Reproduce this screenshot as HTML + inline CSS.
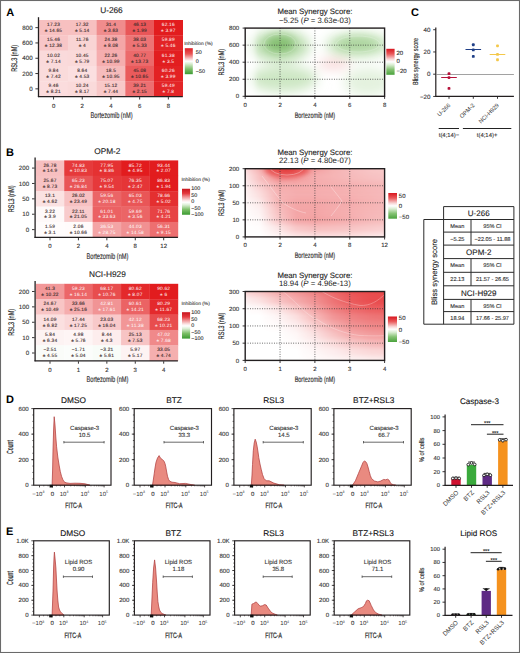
<!DOCTYPE html>
<html><head><meta charset="utf-8"><title>Figure</title>
<style>html,body{margin:0;padding:0;background:#fff;}svg{display:block;}</style>
</head><body>
<svg width="520" height="653" viewBox="0 0 520 653" font-family='"Liberation Sans", sans-serif' text-rendering="geometricPrecision">
<defs>
<linearGradient id="cbA" x1="0" y1="0" x2="0" y2="1">
<stop offset="0" stop-color="#de1f26"/><stop offset="0.22" stop-color="#ea5656"/>
<stop offset="0.42" stop-color="#f8d2d2"/><stop offset="0.5" stop-color="#ffffff"/>
<stop offset="0.6" stop-color="#d8ecd0"/><stop offset="0.8" stop-color="#7fbf6c"/>
<stop offset="1" stop-color="#3c9a32"/></linearGradient>
<linearGradient id="cbB" x1="0" y1="0" x2="0" y2="1">
<stop offset="0" stop-color="#c8161e"/><stop offset="0.18" stop-color="#e43a3e"/>
<stop offset="0.3" stop-color="#ee8a8c"/><stop offset="0.45" stop-color="#fbe4e4"/><stop offset="0.52" stop-color="#ffffff"/>
<stop offset="0.62" stop-color="#dcefd6"/><stop offset="0.8" stop-color="#7cbf68"/>
<stop offset="1" stop-color="#3a9a30"/></linearGradient>
<linearGradient id="cbS" x1="0" y1="0" x2="0" y2="1">
<stop offset="0" stop-color="#d8161e"/><stop offset="0.2" stop-color="#ea5a5c"/>
<stop offset="0.4" stop-color="#f8d6d6"/><stop offset="0.5" stop-color="#ffffff"/>
<stop offset="0.62" stop-color="#d8ecd0"/><stop offset="0.8" stop-color="#84c272"/>
<stop offset="1" stop-color="#4aa23c"/></linearGradient>
<filter id="blur4" x="-50%" y="-50%" width="200%" height="200%"><feGaussianBlur stdDeviation="4"/></filter>
<filter id="blur6" x="-50%" y="-50%" width="200%" height="200%"><feGaussianBlur stdDeviation="6"/></filter>
<filter id="blur3" x="-50%" y="-50%" width="200%" height="200%"><feGaussianBlur stdDeviation="2.5"/></filter>
<clipPath id="clip_synA"><rect x="245.2" y="28.1" width="139.40" height="68.20"/></clipPath>
<clipPath id="clip_synB"><rect x="245.2" y="168.7" width="139.40" height="68.20"/></clipPath>
<clipPath id="clip_synC"><rect x="245.2" y="291.5" width="139.40" height="68.90"/></clipPath>
<g id="synA"><rect x="245.2" y="28.1" width="139.40" height="68.20" fill="#ffffff"/>
<g filter="url(#blur6)">
<ellipse cx="283" cy="79" rx="34" ry="13" fill="#cde7c4"/>
<ellipse cx="368" cy="82" rx="24" ry="14" fill="#e4f2df"/>
<ellipse cx="280" cy="46" rx="30" ry="16" fill="#c0e0b5"/>
<ellipse cx="358" cy="45" rx="32" ry="12" fill="#c6e4bc"/>
<ellipse cx="334" cy="64" rx="16" ry="4.5" fill="#f7d2d2"/>
</g>
<g filter="url(#blur4)">
<ellipse cx="280" cy="44" rx="15" ry="9" fill="#86c073"/>
<ellipse cx="357" cy="44" rx="20" ry="6.5" fill="#acd49e"/>
</g>
<g fill="none" stroke="#ffffff" stroke-width="0.6" opacity="0.35">
<ellipse cx="280" cy="44" rx="16" ry="10"/>
<ellipse cx="358" cy="44" rx="22" ry="8"/>
</g>
<rect x="245.2" y="28.1" width="10" height="68.20" fill="#ffffff" opacity="0.5" filter="url(#blur3)"/>
</g>
<g id="synB">
<linearGradient id="synB_g0" x1="0" y1="0" x2="1" y2="0"><stop offset="0.000" stop-color="#fceaea"/><stop offset="0.062" stop-color="#f9cecf"/><stop offset="0.125" stop-color="#f5b3b3"/><stop offset="0.188" stop-color="#f18d8e"/><stop offset="0.250" stop-color="#ec6869"/><stop offset="0.312" stop-color="#ed7273"/><stop offset="0.375" stop-color="#ef7c7d"/><stop offset="0.438" stop-color="#f18e8f"/><stop offset="0.500" stop-color="#f39fa0"/><stop offset="0.562" stop-color="#f4a8a9"/><stop offset="0.625" stop-color="#f5b2b2"/><stop offset="0.688" stop-color="#f6b7b7"/><stop offset="0.750" stop-color="#f7bcbd"/><stop offset="0.812" stop-color="#f7c0c1"/><stop offset="0.875" stop-color="#f8c4c5"/><stop offset="0.938" stop-color="#f8c7c7"/><stop offset="1.000" stop-color="#f8c9c9"/></linearGradient><linearGradient id="synB_g1" x1="0" y1="0" x2="1" y2="0"><stop offset="0.000" stop-color="#fdefef"/><stop offset="0.062" stop-color="#fad3d4"/><stop offset="0.125" stop-color="#f6b8b9"/><stop offset="0.188" stop-color="#f29a9b"/><stop offset="0.250" stop-color="#ef7c7d"/><stop offset="0.312" stop-color="#ef8385"/><stop offset="0.375" stop-color="#f08b8c"/><stop offset="0.438" stop-color="#f29899"/><stop offset="0.500" stop-color="#f4a5a6"/><stop offset="0.562" stop-color="#f4abac"/><stop offset="0.625" stop-color="#f5b2b2"/><stop offset="0.688" stop-color="#f6b6b7"/><stop offset="0.750" stop-color="#f6babb"/><stop offset="0.812" stop-color="#f7bebf"/><stop offset="0.875" stop-color="#f7c2c2"/><stop offset="0.938" stop-color="#f8c4c4"/><stop offset="1.000" stop-color="#f8c6c7"/></linearGradient><linearGradient id="synB_g2" x1="0" y1="0" x2="1" y2="0"><stop offset="0.000" stop-color="#fef3f4"/><stop offset="0.062" stop-color="#fad8d9"/><stop offset="0.125" stop-color="#f7bebe"/><stop offset="0.188" stop-color="#f4a7a8"/><stop offset="0.250" stop-color="#f19091"/><stop offset="0.312" stop-color="#f29596"/><stop offset="0.375" stop-color="#f29a9a"/><stop offset="0.438" stop-color="#f3a2a3"/><stop offset="0.500" stop-color="#f4aaab"/><stop offset="0.562" stop-color="#f5aeaf"/><stop offset="0.625" stop-color="#f5b2b2"/><stop offset="0.688" stop-color="#f6b5b6"/><stop offset="0.750" stop-color="#f6b8b9"/><stop offset="0.812" stop-color="#f7bcbc"/><stop offset="0.875" stop-color="#f7bfc0"/><stop offset="0.938" stop-color="#f7c1c2"/><stop offset="1.000" stop-color="#f8c3c4"/></linearGradient><linearGradient id="synB_g3" x1="0" y1="0" x2="1" y2="0"><stop offset="0.000" stop-color="#fef5f5"/><stop offset="0.062" stop-color="#fadadb"/><stop offset="0.125" stop-color="#f7c0c0"/><stop offset="0.188" stop-color="#f4abab"/><stop offset="0.250" stop-color="#f29596"/><stop offset="0.312" stop-color="#f2999a"/><stop offset="0.375" stop-color="#f39d9e"/><stop offset="0.438" stop-color="#f4a4a5"/><stop offset="0.500" stop-color="#f4abac"/><stop offset="0.562" stop-color="#f5aeaf"/><stop offset="0.625" stop-color="#f5b1b2"/><stop offset="0.688" stop-color="#f6b5b5"/><stop offset="0.750" stop-color="#f6b8b8"/><stop offset="0.812" stop-color="#f6bbbb"/><stop offset="0.875" stop-color="#f7bebe"/><stop offset="0.938" stop-color="#f7c0c1"/><stop offset="1.000" stop-color="#f7c2c3"/></linearGradient><linearGradient id="synB_g4" x1="0" y1="0" x2="1" y2="0"><stop offset="0.000" stop-color="#fef6f6"/><stop offset="0.062" stop-color="#fbdfdf"/><stop offset="0.125" stop-color="#f8c7c8"/><stop offset="0.188" stop-color="#f6b4b4"/><stop offset="0.250" stop-color="#f3a0a1"/><stop offset="0.312" stop-color="#f3a2a3"/><stop offset="0.375" stop-color="#f4a4a4"/><stop offset="0.438" stop-color="#f4a8a9"/><stop offset="0.500" stop-color="#f5acad"/><stop offset="0.562" stop-color="#f5aeaf"/><stop offset="0.625" stop-color="#f5b1b1"/><stop offset="0.688" stop-color="#f5b3b3"/><stop offset="0.750" stop-color="#f6b5b6"/><stop offset="0.812" stop-color="#f6b8b8"/><stop offset="0.875" stop-color="#f6babb"/><stop offset="0.938" stop-color="#f7bcbd"/><stop offset="1.000" stop-color="#f7bebf"/></linearGradient><linearGradient id="synB_g5" x1="0" y1="0" x2="1" y2="0"><stop offset="0.000" stop-color="#fef8f8"/><stop offset="0.062" stop-color="#fce3e4"/><stop offset="0.125" stop-color="#f9cecf"/><stop offset="0.188" stop-color="#f7bdbe"/><stop offset="0.250" stop-color="#f4abac"/><stop offset="0.312" stop-color="#f4abab"/><stop offset="0.375" stop-color="#f4aaab"/><stop offset="0.438" stop-color="#f5acac"/><stop offset="0.500" stop-color="#f5adae"/><stop offset="0.562" stop-color="#f5aeaf"/><stop offset="0.625" stop-color="#f5b0b0"/><stop offset="0.688" stop-color="#f5b1b2"/><stop offset="0.750" stop-color="#f5b2b3"/><stop offset="0.812" stop-color="#f6b4b5"/><stop offset="0.875" stop-color="#f6b7b7"/><stop offset="0.938" stop-color="#f6b9b9"/><stop offset="1.000" stop-color="#f6bbbb"/></linearGradient><linearGradient id="synB_g6" x1="0" y1="0" x2="1" y2="0"><stop offset="0.000" stop-color="#fef9f9"/><stop offset="0.062" stop-color="#fce5e5"/><stop offset="0.125" stop-color="#f9d1d1"/><stop offset="0.188" stop-color="#f7bfc0"/><stop offset="0.250" stop-color="#f5aeae"/><stop offset="0.312" stop-color="#f5acad"/><stop offset="0.375" stop-color="#f4abac"/><stop offset="0.438" stop-color="#f5acad"/><stop offset="0.500" stop-color="#f5adae"/><stop offset="0.562" stop-color="#f5aeaf"/><stop offset="0.625" stop-color="#f5afb0"/><stop offset="0.688" stop-color="#f5b0b1"/><stop offset="0.750" stop-color="#f5b1b2"/><stop offset="0.812" stop-color="#f6b4b4"/><stop offset="0.875" stop-color="#f6b6b6"/><stop offset="0.938" stop-color="#f6b8b9"/><stop offset="1.000" stop-color="#f6babb"/></linearGradient><linearGradient id="synB_g7" x1="0" y1="0" x2="1" y2="0"><stop offset="0.000" stop-color="#fefafa"/><stop offset="0.062" stop-color="#fce8e8"/><stop offset="0.125" stop-color="#fad6d7"/><stop offset="0.188" stop-color="#f7c3c3"/><stop offset="0.250" stop-color="#f5afb0"/><stop offset="0.312" stop-color="#f5adae"/><stop offset="0.375" stop-color="#f4abac"/><stop offset="0.438" stop-color="#f5acac"/><stop offset="0.500" stop-color="#f5acad"/><stop offset="0.562" stop-color="#f5adae"/><stop offset="0.625" stop-color="#f5aeaf"/><stop offset="0.688" stop-color="#f5afb0"/><stop offset="0.750" stop-color="#f5b1b1"/><stop offset="0.812" stop-color="#f5b3b3"/><stop offset="0.875" stop-color="#f6b5b6"/><stop offset="0.938" stop-color="#f6b7b8"/><stop offset="1.000" stop-color="#f6b9ba"/></linearGradient><linearGradient id="synB_g8" x1="0" y1="0" x2="1" y2="0"><stop offset="0.000" stop-color="#fefbfb"/><stop offset="0.062" stop-color="#fcebeb"/><stop offset="0.125" stop-color="#fbdcdc"/><stop offset="0.188" stop-color="#f8c6c7"/><stop offset="0.250" stop-color="#f5b1b2"/><stop offset="0.312" stop-color="#f5aeaf"/><stop offset="0.375" stop-color="#f4abac"/><stop offset="0.438" stop-color="#f4abac"/><stop offset="0.500" stop-color="#f4abac"/><stop offset="0.562" stop-color="#f5acad"/><stop offset="0.625" stop-color="#f5adae"/><stop offset="0.688" stop-color="#f5afaf"/><stop offset="0.750" stop-color="#f5b0b0"/><stop offset="0.812" stop-color="#f5b2b2"/><stop offset="0.875" stop-color="#f6b4b5"/><stop offset="0.938" stop-color="#f6b6b7"/><stop offset="1.000" stop-color="#f6b8b9"/></linearGradient><linearGradient id="synB_g9" x1="0" y1="0" x2="1" y2="0"><stop offset="0.000" stop-color="#fefbfb"/><stop offset="0.062" stop-color="#fdecec"/><stop offset="0.125" stop-color="#fbdede"/><stop offset="0.188" stop-color="#f8c8c8"/><stop offset="0.250" stop-color="#f5b2b3"/><stop offset="0.312" stop-color="#f5aeaf"/><stop offset="0.375" stop-color="#f4abac"/><stop offset="0.438" stop-color="#f4abac"/><stop offset="0.500" stop-color="#f4abac"/><stop offset="0.562" stop-color="#f5acad"/><stop offset="0.625" stop-color="#f5adae"/><stop offset="0.688" stop-color="#f5aeaf"/><stop offset="0.750" stop-color="#f5afb0"/><stop offset="0.812" stop-color="#f5b2b2"/><stop offset="0.875" stop-color="#f6b4b4"/><stop offset="0.938" stop-color="#f6b6b7"/><stop offset="1.000" stop-color="#f6b8b9"/></linearGradient><linearGradient id="synB_g10" x1="0" y1="0" x2="1" y2="0"><stop offset="0.000" stop-color="#fffcfc"/><stop offset="0.062" stop-color="#fdeff0"/><stop offset="0.125" stop-color="#fbe3e3"/><stop offset="0.188" stop-color="#f9cbcc"/><stop offset="0.250" stop-color="#f6b4b4"/><stop offset="0.312" stop-color="#f5aeaf"/><stop offset="0.375" stop-color="#f4a9aa"/><stop offset="0.438" stop-color="#f4a9aa"/><stop offset="0.500" stop-color="#f4a9aa"/><stop offset="0.562" stop-color="#f4abab"/><stop offset="0.625" stop-color="#f5acad"/><stop offset="0.688" stop-color="#f5adae"/><stop offset="0.750" stop-color="#f5aeaf"/><stop offset="0.812" stop-color="#f5b1b2"/><stop offset="0.875" stop-color="#f6b4b4"/><stop offset="0.938" stop-color="#f6b6b7"/><stop offset="1.000" stop-color="#f6b8b9"/></linearGradient><linearGradient id="synB_g11" x1="0" y1="0" x2="1" y2="0"><stop offset="0.000" stop-color="#fffdfd"/><stop offset="0.062" stop-color="#fdf3f3"/><stop offset="0.125" stop-color="#fce9e9"/><stop offset="0.188" stop-color="#f9cfd0"/><stop offset="0.250" stop-color="#f6b6b6"/><stop offset="0.312" stop-color="#f5aeaf"/><stop offset="0.375" stop-color="#f4a7a8"/><stop offset="0.438" stop-color="#f4a7a8"/><stop offset="0.500" stop-color="#f4a7a8"/><stop offset="0.562" stop-color="#f4a9aa"/><stop offset="0.625" stop-color="#f4abac"/><stop offset="0.688" stop-color="#f5acad"/><stop offset="0.750" stop-color="#f5adae"/><stop offset="0.812" stop-color="#f5b1b1"/><stop offset="0.875" stop-color="#f6b4b4"/><stop offset="0.938" stop-color="#f6b6b7"/><stop offset="1.000" stop-color="#f6b8b9"/></linearGradient><linearGradient id="synB_g12" x1="0" y1="0" x2="1" y2="0"><stop offset="0.000" stop-color="#fffdfd"/><stop offset="0.062" stop-color="#fef4f4"/><stop offset="0.125" stop-color="#fceaea"/><stop offset="0.188" stop-color="#f9d0d1"/><stop offset="0.250" stop-color="#f6b7b7"/><stop offset="0.312" stop-color="#f5afaf"/><stop offset="0.375" stop-color="#f4a7a7"/><stop offset="0.438" stop-color="#f4a7a7"/><stop offset="0.500" stop-color="#f4a7a7"/><stop offset="0.562" stop-color="#f4a9aa"/><stop offset="0.625" stop-color="#f4abac"/><stop offset="0.688" stop-color="#f5acad"/><stop offset="0.750" stop-color="#f5adae"/><stop offset="0.812" stop-color="#f5b1b1"/><stop offset="0.875" stop-color="#f6b4b4"/><stop offset="0.938" stop-color="#f6b6b7"/><stop offset="1.000" stop-color="#f6b8b9"/></linearGradient><linearGradient id="synB_g13" x1="0" y1="0" x2="1" y2="0"><stop offset="0.000" stop-color="#fffefe"/><stop offset="0.062" stop-color="#fef6f6"/><stop offset="0.125" stop-color="#fdeeee"/><stop offset="0.188" stop-color="#fad4d4"/><stop offset="0.250" stop-color="#f6babb"/><stop offset="0.312" stop-color="#f5afb0"/><stop offset="0.375" stop-color="#f4a5a6"/><stop offset="0.438" stop-color="#f4a5a6"/><stop offset="0.500" stop-color="#f4a5a6"/><stop offset="0.562" stop-color="#f4a7a8"/><stop offset="0.625" stop-color="#f4aaab"/><stop offset="0.688" stop-color="#f5acac"/><stop offset="0.750" stop-color="#f5adae"/><stop offset="0.812" stop-color="#f5b1b1"/><stop offset="0.875" stop-color="#f6b4b4"/><stop offset="0.938" stop-color="#f6b6b7"/><stop offset="1.000" stop-color="#f6b8b9"/></linearGradient><linearGradient id="synB_g14" x1="0" y1="0" x2="1" y2="0"><stop offset="0.000" stop-color="#ffffff"/><stop offset="0.062" stop-color="#fef8f8"/><stop offset="0.125" stop-color="#fdf1f2"/><stop offset="0.188" stop-color="#fad8d8"/><stop offset="0.250" stop-color="#f7bebe"/><stop offset="0.312" stop-color="#f5b0b1"/><stop offset="0.375" stop-color="#f3a3a4"/><stop offset="0.438" stop-color="#f3a3a4"/><stop offset="0.500" stop-color="#f3a3a4"/><stop offset="0.562" stop-color="#f4a6a7"/><stop offset="0.625" stop-color="#f4a9aa"/><stop offset="0.688" stop-color="#f4abac"/><stop offset="0.750" stop-color="#f5adae"/><stop offset="0.812" stop-color="#f5b1b1"/><stop offset="0.875" stop-color="#f6b4b4"/><stop offset="0.938" stop-color="#f6b6b7"/><stop offset="1.000" stop-color="#f6b8b9"/></linearGradient><linearGradient id="synB_g15" x1="0" y1="0" x2="1" y2="0"><stop offset="0.000" stop-color="#ffffff"/><stop offset="0.062" stop-color="#fef9f9"/><stop offset="0.125" stop-color="#fdf3f3"/><stop offset="0.188" stop-color="#fad9d9"/><stop offset="0.250" stop-color="#f7bfc0"/><stop offset="0.312" stop-color="#f5b1b2"/><stop offset="0.375" stop-color="#f3a3a4"/><stop offset="0.438" stop-color="#f3a3a4"/><stop offset="0.500" stop-color="#f3a3a3"/><stop offset="0.562" stop-color="#f4a6a7"/><stop offset="0.625" stop-color="#f4a9aa"/><stop offset="0.688" stop-color="#f4abac"/><stop offset="0.750" stop-color="#f5adae"/><stop offset="0.812" stop-color="#f5b1b1"/><stop offset="0.875" stop-color="#f6b4b5"/><stop offset="0.938" stop-color="#f6b6b7"/><stop offset="1.000" stop-color="#f6b9b9"/></linearGradient><linearGradient id="synB_g16" x1="0" y1="0" x2="1" y2="0"><stop offset="0.000" stop-color="#ffffff"/><stop offset="0.062" stop-color="#fefafa"/><stop offset="0.125" stop-color="#fef5f5"/><stop offset="0.188" stop-color="#fbdddd"/><stop offset="0.250" stop-color="#f8c4c4"/><stop offset="0.312" stop-color="#f6b4b5"/><stop offset="0.375" stop-color="#f4a5a6"/><stop offset="0.438" stop-color="#f4a4a4"/><stop offset="0.500" stop-color="#f3a3a3"/><stop offset="0.562" stop-color="#f4a6a7"/><stop offset="0.625" stop-color="#f4a9aa"/><stop offset="0.688" stop-color="#f5acac"/><stop offset="0.750" stop-color="#f5aeaf"/><stop offset="0.812" stop-color="#f5b2b3"/><stop offset="0.875" stop-color="#f6b6b7"/><stop offset="0.938" stop-color="#f6b9b9"/><stop offset="1.000" stop-color="#f6bbbc"/></linearGradient><linearGradient id="synB_g17" x1="0" y1="0" x2="1" y2="0"><stop offset="0.000" stop-color="#ffffff"/><stop offset="0.062" stop-color="#fffcfc"/><stop offset="0.125" stop-color="#fef8f8"/><stop offset="0.188" stop-color="#fbe0e1"/><stop offset="0.250" stop-color="#f8c8c9"/><stop offset="0.312" stop-color="#f6b7b8"/><stop offset="0.375" stop-color="#f4a7a7"/><stop offset="0.438" stop-color="#f4a5a5"/><stop offset="0.500" stop-color="#f3a3a3"/><stop offset="0.562" stop-color="#f4a6a7"/><stop offset="0.625" stop-color="#f4a9aa"/><stop offset="0.688" stop-color="#f5acad"/><stop offset="0.750" stop-color="#f5afb0"/><stop offset="0.812" stop-color="#f6b4b4"/><stop offset="0.875" stop-color="#f6b8b8"/><stop offset="0.938" stop-color="#f6bbbc"/><stop offset="1.000" stop-color="#f7bebf"/></linearGradient><linearGradient id="synB_g18" x1="0" y1="0" x2="1" y2="0"><stop offset="0.000" stop-color="#ffffff"/><stop offset="0.062" stop-color="#fffcfc"/><stop offset="0.125" stop-color="#fef9f9"/><stop offset="0.188" stop-color="#fbe2e2"/><stop offset="0.250" stop-color="#f9cbcc"/><stop offset="0.312" stop-color="#f6babb"/><stop offset="0.375" stop-color="#f4a9aa"/><stop offset="0.438" stop-color="#f4a7a8"/><stop offset="0.500" stop-color="#f4a4a5"/><stop offset="0.562" stop-color="#f4a8a8"/><stop offset="0.625" stop-color="#f4abab"/><stop offset="0.688" stop-color="#f5aeae"/><stop offset="0.750" stop-color="#f5b1b2"/><stop offset="0.812" stop-color="#f6b5b6"/><stop offset="0.875" stop-color="#f6b9ba"/><stop offset="0.938" stop-color="#f7bdbd"/><stop offset="1.000" stop-color="#f7c0c0"/></linearGradient><linearGradient id="synB_g19" x1="0" y1="0" x2="1" y2="0"><stop offset="0.000" stop-color="#ffffff"/><stop offset="0.062" stop-color="#fffdfd"/><stop offset="0.125" stop-color="#fefbfb"/><stop offset="0.188" stop-color="#fce9e9"/><stop offset="0.250" stop-color="#fad7d8"/><stop offset="0.312" stop-color="#f8c7c8"/><stop offset="0.375" stop-color="#f6b7b8"/><stop offset="0.438" stop-color="#f5b3b4"/><stop offset="0.500" stop-color="#f5afb0"/><stop offset="0.562" stop-color="#f5b2b2"/><stop offset="0.625" stop-color="#f6b4b4"/><stop offset="0.688" stop-color="#f6b6b7"/><stop offset="0.750" stop-color="#f6b9ba"/><stop offset="0.812" stop-color="#f7bdbe"/><stop offset="0.875" stop-color="#f7c1c1"/><stop offset="0.938" stop-color="#f8c4c4"/><stop offset="1.000" stop-color="#f8c7c8"/></linearGradient><linearGradient id="synB_g20" x1="0" y1="0" x2="1" y2="0"><stop offset="0.000" stop-color="#ffffff"/><stop offset="0.062" stop-color="#fffefe"/><stop offset="0.125" stop-color="#fffdfd"/><stop offset="0.188" stop-color="#fdf0f0"/><stop offset="0.250" stop-color="#fce3e3"/><stop offset="0.312" stop-color="#fad4d4"/><stop offset="0.375" stop-color="#f8c5c5"/><stop offset="0.438" stop-color="#f7c0c0"/><stop offset="0.500" stop-color="#f6babb"/><stop offset="0.562" stop-color="#f7bcbc"/><stop offset="0.625" stop-color="#f7bdbe"/><stop offset="0.688" stop-color="#f7bfc0"/><stop offset="0.750" stop-color="#f7c1c2"/><stop offset="0.812" stop-color="#f8c5c5"/><stop offset="0.875" stop-color="#f8c8c8"/><stop offset="0.938" stop-color="#f8cbcc"/><stop offset="1.000" stop-color="#f9cecf"/></linearGradient><linearGradient id="synB_g21" x1="0" y1="0" x2="1" y2="0"><stop offset="0.000" stop-color="#ffffff"/><stop offset="0.062" stop-color="#fffefe"/><stop offset="0.125" stop-color="#fffdfd"/><stop offset="0.188" stop-color="#fdf2f2"/><stop offset="0.250" stop-color="#fce6e7"/><stop offset="0.312" stop-color="#fad8d8"/><stop offset="0.375" stop-color="#f8c9ca"/><stop offset="0.438" stop-color="#f8c4c5"/><stop offset="0.500" stop-color="#f7bfbf"/><stop offset="0.562" stop-color="#f7c0c0"/><stop offset="0.625" stop-color="#f7c1c1"/><stop offset="0.688" stop-color="#f7c3c3"/><stop offset="0.750" stop-color="#f8c5c5"/><stop offset="0.812" stop-color="#f8c8c9"/><stop offset="0.875" stop-color="#f9cbcc"/><stop offset="0.938" stop-color="#f9cecf"/><stop offset="1.000" stop-color="#f9d2d2"/></linearGradient><linearGradient id="synB_g22" x1="0" y1="0" x2="1" y2="0"><stop offset="0.000" stop-color="#ffffff"/><stop offset="0.062" stop-color="#fffefe"/><stop offset="0.125" stop-color="#fffefe"/><stop offset="0.188" stop-color="#fef5f5"/><stop offset="0.250" stop-color="#fdeded"/><stop offset="0.312" stop-color="#fbe1e2"/><stop offset="0.375" stop-color="#fad6d7"/><stop offset="0.438" stop-color="#f9d2d2"/><stop offset="0.500" stop-color="#f9cece"/><stop offset="0.562" stop-color="#f9cecf"/><stop offset="0.625" stop-color="#f9cfcf"/><stop offset="0.688" stop-color="#f9d0d0"/><stop offset="0.750" stop-color="#f9d1d1"/><stop offset="0.812" stop-color="#fad4d4"/><stop offset="0.875" stop-color="#fad7d8"/><stop offset="0.938" stop-color="#fadada"/><stop offset="1.000" stop-color="#fbdddd"/></linearGradient><linearGradient id="synB_g23" x1="0" y1="0" x2="1" y2="0"><stop offset="0.000" stop-color="#ffffff"/><stop offset="0.062" stop-color="#ffffff"/><stop offset="0.125" stop-color="#ffffff"/><stop offset="0.188" stop-color="#fef9f9"/><stop offset="0.250" stop-color="#fef3f3"/><stop offset="0.312" stop-color="#fcebeb"/><stop offset="0.375" stop-color="#fbe3e3"/><stop offset="0.438" stop-color="#fbe0e0"/><stop offset="0.500" stop-color="#fbdcdd"/><stop offset="0.562" stop-color="#fbdcdd"/><stop offset="0.625" stop-color="#fbdcdd"/><stop offset="0.688" stop-color="#fbdddd"/><stop offset="0.750" stop-color="#fbdddd"/><stop offset="0.812" stop-color="#fbe0e0"/><stop offset="0.875" stop-color="#fce3e3"/><stop offset="0.938" stop-color="#fce5e6"/><stop offset="1.000" stop-color="#fce8e8"/></linearGradient>
<g filter="url(#fblur_synB)"><rect x="241.20" y="164.70" width="147.40" height="7.24" fill="url(#synB_g0)"/><rect x="241.20" y="171.54" width="147.40" height="3.24" fill="url(#synB_g1)"/><rect x="241.20" y="174.38" width="147.40" height="3.24" fill="url(#synB_g2)"/><rect x="241.20" y="177.22" width="147.40" height="3.24" fill="url(#synB_g3)"/><rect x="241.20" y="180.07" width="147.40" height="3.24" fill="url(#synB_g4)"/><rect x="241.20" y="182.91" width="147.40" height="3.24" fill="url(#synB_g5)"/><rect x="241.20" y="185.75" width="147.40" height="3.24" fill="url(#synB_g6)"/><rect x="241.20" y="188.59" width="147.40" height="3.24" fill="url(#synB_g7)"/><rect x="241.20" y="191.43" width="147.40" height="3.24" fill="url(#synB_g8)"/><rect x="241.20" y="194.28" width="147.40" height="3.24" fill="url(#synB_g9)"/><rect x="241.20" y="197.12" width="147.40" height="3.24" fill="url(#synB_g10)"/><rect x="241.20" y="199.96" width="147.40" height="3.24" fill="url(#synB_g11)"/><rect x="241.20" y="202.80" width="147.40" height="3.24" fill="url(#synB_g12)"/><rect x="241.20" y="205.64" width="147.40" height="3.24" fill="url(#synB_g13)"/><rect x="241.20" y="208.48" width="147.40" height="3.24" fill="url(#synB_g14)"/><rect x="241.20" y="211.32" width="147.40" height="3.24" fill="url(#synB_g15)"/><rect x="241.20" y="214.17" width="147.40" height="3.24" fill="url(#synB_g16)"/><rect x="241.20" y="217.01" width="147.40" height="3.24" fill="url(#synB_g17)"/><rect x="241.20" y="219.85" width="147.40" height="3.24" fill="url(#synB_g18)"/><rect x="241.20" y="222.69" width="147.40" height="3.24" fill="url(#synB_g19)"/><rect x="241.20" y="225.53" width="147.40" height="3.24" fill="url(#synB_g20)"/><rect x="241.20" y="228.38" width="147.40" height="3.24" fill="url(#synB_g21)"/><rect x="241.20" y="231.22" width="147.40" height="3.24" fill="url(#synB_g22)"/><rect x="241.20" y="234.06" width="147.40" height="7.24" fill="url(#synB_g23)"/></g>
<g filter="url(#blur3)"><ellipse cx="287" cy="169" rx="22" ry="9" fill="#ea5a5a"/><ellipse cx="286" cy="168" rx="12" ry="5" fill="#e43c3c"/></g><g fill="none" stroke="#ffffff" stroke-width="0.7" opacity="0.45"><ellipse cx="287" cy="167" rx="17" ry="8"/><path d="M262,176 C270,186 276,195 283,203 M283,203 C290,208 300,212 306,213"/><path d="M331,187 C335,192 339,197 342,201 C339,206 335,211 331,216"/></g>
</g>
<filter id="fblur_synB" x="-5%" y="-5%" width="110%" height="110%"><feGaussianBlur stdDeviation="1.3"/></filter>
<g id="synC">
<linearGradient id="synC_g0" x1="0" y1="0" x2="1" y2="0"><stop offset="0.000" stop-color="#fadadb"/><stop offset="0.062" stop-color="#f9d0d0"/><stop offset="0.125" stop-color="#f8c5c6"/><stop offset="0.188" stop-color="#f6b8b9"/><stop offset="0.250" stop-color="#f4abac"/><stop offset="0.312" stop-color="#f3a0a1"/><stop offset="0.375" stop-color="#f29596"/><stop offset="0.438" stop-color="#f08a8b"/><stop offset="0.500" stop-color="#ef7f80"/><stop offset="0.562" stop-color="#ed7274"/><stop offset="0.625" stop-color="#ec6567"/><stop offset="0.688" stop-color="#ea5a5c"/><stop offset="0.750" stop-color="#e94f51"/><stop offset="0.812" stop-color="#e84b4d"/><stop offset="0.875" stop-color="#e84648"/><stop offset="0.938" stop-color="#e84648"/><stop offset="1.000" stop-color="#e84648"/></linearGradient><linearGradient id="synC_g1" x1="0" y1="0" x2="1" y2="0"><stop offset="0.000" stop-color="#fce5e5"/><stop offset="0.062" stop-color="#fbdcdc"/><stop offset="0.125" stop-color="#f9d2d2"/><stop offset="0.188" stop-color="#f8c4c4"/><stop offset="0.250" stop-color="#f6b6b7"/><stop offset="0.312" stop-color="#f4aaab"/><stop offset="0.375" stop-color="#f39e9f"/><stop offset="0.438" stop-color="#f19293"/><stop offset="0.500" stop-color="#f08788"/><stop offset="0.562" stop-color="#ee797a"/><stop offset="0.625" stop-color="#ec6b6c"/><stop offset="0.688" stop-color="#eb5f60"/><stop offset="0.750" stop-color="#e95355"/><stop offset="0.812" stop-color="#e94e4f"/><stop offset="0.875" stop-color="#e8484a"/><stop offset="0.938" stop-color="#e84749"/><stop offset="1.000" stop-color="#e84648"/></linearGradient><linearGradient id="synC_g2" x1="0" y1="0" x2="1" y2="0"><stop offset="0.000" stop-color="#fdf0f0"/><stop offset="0.062" stop-color="#fce7e8"/><stop offset="0.125" stop-color="#fbdfdf"/><stop offset="0.188" stop-color="#f9d0d0"/><stop offset="0.250" stop-color="#f7c1c1"/><stop offset="0.312" stop-color="#f6b4b5"/><stop offset="0.375" stop-color="#f4a7a8"/><stop offset="0.438" stop-color="#f29b9c"/><stop offset="0.500" stop-color="#f18e8f"/><stop offset="0.562" stop-color="#ef7f80"/><stop offset="0.625" stop-color="#ed7071"/><stop offset="0.688" stop-color="#eb6365"/><stop offset="0.750" stop-color="#ea5758"/><stop offset="0.812" stop-color="#e95052"/><stop offset="0.875" stop-color="#e84a4c"/><stop offset="0.938" stop-color="#e8484a"/><stop offset="1.000" stop-color="#e84648"/></linearGradient><linearGradient id="synC_g3" x1="0" y1="0" x2="1" y2="0"><stop offset="0.000" stop-color="#fef3f3"/><stop offset="0.062" stop-color="#fcebeb"/><stop offset="0.125" stop-color="#fbe3e3"/><stop offset="0.188" stop-color="#fad4d4"/><stop offset="0.250" stop-color="#f8c5c6"/><stop offset="0.312" stop-color="#f6b8b9"/><stop offset="0.375" stop-color="#f4abac"/><stop offset="0.438" stop-color="#f39e9f"/><stop offset="0.500" stop-color="#f19192"/><stop offset="0.562" stop-color="#ef8283"/><stop offset="0.625" stop-color="#ed7274"/><stop offset="0.688" stop-color="#ec6667"/><stop offset="0.750" stop-color="#ea595a"/><stop offset="0.812" stop-color="#e95254"/><stop offset="0.875" stop-color="#e94c4e"/><stop offset="0.938" stop-color="#e84a4c"/><stop offset="1.000" stop-color="#e84849"/></linearGradient><linearGradient id="synC_g4" x1="0" y1="0" x2="1" y2="0"><stop offset="0.000" stop-color="#fef9f9"/><stop offset="0.062" stop-color="#fdf3f3"/><stop offset="0.125" stop-color="#fdeded"/><stop offset="0.188" stop-color="#fbe0e1"/><stop offset="0.250" stop-color="#fad4d4"/><stop offset="0.312" stop-color="#f8c6c7"/><stop offset="0.375" stop-color="#f6b8b9"/><stop offset="0.438" stop-color="#f4a9aa"/><stop offset="0.500" stop-color="#f29a9b"/><stop offset="0.562" stop-color="#f08a8b"/><stop offset="0.625" stop-color="#ee7a7b"/><stop offset="0.688" stop-color="#ed6e6f"/><stop offset="0.750" stop-color="#eb6264"/><stop offset="0.812" stop-color="#ea5c5d"/><stop offset="0.875" stop-color="#ea5557"/><stop offset="0.938" stop-color="#e95355"/><stop offset="1.000" stop-color="#e95152"/></linearGradient><linearGradient id="synC_g5" x1="0" y1="0" x2="1" y2="0"><stop offset="0.000" stop-color="#fffefe"/><stop offset="0.062" stop-color="#fefafa"/><stop offset="0.125" stop-color="#fef7f7"/><stop offset="0.188" stop-color="#fdeded"/><stop offset="0.250" stop-color="#fbe3e3"/><stop offset="0.312" stop-color="#fad4d4"/><stop offset="0.375" stop-color="#f8c5c5"/><stop offset="0.438" stop-color="#f6b4b5"/><stop offset="0.500" stop-color="#f3a3a4"/><stop offset="0.562" stop-color="#f19293"/><stop offset="0.625" stop-color="#ef8182"/><stop offset="0.688" stop-color="#ee7677"/><stop offset="0.750" stop-color="#ec6b6d"/><stop offset="0.812" stop-color="#ec6566"/><stop offset="0.875" stop-color="#eb5e60"/><stop offset="0.938" stop-color="#eb5c5e"/><stop offset="1.000" stop-color="#ea5a5c"/></linearGradient><linearGradient id="synC_g6" x1="0" y1="0" x2="1" y2="0"><stop offset="0.000" stop-color="#ffffff"/><stop offset="0.062" stop-color="#fffcfc"/><stop offset="0.125" stop-color="#fef9f9"/><stop offset="0.188" stop-color="#fdf0f0"/><stop offset="0.250" stop-color="#fce6e7"/><stop offset="0.312" stop-color="#fad8d8"/><stop offset="0.375" stop-color="#f8c9c9"/><stop offset="0.438" stop-color="#f6b7b8"/><stop offset="0.500" stop-color="#f4a6a7"/><stop offset="0.562" stop-color="#f29596"/><stop offset="0.625" stop-color="#f08485"/><stop offset="0.688" stop-color="#ee797a"/><stop offset="0.750" stop-color="#ed6e6f"/><stop offset="0.812" stop-color="#ec6869"/><stop offset="0.875" stop-color="#eb6163"/><stop offset="0.938" stop-color="#eb5f61"/><stop offset="1.000" stop-color="#eb5d5e"/></linearGradient><linearGradient id="synC_g7" x1="0" y1="0" x2="1" y2="0"><stop offset="0.000" stop-color="#ffffff"/><stop offset="0.062" stop-color="#fffdfd"/><stop offset="0.125" stop-color="#fffcfc"/><stop offset="0.188" stop-color="#fef4f4"/><stop offset="0.250" stop-color="#fdeded"/><stop offset="0.312" stop-color="#fbe0e0"/><stop offset="0.375" stop-color="#f9d3d3"/><stop offset="0.438" stop-color="#f7c1c1"/><stop offset="0.500" stop-color="#f5aeaf"/><stop offset="0.562" stop-color="#f39d9e"/><stop offset="0.625" stop-color="#f08b8c"/><stop offset="0.688" stop-color="#ef8081"/><stop offset="0.750" stop-color="#ee7577"/><stop offset="0.812" stop-color="#ed6f71"/><stop offset="0.875" stop-color="#ec6a6b"/><stop offset="0.938" stop-color="#ec6768"/><stop offset="1.000" stop-color="#ec6466"/></linearGradient><linearGradient id="synC_g8" x1="0" y1="0" x2="1" y2="0"><stop offset="0.000" stop-color="#ffffff"/><stop offset="0.062" stop-color="#ffffff"/><stop offset="0.125" stop-color="#ffffff"/><stop offset="0.188" stop-color="#fef9f9"/><stop offset="0.250" stop-color="#fef3f3"/><stop offset="0.312" stop-color="#fce8e8"/><stop offset="0.375" stop-color="#fbdddd"/><stop offset="0.438" stop-color="#f8caca"/><stop offset="0.500" stop-color="#f6b7b7"/><stop offset="0.562" stop-color="#f4a4a5"/><stop offset="0.625" stop-color="#f19293"/><stop offset="0.688" stop-color="#f08789"/><stop offset="0.750" stop-color="#ef7d7e"/><stop offset="0.812" stop-color="#ee7779"/><stop offset="0.875" stop-color="#ed7273"/><stop offset="0.938" stop-color="#ed6f70"/><stop offset="1.000" stop-color="#ec6c6d"/></linearGradient><linearGradient id="synC_g9" x1="0" y1="0" x2="1" y2="0"><stop offset="0.000" stop-color="#ffffff"/><stop offset="0.062" stop-color="#ffffff"/><stop offset="0.125" stop-color="#ffffff"/><stop offset="0.188" stop-color="#fefafa"/><stop offset="0.250" stop-color="#fef5f5"/><stop offset="0.312" stop-color="#fceaea"/><stop offset="0.375" stop-color="#fbe0e0"/><stop offset="0.438" stop-color="#f9cdcd"/><stop offset="0.500" stop-color="#f6baba"/><stop offset="0.562" stop-color="#f4a8a8"/><stop offset="0.625" stop-color="#f29596"/><stop offset="0.688" stop-color="#f08b8c"/><stop offset="0.750" stop-color="#ef8081"/><stop offset="0.812" stop-color="#ee7a7b"/><stop offset="0.875" stop-color="#ee7576"/><stop offset="0.938" stop-color="#ed7273"/><stop offset="1.000" stop-color="#ed6e70"/></linearGradient><linearGradient id="synC_g10" x1="0" y1="0" x2="1" y2="0"><stop offset="0.000" stop-color="#ffffff"/><stop offset="0.062" stop-color="#ffffff"/><stop offset="0.125" stop-color="#ffffff"/><stop offset="0.188" stop-color="#fffbfb"/><stop offset="0.250" stop-color="#fef7f8"/><stop offset="0.312" stop-color="#fdefef"/><stop offset="0.375" stop-color="#fce6e7"/><stop offset="0.438" stop-color="#fad5d5"/><stop offset="0.500" stop-color="#f8c4c4"/><stop offset="0.562" stop-color="#f5b2b3"/><stop offset="0.625" stop-color="#f3a0a1"/><stop offset="0.688" stop-color="#f29596"/><stop offset="0.750" stop-color="#f0898a"/><stop offset="0.812" stop-color="#ef8385"/><stop offset="0.875" stop-color="#ef7e7f"/><stop offset="0.938" stop-color="#ee7b7c"/><stop offset="1.000" stop-color="#ee7879"/></linearGradient><linearGradient id="synC_g11" x1="0" y1="0" x2="1" y2="0"><stop offset="0.000" stop-color="#ffffff"/><stop offset="0.062" stop-color="#ffffff"/><stop offset="0.125" stop-color="#ffffff"/><stop offset="0.188" stop-color="#fffdfd"/><stop offset="0.250" stop-color="#fefafa"/><stop offset="0.312" stop-color="#fef3f4"/><stop offset="0.375" stop-color="#fdeded"/><stop offset="0.438" stop-color="#fbddde"/><stop offset="0.500" stop-color="#f9cece"/><stop offset="0.562" stop-color="#f7bdbd"/><stop offset="0.625" stop-color="#f4abac"/><stop offset="0.688" stop-color="#f39fa0"/><stop offset="0.750" stop-color="#f19293"/><stop offset="0.812" stop-color="#f18d8e"/><stop offset="0.875" stop-color="#f08788"/><stop offset="0.938" stop-color="#f08485"/><stop offset="1.000" stop-color="#ef8182"/></linearGradient><linearGradient id="synC_g12" x1="0" y1="0" x2="1" y2="0"><stop offset="0.000" stop-color="#ffffff"/><stop offset="0.062" stop-color="#ffffff"/><stop offset="0.125" stop-color="#ffffff"/><stop offset="0.188" stop-color="#fffdfd"/><stop offset="0.250" stop-color="#fefbfb"/><stop offset="0.312" stop-color="#fef5f5"/><stop offset="0.375" stop-color="#fdeeef"/><stop offset="0.438" stop-color="#fbe0e0"/><stop offset="0.500" stop-color="#f9d1d1"/><stop offset="0.562" stop-color="#f7c0c1"/><stop offset="0.625" stop-color="#f5afb0"/><stop offset="0.688" stop-color="#f3a2a3"/><stop offset="0.750" stop-color="#f29596"/><stop offset="0.812" stop-color="#f19091"/><stop offset="0.875" stop-color="#f08a8b"/><stop offset="0.938" stop-color="#f08788"/><stop offset="1.000" stop-color="#f08485"/></linearGradient><linearGradient id="synC_g13" x1="0" y1="0" x2="1" y2="0"><stop offset="0.000" stop-color="#ffffff"/><stop offset="0.062" stop-color="#ffffff"/><stop offset="0.125" stop-color="#ffffff"/><stop offset="0.188" stop-color="#fffefe"/><stop offset="0.250" stop-color="#fffdfd"/><stop offset="0.312" stop-color="#fef7f8"/><stop offset="0.375" stop-color="#fdf2f2"/><stop offset="0.438" stop-color="#fce5e5"/><stop offset="0.500" stop-color="#fad8d9"/><stop offset="0.562" stop-color="#f8c8c9"/><stop offset="0.625" stop-color="#f6b8b9"/><stop offset="0.688" stop-color="#f4abac"/><stop offset="0.750" stop-color="#f39e9f"/><stop offset="0.812" stop-color="#f29899"/><stop offset="0.875" stop-color="#f19293"/><stop offset="0.938" stop-color="#f19091"/><stop offset="1.000" stop-color="#f18d8e"/></linearGradient><linearGradient id="synC_g14" x1="0" y1="0" x2="1" y2="0"><stop offset="0.000" stop-color="#ffffff"/><stop offset="0.062" stop-color="#ffffff"/><stop offset="0.125" stop-color="#ffffff"/><stop offset="0.188" stop-color="#ffffff"/><stop offset="0.250" stop-color="#ffffff"/><stop offset="0.312" stop-color="#fefafa"/><stop offset="0.375" stop-color="#fef6f6"/><stop offset="0.438" stop-color="#fcebeb"/><stop offset="0.500" stop-color="#fbe0e0"/><stop offset="0.562" stop-color="#f9d0d1"/><stop offset="0.625" stop-color="#f7c1c2"/><stop offset="0.688" stop-color="#f6b4b5"/><stop offset="0.750" stop-color="#f4a7a8"/><stop offset="0.812" stop-color="#f3a1a2"/><stop offset="0.875" stop-color="#f29b9c"/><stop offset="0.938" stop-color="#f29899"/><stop offset="1.000" stop-color="#f29697"/></linearGradient><linearGradient id="synC_g15" x1="0" y1="0" x2="1" y2="0"><stop offset="0.000" stop-color="#ffffff"/><stop offset="0.062" stop-color="#ffffff"/><stop offset="0.125" stop-color="#ffffff"/><stop offset="0.188" stop-color="#ffffff"/><stop offset="0.250" stop-color="#ffffff"/><stop offset="0.312" stop-color="#fefbfb"/><stop offset="0.375" stop-color="#fef7f7"/><stop offset="0.438" stop-color="#fdecec"/><stop offset="0.500" stop-color="#fbe2e2"/><stop offset="0.562" stop-color="#fad3d4"/><stop offset="0.625" stop-color="#f8c5c5"/><stop offset="0.688" stop-color="#f6b8b8"/><stop offset="0.750" stop-color="#f4abac"/><stop offset="0.812" stop-color="#f4a5a5"/><stop offset="0.875" stop-color="#f39e9f"/><stop offset="0.938" stop-color="#f39c9d"/><stop offset="1.000" stop-color="#f29a9b"/></linearGradient><linearGradient id="synC_g16" x1="0" y1="0" x2="1" y2="0"><stop offset="0.000" stop-color="#ffffff"/><stop offset="0.062" stop-color="#ffffff"/><stop offset="0.125" stop-color="#ffffff"/><stop offset="0.188" stop-color="#ffffff"/><stop offset="0.250" stop-color="#ffffff"/><stop offset="0.312" stop-color="#fffcfc"/><stop offset="0.375" stop-color="#fef9f9"/><stop offset="0.438" stop-color="#fdf0f0"/><stop offset="0.500" stop-color="#fce7e8"/><stop offset="0.562" stop-color="#fadbdb"/><stop offset="0.625" stop-color="#f9cfcf"/><stop offset="0.688" stop-color="#f7c3c3"/><stop offset="0.750" stop-color="#f6b7b8"/><stop offset="0.812" stop-color="#f5b1b1"/><stop offset="0.875" stop-color="#f4aaab"/><stop offset="0.938" stop-color="#f4a7a8"/><stop offset="1.000" stop-color="#f4a5a6"/></linearGradient><linearGradient id="synC_g17" x1="0" y1="0" x2="1" y2="0"><stop offset="0.000" stop-color="#ffffff"/><stop offset="0.062" stop-color="#ffffff"/><stop offset="0.125" stop-color="#ffffff"/><stop offset="0.188" stop-color="#ffffff"/><stop offset="0.250" stop-color="#ffffff"/><stop offset="0.312" stop-color="#fffdfd"/><stop offset="0.375" stop-color="#fefafa"/><stop offset="0.438" stop-color="#fef4f4"/><stop offset="0.500" stop-color="#fdeded"/><stop offset="0.562" stop-color="#fbe3e3"/><stop offset="0.625" stop-color="#fad9d9"/><stop offset="0.688" stop-color="#f9cece"/><stop offset="0.750" stop-color="#f7c3c3"/><stop offset="0.812" stop-color="#f7bcbd"/><stop offset="0.875" stop-color="#f6b6b7"/><stop offset="0.938" stop-color="#f5b3b4"/><stop offset="1.000" stop-color="#f5b0b0"/></linearGradient><linearGradient id="synC_g18" x1="0" y1="0" x2="1" y2="0"><stop offset="0.000" stop-color="#ffffff"/><stop offset="0.062" stop-color="#ffffff"/><stop offset="0.125" stop-color="#ffffff"/><stop offset="0.188" stop-color="#ffffff"/><stop offset="0.250" stop-color="#ffffff"/><stop offset="0.312" stop-color="#fffdfd"/><stop offset="0.375" stop-color="#fefbfb"/><stop offset="0.438" stop-color="#fef5f5"/><stop offset="0.500" stop-color="#fdeeef"/><stop offset="0.562" stop-color="#fce5e5"/><stop offset="0.625" stop-color="#fbdcdc"/><stop offset="0.688" stop-color="#f9d1d2"/><stop offset="0.750" stop-color="#f8c7c8"/><stop offset="0.812" stop-color="#f7c1c1"/><stop offset="0.875" stop-color="#f6babb"/><stop offset="0.938" stop-color="#f6b7b8"/><stop offset="1.000" stop-color="#f6b4b5"/></linearGradient><linearGradient id="synC_g19" x1="0" y1="0" x2="1" y2="0"><stop offset="0.000" stop-color="#ffffff"/><stop offset="0.062" stop-color="#ffffff"/><stop offset="0.125" stop-color="#ffffff"/><stop offset="0.188" stop-color="#ffffff"/><stop offset="0.250" stop-color="#ffffff"/><stop offset="0.312" stop-color="#fffefe"/><stop offset="0.375" stop-color="#fffdfd"/><stop offset="0.438" stop-color="#fef7f8"/><stop offset="0.500" stop-color="#fdf2f2"/><stop offset="0.562" stop-color="#fdebeb"/><stop offset="0.625" stop-color="#fce4e4"/><stop offset="0.688" stop-color="#fbdcdc"/><stop offset="0.750" stop-color="#f9d3d3"/><stop offset="0.812" stop-color="#f9cece"/><stop offset="0.875" stop-color="#f8c8c9"/><stop offset="0.938" stop-color="#f8c5c6"/><stop offset="1.000" stop-color="#f7c3c3"/></linearGradient><linearGradient id="synC_g20" x1="0" y1="0" x2="1" y2="0"><stop offset="0.000" stop-color="#ffffff"/><stop offset="0.062" stop-color="#ffffff"/><stop offset="0.125" stop-color="#ffffff"/><stop offset="0.188" stop-color="#ffffff"/><stop offset="0.250" stop-color="#ffffff"/><stop offset="0.312" stop-color="#ffffff"/><stop offset="0.375" stop-color="#ffffff"/><stop offset="0.438" stop-color="#fefafa"/><stop offset="0.500" stop-color="#fef6f6"/><stop offset="0.562" stop-color="#fdf1f1"/><stop offset="0.625" stop-color="#fdeced"/><stop offset="0.688" stop-color="#fce6e6"/><stop offset="0.750" stop-color="#fbdfdf"/><stop offset="0.812" stop-color="#fadadb"/><stop offset="0.875" stop-color="#fad6d6"/><stop offset="0.938" stop-color="#fad4d4"/><stop offset="1.000" stop-color="#f9d1d2"/></linearGradient><linearGradient id="synC_g21" x1="0" y1="0" x2="1" y2="0"><stop offset="0.000" stop-color="#ffffff"/><stop offset="0.062" stop-color="#ffffff"/><stop offset="0.125" stop-color="#ffffff"/><stop offset="0.188" stop-color="#ffffff"/><stop offset="0.250" stop-color="#ffffff"/><stop offset="0.312" stop-color="#ffffff"/><stop offset="0.375" stop-color="#ffffff"/><stop offset="0.438" stop-color="#fefbfb"/><stop offset="0.500" stop-color="#fef7f7"/><stop offset="0.562" stop-color="#fdf3f3"/><stop offset="0.625" stop-color="#fdeeef"/><stop offset="0.688" stop-color="#fce8e9"/><stop offset="0.750" stop-color="#fbe2e2"/><stop offset="0.812" stop-color="#fbdede"/><stop offset="0.875" stop-color="#fadada"/><stop offset="0.938" stop-color="#fad8d8"/><stop offset="1.000" stop-color="#fad6d6"/></linearGradient><linearGradient id="synC_g22" x1="0" y1="0" x2="1" y2="0"><stop offset="0.000" stop-color="#ffffff"/><stop offset="0.062" stop-color="#ffffff"/><stop offset="0.125" stop-color="#ffffff"/><stop offset="0.188" stop-color="#ffffff"/><stop offset="0.250" stop-color="#ffffff"/><stop offset="0.312" stop-color="#ffffff"/><stop offset="0.375" stop-color="#ffffff"/><stop offset="0.438" stop-color="#fffcfc"/><stop offset="0.500" stop-color="#fef9f9"/><stop offset="0.562" stop-color="#fef5f5"/><stop offset="0.625" stop-color="#fdf2f2"/><stop offset="0.688" stop-color="#fdeeee"/><stop offset="0.750" stop-color="#fceaea"/><stop offset="0.812" stop-color="#fce6e7"/><stop offset="0.875" stop-color="#fbe3e3"/><stop offset="0.938" stop-color="#fbe1e1"/><stop offset="1.000" stop-color="#fbdfdf"/></linearGradient><linearGradient id="synC_g23" x1="0" y1="0" x2="1" y2="0"><stop offset="0.000" stop-color="#ffffff"/><stop offset="0.062" stop-color="#ffffff"/><stop offset="0.125" stop-color="#ffffff"/><stop offset="0.188" stop-color="#ffffff"/><stop offset="0.250" stop-color="#ffffff"/><stop offset="0.312" stop-color="#ffffff"/><stop offset="0.375" stop-color="#ffffff"/><stop offset="0.438" stop-color="#fffdfd"/><stop offset="0.500" stop-color="#fefafa"/><stop offset="0.562" stop-color="#fef8f8"/><stop offset="0.625" stop-color="#fef6f6"/><stop offset="0.688" stop-color="#fef3f3"/><stop offset="0.750" stop-color="#fdf1f1"/><stop offset="0.812" stop-color="#fdefef"/><stop offset="0.875" stop-color="#fdecec"/><stop offset="0.938" stop-color="#fceaea"/><stop offset="1.000" stop-color="#fce8e8"/></linearGradient>
<g filter="url(#fblur_synC)"><rect x="241.20" y="287.50" width="147.40" height="7.27" fill="url(#synC_g0)"/><rect x="241.20" y="294.37" width="147.40" height="3.27" fill="url(#synC_g1)"/><rect x="241.20" y="297.24" width="147.40" height="3.27" fill="url(#synC_g2)"/><rect x="241.20" y="300.11" width="147.40" height="3.27" fill="url(#synC_g3)"/><rect x="241.20" y="302.98" width="147.40" height="3.27" fill="url(#synC_g4)"/><rect x="241.20" y="305.85" width="147.40" height="3.27" fill="url(#synC_g5)"/><rect x="241.20" y="308.73" width="147.40" height="3.27" fill="url(#synC_g6)"/><rect x="241.20" y="311.60" width="147.40" height="3.27" fill="url(#synC_g7)"/><rect x="241.20" y="314.47" width="147.40" height="3.27" fill="url(#synC_g8)"/><rect x="241.20" y="317.34" width="147.40" height="3.27" fill="url(#synC_g9)"/><rect x="241.20" y="320.21" width="147.40" height="3.27" fill="url(#synC_g10)"/><rect x="241.20" y="323.08" width="147.40" height="3.27" fill="url(#synC_g11)"/><rect x="241.20" y="325.95" width="147.40" height="3.27" fill="url(#synC_g12)"/><rect x="241.20" y="328.82" width="147.40" height="3.27" fill="url(#synC_g13)"/><rect x="241.20" y="331.69" width="147.40" height="3.27" fill="url(#synC_g14)"/><rect x="241.20" y="334.56" width="147.40" height="3.27" fill="url(#synC_g15)"/><rect x="241.20" y="337.43" width="147.40" height="3.27" fill="url(#synC_g16)"/><rect x="241.20" y="340.30" width="147.40" height="3.27" fill="url(#synC_g17)"/><rect x="241.20" y="343.17" width="147.40" height="3.27" fill="url(#synC_g18)"/><rect x="241.20" y="346.05" width="147.40" height="3.27" fill="url(#synC_g19)"/><rect x="241.20" y="348.92" width="147.40" height="3.27" fill="url(#synC_g20)"/><rect x="241.20" y="351.79" width="147.40" height="3.27" fill="url(#synC_g21)"/><rect x="241.20" y="354.66" width="147.40" height="3.27" fill="url(#synC_g22)"/><rect x="241.20" y="357.53" width="147.40" height="7.27" fill="url(#synC_g23)"/></g>
<g fill="none" stroke="#ffffff" stroke-width="0.7" opacity="0.4"><path d="M319.6,290 C330,297 345,303 360,305.5 C370,306 378,301 385,294"/><path d="M282,291 C295,300 305,315 318,320 C330,328 345,334 360,335.5 C372,336 380,336 386,335.5"/></g>
</g>
<filter id="fblur_synC" x="-5%" y="-5%" width="110%" height="110%"><feGaussianBlur stdDeviation="1.3"/></filter>
</defs>
<rect x="0.00" y="0.00" width="520.00" height="653.00" fill="#ffffff" />
<rect x="39.20" y="20.00" width="29.00" height="15.60" fill="#f7c0c0" />
<rect x="67.90" y="20.00" width="29.00" height="15.60" fill="#f7c0c0" />
<rect x="96.60" y="20.00" width="29.00" height="15.60" fill="#f08c8d" />
<rect x="125.30" y="20.00" width="29.00" height="15.60" fill="#e95658" />
<rect x="154.00" y="20.00" width="29.00" height="15.60" fill="#e21c1e" />
<rect x="39.20" y="35.30" width="29.00" height="15.60" fill="#f8c6c7" />
<rect x="67.90" y="35.30" width="29.00" height="15.60" fill="#f9d4d4" />
<rect x="96.60" y="35.30" width="29.00" height="15.60" fill="#f4a6a7" />
<rect x="125.30" y="35.30" width="29.00" height="15.60" fill="#ed7475" />
<rect x="154.00" y="35.30" width="29.00" height="15.60" fill="#e32426" />
<rect x="39.20" y="50.60" width="29.00" height="15.60" fill="#fadadb" />
<rect x="67.90" y="50.60" width="29.00" height="15.60" fill="#fad9d9" />
<rect x="96.60" y="50.60" width="29.00" height="15.60" fill="#f5adae" />
<rect x="125.30" y="50.60" width="29.00" height="15.60" fill="#ec6a6b" />
<rect x="154.00" y="50.60" width="29.00" height="15.60" fill="#e21e20" />
<rect x="39.20" y="65.90" width="29.00" height="15.60" fill="#fadbdb" />
<rect x="67.90" y="65.90" width="29.00" height="15.60" fill="#fbdfe0" />
<rect x="96.60" y="65.90" width="29.00" height="15.60" fill="#f6bbbc" />
<rect x="125.30" y="65.90" width="29.00" height="15.60" fill="#ea5a5b" />
<rect x="154.00" y="65.90" width="29.00" height="15.60" fill="#e32224" />
<rect x="39.20" y="81.20" width="29.00" height="15.60" fill="#fbdcdd" />
<rect x="67.90" y="81.20" width="29.00" height="15.60" fill="#fadada" />
<rect x="96.60" y="81.20" width="29.00" height="15.60" fill="#f8c8c8" />
<rect x="125.30" y="81.20" width="29.00" height="15.60" fill="#ed6f71" />
<rect x="154.00" y="81.20" width="29.00" height="15.60" fill="#e32527" />
<text x="53.55" y="26.10" font-size="4.8" text-anchor="middle" fill="#3a2a2a" style="letter-spacing:0.2px;stroke:#3a2a2a;stroke-width:0.1px">17.23</text>
<text x="53.55" y="31.90" font-size="4.8" text-anchor="middle" fill="#3a2a2a" style="letter-spacing:0.2px;stroke:#3a2a2a;stroke-width:0.1px">± 14.65</text>
<text x="82.25" y="26.10" font-size="4.8" text-anchor="middle" fill="#3a2a2a" style="letter-spacing:0.2px;stroke:#3a2a2a;stroke-width:0.1px">17.32</text>
<text x="82.25" y="31.90" font-size="4.8" text-anchor="middle" fill="#3a2a2a" style="letter-spacing:0.2px;stroke:#3a2a2a;stroke-width:0.1px">± 5.14</text>
<text x="110.95" y="26.10" font-size="4.8" text-anchor="middle" fill="#3a2a2a" style="letter-spacing:0.2px;stroke:#3a2a2a;stroke-width:0.1px">31.4</text>
<text x="110.95" y="31.90" font-size="4.8" text-anchor="middle" fill="#3a2a2a" style="letter-spacing:0.2px;stroke:#3a2a2a;stroke-width:0.1px">± 3.63</text>
<text x="139.65" y="26.10" font-size="4.8" text-anchor="middle" fill="#3a2a2a" style="letter-spacing:0.2px;stroke:#3a2a2a;stroke-width:0.1px">46.13</text>
<text x="139.65" y="31.90" font-size="4.8" text-anchor="middle" fill="#3a2a2a" style="letter-spacing:0.2px;stroke:#3a2a2a;stroke-width:0.1px">± 1.99</text>
<text x="168.35" y="26.10" font-size="4.8" text-anchor="middle" fill="#ffffff" style="letter-spacing:0.2px">62.16</text>
<text x="168.35" y="31.90" font-size="4.8" text-anchor="middle" fill="#ffffff" style="letter-spacing:0.2px">± 3.97</text>
<text x="53.55" y="41.40" font-size="4.8" text-anchor="middle" fill="#3a2a2a" style="letter-spacing:0.2px;stroke:#3a2a2a;stroke-width:0.1px">15.46</text>
<text x="53.55" y="47.20" font-size="4.8" text-anchor="middle" fill="#3a2a2a" style="letter-spacing:0.2px;stroke:#3a2a2a;stroke-width:0.1px">± 12.38</text>
<text x="82.25" y="41.40" font-size="4.8" text-anchor="middle" fill="#3a2a2a" style="letter-spacing:0.2px;stroke:#3a2a2a;stroke-width:0.1px">11.76</text>
<text x="82.25" y="47.20" font-size="4.8" text-anchor="middle" fill="#3a2a2a" style="letter-spacing:0.2px;stroke:#3a2a2a;stroke-width:0.1px">± 4</text>
<text x="110.95" y="41.40" font-size="4.8" text-anchor="middle" fill="#3a2a2a" style="letter-spacing:0.2px;stroke:#3a2a2a;stroke-width:0.1px">24.38</text>
<text x="110.95" y="47.20" font-size="4.8" text-anchor="middle" fill="#3a2a2a" style="letter-spacing:0.2px;stroke:#3a2a2a;stroke-width:0.1px">± 8.08</text>
<text x="139.65" y="41.40" font-size="4.8" text-anchor="middle" fill="#3a2a2a" style="letter-spacing:0.2px;stroke:#3a2a2a;stroke-width:0.1px">38.03</text>
<text x="139.65" y="47.20" font-size="4.8" text-anchor="middle" fill="#3a2a2a" style="letter-spacing:0.2px;stroke:#3a2a2a;stroke-width:0.1px">± 5.33</text>
<text x="168.35" y="41.40" font-size="4.8" text-anchor="middle" fill="#ffffff" style="letter-spacing:0.2px">59.89</text>
<text x="168.35" y="47.20" font-size="4.8" text-anchor="middle" fill="#ffffff" style="letter-spacing:0.2px">± 5.46</text>
<text x="53.55" y="56.70" font-size="4.8" text-anchor="middle" fill="#3a2a2a" style="letter-spacing:0.2px;stroke:#3a2a2a;stroke-width:0.1px">10.02</text>
<text x="53.55" y="62.50" font-size="4.8" text-anchor="middle" fill="#3a2a2a" style="letter-spacing:0.2px;stroke:#3a2a2a;stroke-width:0.1px">± 7.14</text>
<text x="82.25" y="56.70" font-size="4.8" text-anchor="middle" fill="#3a2a2a" style="letter-spacing:0.2px;stroke:#3a2a2a;stroke-width:0.1px">10.45</text>
<text x="82.25" y="62.50" font-size="4.8" text-anchor="middle" fill="#3a2a2a" style="letter-spacing:0.2px;stroke:#3a2a2a;stroke-width:0.1px">± 5.79</text>
<text x="110.95" y="56.70" font-size="4.8" text-anchor="middle" fill="#3a2a2a" style="letter-spacing:0.2px;stroke:#3a2a2a;stroke-width:0.1px">22.26</text>
<text x="110.95" y="62.50" font-size="4.8" text-anchor="middle" fill="#3a2a2a" style="letter-spacing:0.2px;stroke:#3a2a2a;stroke-width:0.1px">± 10.99</text>
<text x="139.65" y="56.70" font-size="4.8" text-anchor="middle" fill="#3a2a2a" style="letter-spacing:0.2px;stroke:#3a2a2a;stroke-width:0.1px">40.77</text>
<text x="139.65" y="62.50" font-size="4.8" text-anchor="middle" fill="#3a2a2a" style="letter-spacing:0.2px;stroke:#3a2a2a;stroke-width:0.1px">± 13.73</text>
<text x="168.35" y="56.70" font-size="4.8" text-anchor="middle" fill="#ffffff" style="letter-spacing:0.2px">61.38</text>
<text x="168.35" y="62.50" font-size="4.8" text-anchor="middle" fill="#ffffff" style="letter-spacing:0.2px">± 3.5</text>
<text x="53.55" y="72.00" font-size="4.8" text-anchor="middle" fill="#3a2a2a" style="letter-spacing:0.2px;stroke:#3a2a2a;stroke-width:0.1px">9.84</text>
<text x="53.55" y="77.80" font-size="4.8" text-anchor="middle" fill="#3a2a2a" style="letter-spacing:0.2px;stroke:#3a2a2a;stroke-width:0.1px">± 7.42</text>
<text x="82.25" y="72.00" font-size="4.8" text-anchor="middle" fill="#3a2a2a" style="letter-spacing:0.2px;stroke:#3a2a2a;stroke-width:0.1px">8.64</text>
<text x="82.25" y="77.80" font-size="4.8" text-anchor="middle" fill="#3a2a2a" style="letter-spacing:0.2px;stroke:#3a2a2a;stroke-width:0.1px">± 4.53</text>
<text x="110.95" y="72.00" font-size="4.8" text-anchor="middle" fill="#3a2a2a" style="letter-spacing:0.2px;stroke:#3a2a2a;stroke-width:0.1px">18.5</text>
<text x="110.95" y="77.80" font-size="4.8" text-anchor="middle" fill="#3a2a2a" style="letter-spacing:0.2px;stroke:#3a2a2a;stroke-width:0.1px">± 10.95</text>
<text x="139.65" y="72.00" font-size="4.8" text-anchor="middle" fill="#3a2a2a" style="letter-spacing:0.2px;stroke:#3a2a2a;stroke-width:0.1px">45.08</text>
<text x="139.65" y="77.80" font-size="4.8" text-anchor="middle" fill="#3a2a2a" style="letter-spacing:0.2px;stroke:#3a2a2a;stroke-width:0.1px">± 10.65</text>
<text x="168.35" y="72.00" font-size="4.8" text-anchor="middle" fill="#ffffff" style="letter-spacing:0.2px">60.26</text>
<text x="168.35" y="77.80" font-size="4.8" text-anchor="middle" fill="#ffffff" style="letter-spacing:0.2px">± 3.99</text>
<text x="53.55" y="87.30" font-size="4.8" text-anchor="middle" fill="#3a2a2a" style="letter-spacing:0.2px;stroke:#3a2a2a;stroke-width:0.1px">9.46</text>
<text x="53.55" y="93.10" font-size="4.8" text-anchor="middle" fill="#3a2a2a" style="letter-spacing:0.2px;stroke:#3a2a2a;stroke-width:0.1px">± 8.21</text>
<text x="82.25" y="87.30" font-size="4.8" text-anchor="middle" fill="#3a2a2a" style="letter-spacing:0.2px;stroke:#3a2a2a;stroke-width:0.1px">10.24</text>
<text x="82.25" y="93.10" font-size="4.8" text-anchor="middle" fill="#3a2a2a" style="letter-spacing:0.2px;stroke:#3a2a2a;stroke-width:0.1px">± 8.17</text>
<text x="110.95" y="87.30" font-size="4.8" text-anchor="middle" fill="#3a2a2a" style="letter-spacing:0.2px;stroke:#3a2a2a;stroke-width:0.1px">15.12</text>
<text x="110.95" y="93.10" font-size="4.8" text-anchor="middle" fill="#3a2a2a" style="letter-spacing:0.2px;stroke:#3a2a2a;stroke-width:0.1px">± 7.44</text>
<text x="139.65" y="87.30" font-size="4.8" text-anchor="middle" fill="#3a2a2a" style="letter-spacing:0.2px;stroke:#3a2a2a;stroke-width:0.1px">39.21</text>
<text x="139.65" y="93.10" font-size="4.8" text-anchor="middle" fill="#3a2a2a" style="letter-spacing:0.2px;stroke:#3a2a2a;stroke-width:0.1px">± 2.15</text>
<text x="168.35" y="87.30" font-size="4.8" text-anchor="middle" fill="#ffffff" style="letter-spacing:0.2px">59.49</text>
<text x="168.35" y="93.10" font-size="4.8" text-anchor="middle" fill="#ffffff" style="letter-spacing:0.2px">± 7.8</text>
<line x1="38.50" y1="17.20" x2="38.50" y2="97.10" stroke="#231f20" stroke-width="1.3"/>
<line x1="37.90" y1="96.60" x2="182.70" y2="96.60" stroke="#231f20" stroke-width="1.3"/>
<line x1="35.40" y1="27.65" x2="38.00" y2="27.65" stroke="#231f20" stroke-width="0.9"/>
<text x="32.60" y="29.85" font-size="6.2" text-anchor="end" fill="#333" stroke="#333" stroke-width="0.12">800</text>
<line x1="35.40" y1="42.95" x2="38.00" y2="42.95" stroke="#231f20" stroke-width="0.9"/>
<text x="32.60" y="45.15" font-size="6.2" text-anchor="end" fill="#333" stroke="#333" stroke-width="0.12">600</text>
<line x1="35.40" y1="58.25" x2="38.00" y2="58.25" stroke="#231f20" stroke-width="0.9"/>
<text x="32.60" y="60.45" font-size="6.2" text-anchor="end" fill="#333" stroke="#333" stroke-width="0.12">400</text>
<line x1="35.40" y1="73.55" x2="38.00" y2="73.55" stroke="#231f20" stroke-width="0.9"/>
<text x="32.60" y="75.75" font-size="6.2" text-anchor="end" fill="#333" stroke="#333" stroke-width="0.12">200</text>
<line x1="35.40" y1="88.85" x2="38.00" y2="88.85" stroke="#231f20" stroke-width="0.9"/>
<text x="32.60" y="91.05" font-size="6.2" text-anchor="end" fill="#333" stroke="#333" stroke-width="0.12">0</text>
<line x1="53.55" y1="97.10" x2="53.55" y2="99.50" stroke="#231f20" stroke-width="0.9"/>
<text x="53.55" y="107.50" font-size="6.0" text-anchor="middle" fill="#333" stroke="#333" stroke-width="0.12">0</text>
<line x1="82.25" y1="97.10" x2="82.25" y2="99.50" stroke="#231f20" stroke-width="0.9"/>
<text x="82.25" y="107.50" font-size="6.0" text-anchor="middle" fill="#333" stroke="#333" stroke-width="0.12">2</text>
<line x1="110.95" y1="97.10" x2="110.95" y2="99.50" stroke="#231f20" stroke-width="0.9"/>
<text x="110.95" y="107.50" font-size="6.0" text-anchor="middle" fill="#333" stroke="#333" stroke-width="0.12">4</text>
<line x1="139.65" y1="97.10" x2="139.65" y2="99.50" stroke="#231f20" stroke-width="0.9"/>
<text x="139.65" y="107.50" font-size="6.0" text-anchor="middle" fill="#333" stroke="#333" stroke-width="0.12">6</text>
<line x1="168.35" y1="97.10" x2="168.35" y2="99.50" stroke="#231f20" stroke-width="0.9"/>
<text x="168.35" y="107.50" font-size="6.0" text-anchor="middle" fill="#333" stroke="#333" stroke-width="0.12">8</text>
<text x="111.45" y="13.40" font-size="8.3" text-anchor="middle" fill="#222" stroke="#222" stroke-width="0.12">U-266</text>
<text x="111.55" y="118.10" font-size="8.3" text-anchor="middle" fill="#2a2a2a" textLength="42" lengthAdjust="spacingAndGlyphs" style="stroke:#2a2a2a;stroke-width:0.15px">Bortezomib (nM)</text>
<text x="17.00" y="58.25" font-size="8.2" text-anchor="middle" fill="#2a2a2a" transform="rotate(-90 17.00 58.25)" textLength="26.8" lengthAdjust="spacingAndGlyphs" style="stroke:#2a2a2a;stroke-width:0.2px">RSL3 (nM)</text>
<text x="184.20" y="45.30" font-size="4.8" fill="#444" textLength="28.4" lengthAdjust="spacingAndGlyphs" stroke="#444" stroke-width="0.12">Inhibition (%)</text>
<rect x="184.80" y="48.20" width="8.00" height="26.00" fill="url(#cbA)" />
<text x="195.80" y="54.00" font-size="5.4" fill="#333" stroke="#333" stroke-width="0.12">50</text>
<text x="195.80" y="63.10" font-size="5.4" fill="#333" stroke="#333" stroke-width="0.12">0</text>
<text x="195.80" y="72.90" font-size="5.4" fill="#333" stroke="#333" stroke-width="0.12">−50</text>
<rect x="35.80" y="160.40" width="28.72" height="15.68" fill="#f7bfc0" />
<rect x="64.22" y="160.40" width="28.72" height="15.68" fill="#e63a3b" />
<rect x="92.64" y="160.40" width="28.72" height="15.68" fill="#e53132" />
<rect x="121.06" y="160.40" width="28.72" height="15.68" fill="#e21c1e" />
<rect x="149.48" y="160.40" width="28.72" height="15.68" fill="#e21c1e" />
<rect x="35.80" y="175.78" width="28.72" height="15.68" fill="#f7c2c3" />
<rect x="64.22" y="175.78" width="28.72" height="15.68" fill="#e95557" />
<rect x="92.64" y="175.78" width="28.72" height="15.68" fill="#e6393b" />
<rect x="121.06" y="175.78" width="28.72" height="15.68" fill="#e53537" />
<rect x="149.48" y="175.78" width="28.72" height="15.68" fill="#e21c1e" />
<rect x="35.80" y="191.16" width="28.72" height="15.68" fill="#fbe2e2" />
<rect x="64.22" y="191.16" width="28.72" height="15.68" fill="#f7c1c2" />
<rect x="92.64" y="191.16" width="28.72" height="15.68" fill="#eb6567" />
<rect x="121.06" y="191.16" width="28.72" height="15.68" fill="#e95657" />
<rect x="149.48" y="191.16" width="28.72" height="15.68" fill="#e42f30" />
<rect x="35.80" y="206.54" width="28.72" height="15.68" fill="#fef9f9" />
<rect x="64.22" y="206.54" width="28.72" height="15.68" fill="#f8cbcc" />
<rect x="92.64" y="206.54" width="28.72" height="15.68" fill="#eb6163" />
<rect x="121.06" y="206.54" width="28.72" height="15.68" fill="#eb6566" />
<rect x="149.48" y="206.54" width="28.72" height="15.68" fill="#e74344" />
<rect x="35.80" y="221.92" width="28.72" height="15.68" fill="#fffcfc" />
<rect x="64.22" y="221.92" width="28.72" height="15.68" fill="#fffbfb" />
<rect x="92.64" y="221.92" width="28.72" height="15.68" fill="#f4a5a6" />
<rect x="121.06" y="221.92" width="28.72" height="15.68" fill="#f19192" />
<rect x="149.48" y="221.92" width="28.72" height="15.68" fill="#ed6f70" />
<text x="50.01" y="166.54" font-size="4.8" text-anchor="middle" fill="#3a2a2a" style="letter-spacing:0.2px;stroke:#3a2a2a;stroke-width:0.1px">26.78</text>
<text x="50.01" y="172.34" font-size="4.8" text-anchor="middle" fill="#3a2a2a" style="letter-spacing:0.2px;stroke:#3a2a2a;stroke-width:0.1px">± 14.9</text>
<text x="78.43" y="166.54" font-size="4.8" text-anchor="middle" fill="#ffffff" style="letter-spacing:0.2px">74.83</text>
<text x="78.43" y="172.34" font-size="4.8" text-anchor="middle" fill="#ffffff" style="letter-spacing:0.2px">± 10.83</text>
<text x="106.85" y="166.54" font-size="4.8" text-anchor="middle" fill="#ffffff" style="letter-spacing:0.2px">77.95</text>
<text x="106.85" y="172.34" font-size="4.8" text-anchor="middle" fill="#ffffff" style="letter-spacing:0.2px">± 8.86</text>
<text x="135.27" y="166.54" font-size="4.8" text-anchor="middle" fill="#ffffff" style="letter-spacing:0.2px">85.72</text>
<text x="135.27" y="172.34" font-size="4.8" text-anchor="middle" fill="#ffffff" style="letter-spacing:0.2px">± 4.95</text>
<text x="163.69" y="166.54" font-size="4.8" text-anchor="middle" fill="#ffffff" style="letter-spacing:0.2px">93.44</text>
<text x="163.69" y="172.34" font-size="4.8" text-anchor="middle" fill="#ffffff" style="letter-spacing:0.2px">± 2.07</text>
<text x="50.01" y="181.92" font-size="4.8" text-anchor="middle" fill="#3a2a2a" style="letter-spacing:0.2px;stroke:#3a2a2a;stroke-width:0.1px">25.67</text>
<text x="50.01" y="187.72" font-size="4.8" text-anchor="middle" fill="#3a2a2a" style="letter-spacing:0.2px;stroke:#3a2a2a;stroke-width:0.1px">± 8.73</text>
<text x="78.43" y="181.92" font-size="4.8" text-anchor="middle" fill="#ffffff" style="letter-spacing:0.2px">65.23</text>
<text x="78.43" y="187.72" font-size="4.8" text-anchor="middle" fill="#ffffff" style="letter-spacing:0.2px">± 26.84</text>
<text x="106.85" y="181.92" font-size="4.8" text-anchor="middle" fill="#ffffff" style="letter-spacing:0.2px">75.07</text>
<text x="106.85" y="187.72" font-size="4.8" text-anchor="middle" fill="#ffffff" style="letter-spacing:0.2px">± 9.54</text>
<text x="135.27" y="181.92" font-size="4.8" text-anchor="middle" fill="#ffffff" style="letter-spacing:0.2px">76.35</text>
<text x="135.27" y="187.72" font-size="4.8" text-anchor="middle" fill="#ffffff" style="letter-spacing:0.2px">± 2.47</text>
<text x="163.69" y="181.92" font-size="4.8" text-anchor="middle" fill="#ffffff" style="letter-spacing:0.2px">86.83</text>
<text x="163.69" y="187.72" font-size="4.8" text-anchor="middle" fill="#ffffff" style="letter-spacing:0.2px">± 1.94</text>
<text x="50.01" y="197.30" font-size="4.8" text-anchor="middle" fill="#3a2a2a" style="letter-spacing:0.2px;stroke:#3a2a2a;stroke-width:0.1px">13.1</text>
<text x="50.01" y="203.10" font-size="4.8" text-anchor="middle" fill="#3a2a2a" style="letter-spacing:0.2px;stroke:#3a2a2a;stroke-width:0.1px">± 4.62</text>
<text x="78.43" y="197.30" font-size="4.8" text-anchor="middle" fill="#3a2a2a" style="letter-spacing:0.2px;stroke:#3a2a2a;stroke-width:0.1px">26.02</text>
<text x="78.43" y="203.10" font-size="4.8" text-anchor="middle" fill="#3a2a2a" style="letter-spacing:0.2px;stroke:#3a2a2a;stroke-width:0.1px">± 23.49</text>
<text x="106.85" y="197.30" font-size="4.8" text-anchor="middle" fill="#ffffff" style="letter-spacing:0.2px">59.56</text>
<text x="106.85" y="203.10" font-size="4.8" text-anchor="middle" fill="#ffffff" style="letter-spacing:0.2px">± 20.18</text>
<text x="135.27" y="197.30" font-size="4.8" text-anchor="middle" fill="#ffffff" style="letter-spacing:0.2px">65.03</text>
<text x="135.27" y="203.10" font-size="4.8" text-anchor="middle" fill="#ffffff" style="letter-spacing:0.2px">± 4.75</text>
<text x="163.69" y="197.30" font-size="4.8" text-anchor="middle" fill="#ffffff" style="letter-spacing:0.2px">78.66</text>
<text x="163.69" y="203.10" font-size="4.8" text-anchor="middle" fill="#ffffff" style="letter-spacing:0.2px">± 5.02</text>
<text x="50.01" y="212.68" font-size="4.8" text-anchor="middle" fill="#3a2a2a" style="letter-spacing:0.2px;stroke:#3a2a2a;stroke-width:0.1px">3.22</text>
<text x="50.01" y="218.48" font-size="4.8" text-anchor="middle" fill="#3a2a2a" style="letter-spacing:0.2px;stroke:#3a2a2a;stroke-width:0.1px">± 3.9</text>
<text x="78.43" y="212.68" font-size="4.8" text-anchor="middle" fill="#3a2a2a" style="letter-spacing:0.2px;stroke:#3a2a2a;stroke-width:0.1px">22.11</text>
<text x="78.43" y="218.48" font-size="4.8" text-anchor="middle" fill="#3a2a2a" style="letter-spacing:0.2px;stroke:#3a2a2a;stroke-width:0.1px">± 21.05</text>
<text x="106.85" y="212.68" font-size="4.8" text-anchor="middle" fill="#ffffff" style="letter-spacing:0.2px">61.01</text>
<text x="106.85" y="218.48" font-size="4.8" text-anchor="middle" fill="#ffffff" style="letter-spacing:0.2px">± 33.63</text>
<text x="135.27" y="212.68" font-size="4.8" text-anchor="middle" fill="#ffffff" style="letter-spacing:0.2px">59.69</text>
<text x="135.27" y="218.48" font-size="4.8" text-anchor="middle" fill="#ffffff" style="letter-spacing:0.2px">± 3.56</text>
<text x="163.69" y="212.68" font-size="4.8" text-anchor="middle" fill="#ffffff" style="letter-spacing:0.2px">71.76</text>
<text x="163.69" y="218.48" font-size="4.8" text-anchor="middle" fill="#ffffff" style="letter-spacing:0.2px">± 4.21</text>
<text x="50.01" y="228.06" font-size="4.8" text-anchor="middle" fill="#3a2a2a" style="letter-spacing:0.2px;stroke:#3a2a2a;stroke-width:0.1px">1.59</text>
<text x="50.01" y="233.86" font-size="4.8" text-anchor="middle" fill="#3a2a2a" style="letter-spacing:0.2px;stroke:#3a2a2a;stroke-width:0.1px">± 3.1</text>
<text x="78.43" y="228.06" font-size="4.8" text-anchor="middle" fill="#3a2a2a" style="letter-spacing:0.2px;stroke:#3a2a2a;stroke-width:0.1px">2.06</text>
<text x="78.43" y="233.86" font-size="4.8" text-anchor="middle" fill="#3a2a2a" style="letter-spacing:0.2px;stroke:#3a2a2a;stroke-width:0.1px">± 10.66</text>
<text x="106.85" y="228.06" font-size="4.8" text-anchor="middle" fill="#ffffff" style="letter-spacing:0.2px">36.53</text>
<text x="106.85" y="233.86" font-size="4.8" text-anchor="middle" fill="#ffffff" style="letter-spacing:0.2px">± 28.75</text>
<text x="135.27" y="228.06" font-size="4.8" text-anchor="middle" fill="#ffffff" style="letter-spacing:0.2px">44.03</text>
<text x="135.27" y="233.86" font-size="4.8" text-anchor="middle" fill="#ffffff" style="letter-spacing:0.2px">± 14.58</text>
<text x="163.69" y="228.06" font-size="4.8" text-anchor="middle" fill="#ffffff" style="letter-spacing:0.2px">56.31</text>
<text x="163.69" y="233.86" font-size="4.8" text-anchor="middle" fill="#ffffff" style="letter-spacing:0.2px">± 9.15</text>
<line x1="35.10" y1="157.60" x2="35.10" y2="237.90" stroke="#231f20" stroke-width="1.3"/>
<line x1="34.50" y1="237.40" x2="177.90" y2="237.40" stroke="#231f20" stroke-width="1.3"/>
<line x1="32.00" y1="168.09" x2="34.60" y2="168.09" stroke="#231f20" stroke-width="0.9"/>
<text x="29.20" y="170.29" font-size="6.2" text-anchor="end" fill="#333" stroke="#333" stroke-width="0.12">200</text>
<line x1="32.00" y1="183.47" x2="34.60" y2="183.47" stroke="#231f20" stroke-width="0.9"/>
<text x="29.20" y="185.67" font-size="6.2" text-anchor="end" fill="#333" stroke="#333" stroke-width="0.12">100</text>
<line x1="32.00" y1="198.85" x2="34.60" y2="198.85" stroke="#231f20" stroke-width="0.9"/>
<text x="29.20" y="201.05" font-size="6.2" text-anchor="end" fill="#333" stroke="#333" stroke-width="0.12">50</text>
<line x1="32.00" y1="214.23" x2="34.60" y2="214.23" stroke="#231f20" stroke-width="0.9"/>
<text x="29.20" y="216.43" font-size="6.2" text-anchor="end" fill="#333" stroke="#333" stroke-width="0.12">10</text>
<line x1="32.00" y1="229.61" x2="34.60" y2="229.61" stroke="#231f20" stroke-width="0.9"/>
<text x="29.20" y="231.81" font-size="6.2" text-anchor="end" fill="#333" stroke="#333" stroke-width="0.12">0</text>
<line x1="50.01" y1="237.90" x2="50.01" y2="240.30" stroke="#231f20" stroke-width="0.9"/>
<text x="50.01" y="248.30" font-size="6.0" text-anchor="middle" fill="#333" stroke="#333" stroke-width="0.12">0</text>
<line x1="78.43" y1="237.90" x2="78.43" y2="240.30" stroke="#231f20" stroke-width="0.9"/>
<text x="78.43" y="248.30" font-size="6.0" text-anchor="middle" fill="#333" stroke="#333" stroke-width="0.12">2</text>
<line x1="106.85" y1="237.90" x2="106.85" y2="240.30" stroke="#231f20" stroke-width="0.9"/>
<text x="106.85" y="248.30" font-size="6.0" text-anchor="middle" fill="#333" stroke="#333" stroke-width="0.12">4</text>
<line x1="135.27" y1="237.90" x2="135.27" y2="240.30" stroke="#231f20" stroke-width="0.9"/>
<text x="135.27" y="248.30" font-size="6.0" text-anchor="middle" fill="#333" stroke="#333" stroke-width="0.12">8</text>
<line x1="163.69" y1="237.90" x2="163.69" y2="240.30" stroke="#231f20" stroke-width="0.9"/>
<text x="163.69" y="248.30" font-size="6.0" text-anchor="middle" fill="#333" stroke="#333" stroke-width="0.12">12</text>
<text x="107.35" y="153.80" font-size="8.3" text-anchor="middle" fill="#222" stroke="#222" stroke-width="0.12">OPM-2</text>
<text x="107.45" y="258.90" font-size="8.3" text-anchor="middle" fill="#2a2a2a" textLength="42" lengthAdjust="spacingAndGlyphs" style="stroke:#2a2a2a;stroke-width:0.15px">Bortezomib (nM)</text>
<text x="13.60" y="198.85" font-size="8.2" text-anchor="middle" fill="#2a2a2a" transform="rotate(-90 13.60 198.85)" textLength="26.8" lengthAdjust="spacingAndGlyphs" style="stroke:#2a2a2a;stroke-width:0.2px">RSL3 (nM)</text>
<text x="181.40" y="181.25" font-size="4.8" fill="#444" textLength="28.4" lengthAdjust="spacingAndGlyphs" stroke="#444" stroke-width="0.12">Inhibition (%)</text>
<rect x="182.00" y="188.75" width="8.10" height="26.00" fill="url(#cbB)" />
<text x="191.30" y="190.30" font-size="5.4" fill="#333" stroke="#333" stroke-width="0.12">100</text>
<text x="191.30" y="196.80" font-size="5.4" fill="#333" stroke="#333" stroke-width="0.12">50</text>
<text x="191.30" y="203.20" font-size="5.4" fill="#333" stroke="#333" stroke-width="0.12">0</text>
<text x="191.30" y="209.90" font-size="5.4" fill="#333" stroke="#333" stroke-width="0.12">−50</text>
<text x="191.30" y="216.20" font-size="5.4" fill="#333" stroke="#333" stroke-width="0.12">−100</text>
<rect x="35.80" y="283.80" width="28.72" height="15.68" fill="#f29899" />
<rect x="64.22" y="283.80" width="28.72" height="15.68" fill="#ec6668" />
<rect x="92.64" y="283.80" width="28.72" height="15.68" fill="#e84d4e" />
<rect x="121.06" y="283.80" width="28.72" height="15.68" fill="#e4292b" />
<rect x="149.48" y="283.80" width="28.72" height="15.68" fill="#e21c1e" />
<rect x="35.80" y="299.18" width="28.72" height="15.68" fill="#f8c5c5" />
<rect x="64.22" y="299.18" width="28.72" height="15.68" fill="#f5adae" />
<rect x="92.64" y="299.18" width="28.72" height="15.68" fill="#f19495" />
<rect x="121.06" y="299.18" width="28.72" height="15.68" fill="#eb6364" />
<rect x="149.48" y="299.18" width="28.72" height="15.68" fill="#e42a2c" />
<rect x="35.80" y="314.56" width="28.72" height="15.68" fill="#fbe0e0" />
<rect x="64.22" y="314.56" width="28.72" height="15.68" fill="#fad7d8" />
<rect x="92.64" y="314.56" width="28.72" height="15.68" fill="#f8c9ca" />
<rect x="121.06" y="314.56" width="28.72" height="15.68" fill="#f29697" />
<rect x="149.48" y="314.56" width="28.72" height="15.68" fill="#e84d4e" />
<rect x="35.80" y="329.94" width="28.72" height="15.68" fill="#fdf3f3" />
<rect x="64.22" y="329.94" width="28.72" height="15.68" fill="#fef5f5" />
<rect x="92.64" y="329.94" width="28.72" height="15.68" fill="#fdeded" />
<rect x="121.06" y="329.94" width="28.72" height="15.68" fill="#f7c4c4" />
<rect x="149.48" y="329.94" width="28.72" height="15.68" fill="#f0898a" />
<rect x="35.80" y="345.32" width="28.72" height="15.68" fill="#fafcf9" />
<rect x="64.22" y="345.32" width="28.72" height="15.68" fill="#fbfdfb" />
<rect x="92.64" y="345.32" width="28.72" height="15.68" fill="#f8fcf8" />
<rect x="121.06" y="345.32" width="28.72" height="15.68" fill="#fdf3f3" />
<rect x="149.48" y="345.32" width="28.72" height="15.68" fill="#f5afaf" />
<text x="50.01" y="289.94" font-size="4.8" text-anchor="middle" fill="#3a2a2a" style="letter-spacing:0.2px;stroke:#3a2a2a;stroke-width:0.1px">41.3</text>
<text x="50.01" y="295.74" font-size="4.8" text-anchor="middle" fill="#3a2a2a" style="letter-spacing:0.2px;stroke:#3a2a2a;stroke-width:0.1px">± 10.22</text>
<text x="78.43" y="289.94" font-size="4.8" text-anchor="middle" fill="#ffffff" style="letter-spacing:0.2px">59.23</text>
<text x="78.43" y="295.74" font-size="4.8" text-anchor="middle" fill="#ffffff" style="letter-spacing:0.2px">± 16.14</text>
<text x="106.85" y="289.94" font-size="4.8" text-anchor="middle" fill="#ffffff" style="letter-spacing:0.2px">68.17</text>
<text x="106.85" y="295.74" font-size="4.8" text-anchor="middle" fill="#ffffff" style="letter-spacing:0.2px">± 10.76</text>
<text x="135.27" y="289.94" font-size="4.8" text-anchor="middle" fill="#ffffff" style="letter-spacing:0.2px">80.62</text>
<text x="135.27" y="295.74" font-size="4.8" text-anchor="middle" fill="#ffffff" style="letter-spacing:0.2px">± 8.07</text>
<text x="163.69" y="289.94" font-size="4.8" text-anchor="middle" fill="#ffffff" style="letter-spacing:0.2px">90.62</text>
<text x="163.69" y="295.74" font-size="4.8" text-anchor="middle" fill="#ffffff" style="letter-spacing:0.2px">± 6</text>
<text x="50.01" y="305.32" font-size="4.8" text-anchor="middle" fill="#3a2a2a" style="letter-spacing:0.2px;stroke:#3a2a2a;stroke-width:0.1px">24.67</text>
<text x="50.01" y="311.12" font-size="4.8" text-anchor="middle" fill="#3a2a2a" style="letter-spacing:0.2px;stroke:#3a2a2a;stroke-width:0.1px">± 10.49</text>
<text x="78.43" y="305.32" font-size="4.8" text-anchor="middle" fill="#3a2a2a" style="letter-spacing:0.2px;stroke:#3a2a2a;stroke-width:0.1px">33.66</text>
<text x="78.43" y="311.12" font-size="4.8" text-anchor="middle" fill="#3a2a2a" style="letter-spacing:0.2px;stroke:#3a2a2a;stroke-width:0.1px">± 25.16</text>
<text x="106.85" y="305.32" font-size="4.8" text-anchor="middle" fill="#ffffff" style="letter-spacing:0.2px">42.81</text>
<text x="106.85" y="311.12" font-size="4.8" text-anchor="middle" fill="#ffffff" style="letter-spacing:0.2px">± 17.61</text>
<text x="135.27" y="305.32" font-size="4.8" text-anchor="middle" fill="#ffffff" style="letter-spacing:0.2px">60.61</text>
<text x="135.27" y="311.12" font-size="4.8" text-anchor="middle" fill="#ffffff" style="letter-spacing:0.2px">± 14.21</text>
<text x="163.69" y="305.32" font-size="4.8" text-anchor="middle" fill="#ffffff" style="letter-spacing:0.2px">80.29</text>
<text x="163.69" y="311.12" font-size="4.8" text-anchor="middle" fill="#ffffff" style="letter-spacing:0.2px">± 11.67</text>
<text x="50.01" y="320.70" font-size="4.8" text-anchor="middle" fill="#3a2a2a" style="letter-spacing:0.2px;stroke:#3a2a2a;stroke-width:0.1px">14.09</text>
<text x="50.01" y="326.50" font-size="4.8" text-anchor="middle" fill="#3a2a2a" style="letter-spacing:0.2px;stroke:#3a2a2a;stroke-width:0.1px">± 6.82</text>
<text x="78.43" y="320.70" font-size="4.8" text-anchor="middle" fill="#3a2a2a" style="letter-spacing:0.2px;stroke:#3a2a2a;stroke-width:0.1px">17.44</text>
<text x="78.43" y="326.50" font-size="4.8" text-anchor="middle" fill="#3a2a2a" style="letter-spacing:0.2px;stroke:#3a2a2a;stroke-width:0.1px">± 17.25</text>
<text x="106.85" y="320.70" font-size="4.8" text-anchor="middle" fill="#3a2a2a" style="letter-spacing:0.2px;stroke:#3a2a2a;stroke-width:0.1px">23.03</text>
<text x="106.85" y="326.50" font-size="4.8" text-anchor="middle" fill="#3a2a2a" style="letter-spacing:0.2px;stroke:#3a2a2a;stroke-width:0.1px">± 16.04</text>
<text x="135.27" y="320.70" font-size="4.8" text-anchor="middle" fill="#ffffff" style="letter-spacing:0.2px">42.12</text>
<text x="135.27" y="326.50" font-size="4.8" text-anchor="middle" fill="#ffffff" style="letter-spacing:0.2px">± 11.38</text>
<text x="163.69" y="320.70" font-size="4.8" text-anchor="middle" fill="#ffffff" style="letter-spacing:0.2px">68.23</text>
<text x="163.69" y="326.50" font-size="4.8" text-anchor="middle" fill="#ffffff" style="letter-spacing:0.2px">± 10.21</text>
<text x="50.01" y="336.08" font-size="4.8" text-anchor="middle" fill="#3a2a2a" style="letter-spacing:0.2px;stroke:#3a2a2a;stroke-width:0.1px">5.84</text>
<text x="50.01" y="341.88" font-size="4.8" text-anchor="middle" fill="#3a2a2a" style="letter-spacing:0.2px;stroke:#3a2a2a;stroke-width:0.1px">± 6.34</text>
<text x="78.43" y="336.08" font-size="4.8" text-anchor="middle" fill="#3a2a2a" style="letter-spacing:0.2px;stroke:#3a2a2a;stroke-width:0.1px">4.98</text>
<text x="78.43" y="341.88" font-size="4.8" text-anchor="middle" fill="#3a2a2a" style="letter-spacing:0.2px;stroke:#3a2a2a;stroke-width:0.1px">± 5.76</text>
<text x="106.85" y="336.08" font-size="4.8" text-anchor="middle" fill="#3a2a2a" style="letter-spacing:0.2px;stroke:#3a2a2a;stroke-width:0.1px">8.44</text>
<text x="106.85" y="341.88" font-size="4.8" text-anchor="middle" fill="#3a2a2a" style="letter-spacing:0.2px;stroke:#3a2a2a;stroke-width:0.1px">± 4.3</text>
<text x="135.27" y="336.08" font-size="4.8" text-anchor="middle" fill="#3a2a2a" style="letter-spacing:0.2px;stroke:#3a2a2a;stroke-width:0.1px">25.13</text>
<text x="135.27" y="341.88" font-size="4.8" text-anchor="middle" fill="#3a2a2a" style="letter-spacing:0.2px;stroke:#3a2a2a;stroke-width:0.1px">± 7.53</text>
<text x="163.69" y="336.08" font-size="4.8" text-anchor="middle" fill="#ffffff" style="letter-spacing:0.2px">47.02</text>
<text x="163.69" y="341.88" font-size="4.8" text-anchor="middle" fill="#ffffff" style="letter-spacing:0.2px">± 7.68</text>
<text x="50.01" y="351.46" font-size="4.8" text-anchor="middle" fill="#3a2a2a" style="letter-spacing:0.2px;stroke:#3a2a2a;stroke-width:0.1px">−2.51</text>
<text x="50.01" y="357.26" font-size="4.8" text-anchor="middle" fill="#3a2a2a" style="letter-spacing:0.2px;stroke:#3a2a2a;stroke-width:0.1px">± 4.55</text>
<text x="78.43" y="351.46" font-size="4.8" text-anchor="middle" fill="#3a2a2a" style="letter-spacing:0.2px;stroke:#3a2a2a;stroke-width:0.1px">−1.71</text>
<text x="78.43" y="357.26" font-size="4.8" text-anchor="middle" fill="#3a2a2a" style="letter-spacing:0.2px;stroke:#3a2a2a;stroke-width:0.1px">± 5.04</text>
<text x="106.85" y="351.46" font-size="4.8" text-anchor="middle" fill="#3a2a2a" style="letter-spacing:0.2px;stroke:#3a2a2a;stroke-width:0.1px">−3.21</text>
<text x="106.85" y="357.26" font-size="4.8" text-anchor="middle" fill="#3a2a2a" style="letter-spacing:0.2px;stroke:#3a2a2a;stroke-width:0.1px">± 5.61</text>
<text x="135.27" y="351.46" font-size="4.8" text-anchor="middle" fill="#3a2a2a" style="letter-spacing:0.2px;stroke:#3a2a2a;stroke-width:0.1px">5.97</text>
<text x="135.27" y="357.26" font-size="4.8" text-anchor="middle" fill="#3a2a2a" style="letter-spacing:0.2px;stroke:#3a2a2a;stroke-width:0.1px">± 5.17</text>
<text x="163.69" y="351.46" font-size="4.8" text-anchor="middle" fill="#3a2a2a" style="letter-spacing:0.2px;stroke:#3a2a2a;stroke-width:0.1px">33.05</text>
<text x="163.69" y="357.26" font-size="4.8" text-anchor="middle" fill="#3a2a2a" style="letter-spacing:0.2px;stroke:#3a2a2a;stroke-width:0.1px">± 4.74</text>
<line x1="35.10" y1="281.00" x2="35.10" y2="361.30" stroke="#231f20" stroke-width="1.3"/>
<line x1="34.50" y1="360.80" x2="177.90" y2="360.80" stroke="#231f20" stroke-width="1.3"/>
<line x1="32.00" y1="291.49" x2="34.60" y2="291.49" stroke="#231f20" stroke-width="0.9"/>
<text x="29.20" y="293.69" font-size="6.2" text-anchor="end" fill="#333" stroke="#333" stroke-width="0.12">200</text>
<line x1="32.00" y1="306.87" x2="34.60" y2="306.87" stroke="#231f20" stroke-width="0.9"/>
<text x="29.20" y="309.07" font-size="6.2" text-anchor="end" fill="#333" stroke="#333" stroke-width="0.12">100</text>
<line x1="32.00" y1="322.25" x2="34.60" y2="322.25" stroke="#231f20" stroke-width="0.9"/>
<text x="29.20" y="324.45" font-size="6.2" text-anchor="end" fill="#333" stroke="#333" stroke-width="0.12">50</text>
<line x1="32.00" y1="337.63" x2="34.60" y2="337.63" stroke="#231f20" stroke-width="0.9"/>
<text x="29.20" y="339.83" font-size="6.2" text-anchor="end" fill="#333" stroke="#333" stroke-width="0.12">10</text>
<line x1="32.00" y1="353.01" x2="34.60" y2="353.01" stroke="#231f20" stroke-width="0.9"/>
<text x="29.20" y="355.21" font-size="6.2" text-anchor="end" fill="#333" stroke="#333" stroke-width="0.12">0</text>
<line x1="50.01" y1="361.30" x2="50.01" y2="363.70" stroke="#231f20" stroke-width="0.9"/>
<text x="50.01" y="371.70" font-size="6.0" text-anchor="middle" fill="#333" stroke="#333" stroke-width="0.12">0</text>
<line x1="78.43" y1="361.30" x2="78.43" y2="363.70" stroke="#231f20" stroke-width="0.9"/>
<text x="78.43" y="371.70" font-size="6.0" text-anchor="middle" fill="#333" stroke="#333" stroke-width="0.12">1</text>
<line x1="106.85" y1="361.30" x2="106.85" y2="363.70" stroke="#231f20" stroke-width="0.9"/>
<text x="106.85" y="371.70" font-size="6.0" text-anchor="middle" fill="#333" stroke="#333" stroke-width="0.12">2</text>
<line x1="135.27" y1="361.30" x2="135.27" y2="363.70" stroke="#231f20" stroke-width="0.9"/>
<text x="135.27" y="371.70" font-size="6.0" text-anchor="middle" fill="#333" stroke="#333" stroke-width="0.12">3</text>
<line x1="163.69" y1="361.30" x2="163.69" y2="363.70" stroke="#231f20" stroke-width="0.9"/>
<text x="163.69" y="371.70" font-size="6.0" text-anchor="middle" fill="#333" stroke="#333" stroke-width="0.12">4</text>
<text x="107.35" y="277.20" font-size="8.3" text-anchor="middle" fill="#222" stroke="#222" stroke-width="0.12">NCI-H929</text>
<text x="107.45" y="382.30" font-size="8.3" text-anchor="middle" fill="#2a2a2a" textLength="42" lengthAdjust="spacingAndGlyphs" style="stroke:#2a2a2a;stroke-width:0.15px">Bortezomib (nM)</text>
<text x="13.60" y="322.25" font-size="8.2" text-anchor="middle" fill="#2a2a2a" transform="rotate(-90 13.60 322.25)" textLength="26.8" lengthAdjust="spacingAndGlyphs" style="stroke:#2a2a2a;stroke-width:0.2px">RSL3 (nM)</text>
<text x="181.40" y="304.90" font-size="4.8" fill="#444" textLength="28.4" lengthAdjust="spacingAndGlyphs" stroke="#444" stroke-width="0.12">Inhibition (%)</text>
<rect x="182.00" y="312.20" width="8.10" height="26.40" fill="url(#cbB)" />
<text x="191.30" y="313.80" font-size="5.4" fill="#333" stroke="#333" stroke-width="0.12">100</text>
<text x="191.30" y="320.50" font-size="5.4" fill="#333" stroke="#333" stroke-width="0.12">50</text>
<text x="191.30" y="327.10" font-size="5.4" fill="#333" stroke="#333" stroke-width="0.12">0</text>
<text x="191.30" y="333.70" font-size="5.4" fill="#333" stroke="#333" stroke-width="0.12">−50</text>
<text x="191.30" y="340.10" font-size="5.4" fill="#333" stroke="#333" stroke-width="0.12">−100</text>
<text x="314.90" y="14.20" font-size="7.8" text-anchor="middle" fill="#222" stroke="#222" stroke-width="0.12">Mean Synergy Score:</text>
<text x="314.90" y="22.50" font-size="7.8" text-anchor="middle" fill="#222">−5.25 (<tspan font-style="italic">P</tspan> = 3.63e-03)</text>
<g clip-path="url(#clip_synA)">
<use href="#synA"/>
</g>
<line x1="280.05" y1="28.10" x2="280.05" y2="96.30" stroke="#333" stroke-width="0.8" stroke-dasharray="0.9 1.5"/>
<line x1="314.90" y1="28.10" x2="314.90" y2="96.30" stroke="#333" stroke-width="0.8" stroke-dasharray="0.9 1.5"/>
<line x1="349.75" y1="28.10" x2="349.75" y2="96.30" stroke="#333" stroke-width="0.8" stroke-dasharray="0.9 1.5"/>
<line x1="245.20" y1="79.25" x2="384.60" y2="79.25" stroke="#333" stroke-width="0.8" stroke-dasharray="0.9 1.5"/>
<line x1="245.20" y1="62.20" x2="384.60" y2="62.20" stroke="#333" stroke-width="0.8" stroke-dasharray="0.9 1.5"/>
<line x1="245.20" y1="45.15" x2="384.60" y2="45.15" stroke="#333" stroke-width="0.8" stroke-dasharray="0.9 1.5"/>
<rect x="245.20" y="28.10" width="139.40" height="68.20" fill="none" stroke="#231f20" stroke-width="1.4" />
<line x1="245.20" y1="96.30" x2="245.20" y2="98.90" stroke="#231f20" stroke-width="0.9"/>
<text x="245.20" y="106.70" font-size="6.0" text-anchor="middle" fill="#333" stroke="#333" stroke-width="0.12">0</text>
<line x1="280.05" y1="96.30" x2="280.05" y2="98.90" stroke="#231f20" stroke-width="0.9"/>
<text x="280.05" y="106.70" font-size="6.0" text-anchor="middle" fill="#333" stroke="#333" stroke-width="0.12">2</text>
<line x1="314.90" y1="96.30" x2="314.90" y2="98.90" stroke="#231f20" stroke-width="0.9"/>
<text x="314.90" y="106.70" font-size="6.0" text-anchor="middle" fill="#333" stroke="#333" stroke-width="0.12">4</text>
<line x1="349.75" y1="96.30" x2="349.75" y2="98.90" stroke="#231f20" stroke-width="0.9"/>
<text x="349.75" y="106.70" font-size="6.0" text-anchor="middle" fill="#333" stroke="#333" stroke-width="0.12">6</text>
<line x1="384.60" y1="96.30" x2="384.60" y2="98.90" stroke="#231f20" stroke-width="0.9"/>
<text x="384.60" y="106.70" font-size="6.0" text-anchor="middle" fill="#333" stroke="#333" stroke-width="0.12">8</text>
<line x1="242.60" y1="96.30" x2="245.20" y2="96.30" stroke="#231f20" stroke-width="0.9"/>
<text x="239.20" y="98.40" font-size="6.1" text-anchor="end" fill="#333" stroke="#333" stroke-width="0.12">0</text>
<line x1="242.60" y1="79.25" x2="245.20" y2="79.25" stroke="#231f20" stroke-width="0.9"/>
<text x="239.20" y="81.35" font-size="6.1" text-anchor="end" fill="#333" stroke="#333" stroke-width="0.12">200</text>
<line x1="242.60" y1="62.20" x2="245.20" y2="62.20" stroke="#231f20" stroke-width="0.9"/>
<text x="239.20" y="64.30" font-size="6.1" text-anchor="end" fill="#333" stroke="#333" stroke-width="0.12">400</text>
<line x1="242.60" y1="45.15" x2="245.20" y2="45.15" stroke="#231f20" stroke-width="0.9"/>
<text x="239.20" y="47.25" font-size="6.1" text-anchor="end" fill="#333" stroke="#333" stroke-width="0.12">600</text>
<line x1="242.60" y1="28.10" x2="245.20" y2="28.10" stroke="#231f20" stroke-width="0.9"/>
<text x="239.20" y="30.20" font-size="6.1" text-anchor="end" fill="#333" stroke="#333" stroke-width="0.12">800</text>
<text x="314.90" y="117.60" font-size="8.0" text-anchor="middle" fill="#2a2a2a" textLength="40.5" lengthAdjust="spacingAndGlyphs" style="stroke:#2a2a2a;stroke-width:0.15px">Bortezomib (nM)</text>
<text x="223.80" y="62.20" font-size="8.0" text-anchor="middle" fill="#2a2a2a" transform="rotate(-90 223.80 62.20)" textLength="26.5" lengthAdjust="spacingAndGlyphs" style="stroke:#2a2a2a;stroke-width:0.2px">RSL3 (nM)</text>
<rect x="386.30" y="48.80" width="8.30" height="26.00" fill="url(#cbS)" />
<text x="396.40" y="55.10" font-size="6.0" fill="#333" stroke="#333" stroke-width="0.12">20</text>
<text x="396.40" y="63.40" font-size="6.0" fill="#333" stroke="#333" stroke-width="0.12">0</text>
<text x="396.40" y="72.50" font-size="6.0" fill="#333" stroke="#333" stroke-width="0.12">−20</text>
<text x="314.90" y="154.80" font-size="7.8" text-anchor="middle" fill="#222" stroke="#222" stroke-width="0.12">Mean Synergy Score:</text>
<text x="314.90" y="163.10" font-size="7.8" text-anchor="middle" fill="#222">22.13 (<tspan font-style="italic">P</tspan> = 4.80e-07)</text>
<g clip-path="url(#clip_synB)">
<use href="#synB"/>
</g>
<line x1="280.05" y1="168.70" x2="280.05" y2="236.90" stroke="#333" stroke-width="0.8" stroke-dasharray="0.9 1.5"/>
<line x1="314.90" y1="168.70" x2="314.90" y2="236.90" stroke="#333" stroke-width="0.8" stroke-dasharray="0.9 1.5"/>
<line x1="349.75" y1="168.70" x2="349.75" y2="236.90" stroke="#333" stroke-width="0.8" stroke-dasharray="0.9 1.5"/>
<line x1="245.20" y1="219.85" x2="384.60" y2="219.85" stroke="#333" stroke-width="0.8" stroke-dasharray="0.9 1.5"/>
<line x1="245.20" y1="202.80" x2="384.60" y2="202.80" stroke="#333" stroke-width="0.8" stroke-dasharray="0.9 1.5"/>
<line x1="245.20" y1="185.75" x2="384.60" y2="185.75" stroke="#333" stroke-width="0.8" stroke-dasharray="0.9 1.5"/>
<rect x="245.20" y="168.70" width="139.40" height="68.20" fill="none" stroke="#231f20" stroke-width="1.4" />
<line x1="245.20" y1="236.90" x2="245.20" y2="239.50" stroke="#231f20" stroke-width="0.9"/>
<text x="245.20" y="247.30" font-size="6.0" text-anchor="middle" fill="#333" stroke="#333" stroke-width="0.12">0</text>
<line x1="280.05" y1="236.90" x2="280.05" y2="239.50" stroke="#231f20" stroke-width="0.9"/>
<text x="280.05" y="247.30" font-size="6.0" text-anchor="middle" fill="#333" stroke="#333" stroke-width="0.12">2</text>
<line x1="314.90" y1="236.90" x2="314.90" y2="239.50" stroke="#231f20" stroke-width="0.9"/>
<text x="314.90" y="247.30" font-size="6.0" text-anchor="middle" fill="#333" stroke="#333" stroke-width="0.12">4</text>
<line x1="349.75" y1="236.90" x2="349.75" y2="239.50" stroke="#231f20" stroke-width="0.9"/>
<text x="349.75" y="247.30" font-size="6.0" text-anchor="middle" fill="#333" stroke="#333" stroke-width="0.12">8</text>
<line x1="384.60" y1="236.90" x2="384.60" y2="239.50" stroke="#231f20" stroke-width="0.9"/>
<text x="384.60" y="247.30" font-size="6.0" text-anchor="middle" fill="#333" stroke="#333" stroke-width="0.12">12</text>
<line x1="242.60" y1="236.90" x2="245.20" y2="236.90" stroke="#231f20" stroke-width="0.9"/>
<text x="239.20" y="239.00" font-size="6.1" text-anchor="end" fill="#333" stroke="#333" stroke-width="0.12">0</text>
<line x1="242.60" y1="219.85" x2="245.20" y2="219.85" stroke="#231f20" stroke-width="0.9"/>
<text x="239.20" y="221.95" font-size="6.1" text-anchor="end" fill="#333" stroke="#333" stroke-width="0.12">10</text>
<line x1="242.60" y1="202.80" x2="245.20" y2="202.80" stroke="#231f20" stroke-width="0.9"/>
<text x="239.20" y="204.90" font-size="6.1" text-anchor="end" fill="#333" stroke="#333" stroke-width="0.12">50</text>
<line x1="242.60" y1="185.75" x2="245.20" y2="185.75" stroke="#231f20" stroke-width="0.9"/>
<text x="239.20" y="187.85" font-size="6.1" text-anchor="end" fill="#333" stroke="#333" stroke-width="0.12">100</text>
<line x1="242.60" y1="168.70" x2="245.20" y2="168.70" stroke="#231f20" stroke-width="0.9"/>
<text x="239.20" y="170.80" font-size="6.1" text-anchor="end" fill="#333" stroke="#333" stroke-width="0.12">200</text>
<text x="314.90" y="258.20" font-size="8.0" text-anchor="middle" fill="#2a2a2a" textLength="40.5" lengthAdjust="spacingAndGlyphs" style="stroke:#2a2a2a;stroke-width:0.15px">Bortezomib (nM)</text>
<text x="223.80" y="202.80" font-size="8.0" text-anchor="middle" fill="#2a2a2a" transform="rotate(-90 223.80 202.80)" textLength="26.5" lengthAdjust="spacingAndGlyphs" style="stroke:#2a2a2a;stroke-width:0.2px">RSL3 (nM)</text>
<rect x="388.30" y="193.00" width="8.70" height="25.70" fill="url(#cbS)" />
<text x="398.80" y="197.70" font-size="6.0" fill="#333" stroke="#333" stroke-width="0.12">50</text>
<text x="398.80" y="207.70" font-size="6.0" fill="#333" stroke="#333" stroke-width="0.12">0</text>
<text x="398.80" y="218.80" font-size="6.0" fill="#333" stroke="#333" stroke-width="0.12">−50</text>
<text x="314.90" y="277.60" font-size="7.8" text-anchor="middle" fill="#222" stroke="#222" stroke-width="0.12">Mean Synergy Score:</text>
<text x="314.90" y="285.90" font-size="7.8" text-anchor="middle" fill="#222">18.94 (<tspan font-style="italic">P</tspan> = 4.96e-13)</text>
<g clip-path="url(#clip_synC)">
<use href="#synC"/>
</g>
<line x1="280.05" y1="291.50" x2="280.05" y2="360.40" stroke="#333" stroke-width="0.8" stroke-dasharray="0.9 1.5"/>
<line x1="314.90" y1="291.50" x2="314.90" y2="360.40" stroke="#333" stroke-width="0.8" stroke-dasharray="0.9 1.5"/>
<line x1="349.75" y1="291.50" x2="349.75" y2="360.40" stroke="#333" stroke-width="0.8" stroke-dasharray="0.9 1.5"/>
<line x1="245.20" y1="343.17" x2="384.60" y2="343.17" stroke="#333" stroke-width="0.8" stroke-dasharray="0.9 1.5"/>
<line x1="245.20" y1="325.95" x2="384.60" y2="325.95" stroke="#333" stroke-width="0.8" stroke-dasharray="0.9 1.5"/>
<line x1="245.20" y1="308.73" x2="384.60" y2="308.73" stroke="#333" stroke-width="0.8" stroke-dasharray="0.9 1.5"/>
<rect x="245.20" y="291.50" width="139.40" height="68.90" fill="none" stroke="#231f20" stroke-width="1.4" />
<line x1="245.20" y1="360.40" x2="245.20" y2="363.00" stroke="#231f20" stroke-width="0.9"/>
<text x="245.20" y="370.80" font-size="6.0" text-anchor="middle" fill="#333" stroke="#333" stroke-width="0.12">0</text>
<line x1="280.05" y1="360.40" x2="280.05" y2="363.00" stroke="#231f20" stroke-width="0.9"/>
<text x="280.05" y="370.80" font-size="6.0" text-anchor="middle" fill="#333" stroke="#333" stroke-width="0.12">1</text>
<line x1="314.90" y1="360.40" x2="314.90" y2="363.00" stroke="#231f20" stroke-width="0.9"/>
<text x="314.90" y="370.80" font-size="6.0" text-anchor="middle" fill="#333" stroke="#333" stroke-width="0.12">2</text>
<line x1="349.75" y1="360.40" x2="349.75" y2="363.00" stroke="#231f20" stroke-width="0.9"/>
<text x="349.75" y="370.80" font-size="6.0" text-anchor="middle" fill="#333" stroke="#333" stroke-width="0.12">3</text>
<line x1="384.60" y1="360.40" x2="384.60" y2="363.00" stroke="#231f20" stroke-width="0.9"/>
<text x="384.60" y="370.80" font-size="6.0" text-anchor="middle" fill="#333" stroke="#333" stroke-width="0.12">4</text>
<line x1="242.60" y1="360.40" x2="245.20" y2="360.40" stroke="#231f20" stroke-width="0.9"/>
<text x="239.20" y="362.50" font-size="6.1" text-anchor="end" fill="#333" stroke="#333" stroke-width="0.12">0</text>
<line x1="242.60" y1="343.17" x2="245.20" y2="343.17" stroke="#231f20" stroke-width="0.9"/>
<text x="239.20" y="345.27" font-size="6.1" text-anchor="end" fill="#333" stroke="#333" stroke-width="0.12">50</text>
<line x1="242.60" y1="325.95" x2="245.20" y2="325.95" stroke="#231f20" stroke-width="0.9"/>
<text x="239.20" y="328.05" font-size="6.1" text-anchor="end" fill="#333" stroke="#333" stroke-width="0.12">100</text>
<line x1="242.60" y1="308.73" x2="245.20" y2="308.73" stroke="#231f20" stroke-width="0.9"/>
<text x="239.20" y="310.83" font-size="6.1" text-anchor="end" fill="#333" stroke="#333" stroke-width="0.12">200</text>
<line x1="242.60" y1="291.50" x2="245.20" y2="291.50" stroke="#231f20" stroke-width="0.9"/>
<text x="239.20" y="293.60" font-size="6.1" text-anchor="end" fill="#333" stroke="#333" stroke-width="0.12">300</text>
<text x="314.90" y="381.70" font-size="8.0" text-anchor="middle" fill="#2a2a2a" textLength="40.5" lengthAdjust="spacingAndGlyphs" style="stroke:#2a2a2a;stroke-width:0.15px">Bortezomib (nM)</text>
<text x="223.80" y="325.95" font-size="8.0" text-anchor="middle" fill="#2a2a2a" transform="rotate(-90 223.80 325.95)" textLength="26.5" lengthAdjust="spacingAndGlyphs" style="stroke:#2a2a2a;stroke-width:0.2px">RSL3 (nM)</text>
<rect x="387.90" y="316.50" width="9.10" height="25.50" fill="url(#cbS)" />
<text x="398.80" y="320.00" font-size="6.0" fill="#333" stroke="#333" stroke-width="0.12">50</text>
<text x="398.80" y="331.70" font-size="6.0" fill="#333" stroke="#333" stroke-width="0.12">0</text>
<text x="398.80" y="343.60" font-size="6.0" fill="#333" stroke="#333" stroke-width="0.12">−50</text>
<line x1="435.80" y1="27.60" x2="435.80" y2="96.60" stroke="#231f20" stroke-width="1.2"/>
<line x1="435.30" y1="96.30" x2="513.90" y2="96.30" stroke="#231f20" stroke-width="1.2"/>
<line x1="435.80" y1="74.50" x2="513.90" y2="74.50" stroke="#8a8a8a" stroke-width="0.8"/>
<line x1="433.20" y1="29.72" x2="435.80" y2="29.72" stroke="#231f20" stroke-width="0.9"/>
<text x="430.40" y="31.82" font-size="6.2" text-anchor="end" fill="#333" stroke="#333" stroke-width="0.12">40</text>
<line x1="433.20" y1="51.96" x2="435.80" y2="51.96" stroke="#231f20" stroke-width="0.9"/>
<text x="430.40" y="54.06" font-size="6.2" text-anchor="end" fill="#333" stroke="#333" stroke-width="0.12">20</text>
<line x1="433.20" y1="74.20" x2="435.80" y2="74.20" stroke="#231f20" stroke-width="0.9"/>
<text x="430.40" y="76.30" font-size="6.2" text-anchor="end" fill="#333" stroke="#333" stroke-width="0.12">0</text>
<line x1="433.20" y1="96.44" x2="435.80" y2="96.44" stroke="#231f20" stroke-width="0.9"/>
<text x="430.40" y="98.54" font-size="6.2" text-anchor="end" fill="#333" stroke="#333" stroke-width="0.12">−20</text>
<text x="418.20" y="61.40" font-size="7.4" text-anchor="middle" fill="#1a1a1a" transform="rotate(-90 418.20 61.40)" textLength="47" lengthAdjust="spacingAndGlyphs" stroke="#1a1a1a" stroke-width="0.12">Bliss synergy score</text>
<line x1="441.20" y1="77.50" x2="456.80" y2="77.50" stroke="#b5123a" stroke-width="1.0"/>
<rect x="447.60" y="72.24" width="2.8" height="2.8" rx="0.9" fill="#b5123a"/>
<rect x="447.60" y="76.14" width="2.8" height="2.8" rx="0.9" fill="#b5123a"/>
<rect x="447.60" y="87.03" width="2.8" height="2.8" rx="0.9" fill="#b5123a"/>
<line x1="449.00" y1="96.30" x2="449.00" y2="98.80" stroke="#231f20" stroke-width="0.9"/>
<text x="450.80" y="105.60" font-size="5.8" text-anchor="end" fill="#333" transform="rotate(-45 450.80 105.60)">U-266</text>
<line x1="465.50" y1="49.50" x2="481.10" y2="49.50" stroke="#1f3f87" stroke-width="1.0"/>
<rect x="471.90" y="43.33" width="2.8" height="2.8" rx="0.9" fill="#1f3f87"/>
<rect x="471.90" y="48.56" width="2.8" height="2.8" rx="0.9" fill="#1f3f87"/>
<rect x="471.90" y="55.01" width="2.8" height="2.8" rx="0.9" fill="#1f3f87"/>
<line x1="473.30" y1="96.30" x2="473.30" y2="98.80" stroke="#231f20" stroke-width="0.9"/>
<text x="475.10" y="105.60" font-size="5.8" text-anchor="end" fill="#333" transform="rotate(-45 475.10 105.60)">OPM-2</text>
<line x1="489.70" y1="54.50" x2="505.30" y2="54.50" stroke="#f4c84a" stroke-width="1.0"/>
<rect x="496.10" y="44.44" width="2.8" height="2.8" rx="0.9" fill="#f4c84a"/>
<rect x="496.10" y="53.01" width="2.8" height="2.8" rx="0.9" fill="#f4c84a"/>
<rect x="496.10" y="58.34" width="2.8" height="2.8" rx="0.9" fill="#f4c84a"/>
<line x1="497.50" y1="96.30" x2="497.50" y2="98.80" stroke="#231f20" stroke-width="0.9"/>
<text x="499.30" y="105.60" font-size="5.8" text-anchor="end" fill="#333" transform="rotate(-45 499.30 105.60)">NCI-H929</text>
<line x1="438.70" y1="128.50" x2="459.00" y2="128.50" stroke="#222" stroke-width="1.0"/>
<line x1="462.90" y1="128.50" x2="511.30" y2="128.50" stroke="#222" stroke-width="1.0"/>
<text x="449.00" y="136.70" font-size="5.9" text-anchor="middle" fill="#333" stroke="#333" stroke-width="0.12">t(4;14)−</text>
<text x="487.10" y="136.70" font-size="5.9" text-anchor="middle" fill="#333" stroke="#333" stroke-width="0.12">t(4;14)+</text>
<path d="M423.8,219.5 H443.6 M423.8,219.5 V324.2 H513.9 V206.6 H443.6 V324.2" fill="none" stroke="#2a2a2a" stroke-width="1.0"/>
<line x1="443.60" y1="219.50" x2="513.90" y2="219.50" stroke="#2a2a2a" stroke-width="1.0"/>
<line x1="443.60" y1="232.10" x2="513.90" y2="232.10" stroke="#2a2a2a" stroke-width="1.0"/>
<line x1="443.60" y1="245.10" x2="513.90" y2="245.10" stroke="#2a2a2a" stroke-width="1.0"/>
<line x1="443.60" y1="258.60" x2="513.90" y2="258.60" stroke="#2a2a2a" stroke-width="1.0"/>
<line x1="443.60" y1="272.30" x2="513.90" y2="272.30" stroke="#2a2a2a" stroke-width="1.0"/>
<line x1="443.60" y1="285.80" x2="513.90" y2="285.80" stroke="#2a2a2a" stroke-width="1.0"/>
<line x1="443.60" y1="299.40" x2="513.90" y2="299.40" stroke="#2a2a2a" stroke-width="1.0"/>
<line x1="443.60" y1="311.60" x2="513.90" y2="311.60" stroke="#2a2a2a" stroke-width="1.0"/>
<line x1="471.00" y1="219.50" x2="471.00" y2="245.10" stroke="#2a2a2a" stroke-width="1.0"/>
<line x1="471.00" y1="258.60" x2="471.00" y2="285.80" stroke="#2a2a2a" stroke-width="1.0"/>
<line x1="471.00" y1="299.40" x2="471.00" y2="324.20" stroke="#2a2a2a" stroke-width="1.0"/>
<text x="478.75" y="215.95" font-size="8.0" text-anchor="middle" fill="#222" stroke="#222" stroke-width="0.12">U-266</text>
<text x="457.30" y="227.80" font-size="5.6" text-anchor="middle" fill="#333" stroke="#333" stroke-width="0.12">Mean</text>
<text x="492.45" y="227.80" font-size="5.6" text-anchor="middle" fill="#333" stroke="#333" stroke-width="0.12">95% CI</text>
<text x="457.30" y="240.60" font-size="5.6" text-anchor="middle" fill="#333" stroke="#333" stroke-width="0.12">−5.25</text>
<text x="492.45" y="240.60" font-size="5.6" text-anchor="middle" fill="#333" stroke="#333" stroke-width="0.12">−22.05 - 11.88</text>
<text x="478.75" y="254.75" font-size="8.0" text-anchor="middle" fill="#222" stroke="#222" stroke-width="0.12">OPM-2</text>
<text x="457.30" y="267.45" font-size="5.6" text-anchor="middle" fill="#333" stroke="#333" stroke-width="0.12">Mean</text>
<text x="492.45" y="267.45" font-size="5.6" text-anchor="middle" fill="#333" stroke="#333" stroke-width="0.12">95% CI</text>
<text x="457.30" y="281.05" font-size="5.6" text-anchor="middle" fill="#333" stroke="#333" stroke-width="0.12">22.13</text>
<text x="492.45" y="281.05" font-size="5.6" text-anchor="middle" fill="#333" stroke="#333" stroke-width="0.12">21.57 - 26.65</text>
<text x="478.75" y="295.50" font-size="8.0" text-anchor="middle" fill="#222" stroke="#222" stroke-width="0.12">NCI-H929</text>
<text x="457.30" y="307.50" font-size="5.6" text-anchor="middle" fill="#333" stroke="#333" stroke-width="0.12">Mean</text>
<text x="492.45" y="307.50" font-size="5.6" text-anchor="middle" fill="#333" stroke="#333" stroke-width="0.12">95% CI</text>
<text x="457.30" y="319.90" font-size="5.6" text-anchor="middle" fill="#333" stroke="#333" stroke-width="0.12">18.94</text>
<text x="492.45" y="319.90" font-size="5.6" text-anchor="middle" fill="#333" stroke="#333" stroke-width="0.12">17.66 - 25.97</text>
<text x="436.60" y="272.00" font-size="7.8" text-anchor="middle" fill="#222" transform="rotate(-90 436.60 272.00)" textLength="66" lengthAdjust="spacingAndGlyphs" stroke="#222" stroke-width="0.12">Bliss synergy score</text>
<text x="73.55" y="403.40" font-size="8.3" text-anchor="middle" fill="#111" stroke="#111" stroke-width="0.12">DMSO</text>
<path d="M52.10,485.20 L52.60,470.00 L53.00,450.00 L53.60,430.00 L54.20,416.70 L55.00,425.00 L55.80,437.00 L56.60,446.80 L57.80,457.00 L59.10,465.10 L60.30,471.50 L61.50,476.20 L62.80,479.50 L64.00,481.70 L66.00,482.80 L70.00,483.40 L75.00,483.20 L80.00,483.30 L85.00,483.80 L88.00,484.60 L90.00,485.20 Z" fill="#e98a80" stroke="#b04040" stroke-width="0.75" stroke-linejoin="round"/>
<rect x="33.70" y="408.60" width="77.30" height="76.60" fill="none" stroke="#231f20" stroke-width="1.15" />
<line x1="31.30" y1="485.20" x2="33.70" y2="485.20" stroke="#231f20" stroke-width="0.8"/>
<text x="28.70" y="487.30" font-size="6.1" text-anchor="end" fill="#333" stroke="#333" stroke-width="0.12">0</text>
<line x1="31.30" y1="459.67" x2="33.70" y2="459.67" stroke="#231f20" stroke-width="0.8"/>
<text x="28.70" y="461.77" font-size="6.1" text-anchor="end" fill="#333" stroke="#333" stroke-width="0.12">200</text>
<line x1="31.30" y1="434.13" x2="33.70" y2="434.13" stroke="#231f20" stroke-width="0.8"/>
<text x="28.70" y="436.23" font-size="6.1" text-anchor="end" fill="#333" stroke="#333" stroke-width="0.12">400</text>
<line x1="31.30" y1="408.60" x2="33.70" y2="408.60" stroke="#231f20" stroke-width="0.8"/>
<text x="28.70" y="410.70" font-size="6.1" text-anchor="end" fill="#333" stroke="#333" stroke-width="0.12">600</text>
<line x1="32.40" y1="478.82" x2="33.70" y2="478.82" stroke="#231f20" stroke-width="0.7"/>
<line x1="32.40" y1="472.43" x2="33.70" y2="472.43" stroke="#231f20" stroke-width="0.7"/>
<line x1="32.40" y1="466.05" x2="33.70" y2="466.05" stroke="#231f20" stroke-width="0.7"/>
<line x1="32.40" y1="459.67" x2="33.70" y2="459.67" stroke="#231f20" stroke-width="0.7"/>
<line x1="32.40" y1="453.28" x2="33.70" y2="453.28" stroke="#231f20" stroke-width="0.7"/>
<line x1="32.40" y1="446.90" x2="33.70" y2="446.90" stroke="#231f20" stroke-width="0.7"/>
<line x1="32.40" y1="440.52" x2="33.70" y2="440.52" stroke="#231f20" stroke-width="0.7"/>
<line x1="32.40" y1="434.13" x2="33.70" y2="434.13" stroke="#231f20" stroke-width="0.7"/>
<line x1="32.40" y1="427.75" x2="33.70" y2="427.75" stroke="#231f20" stroke-width="0.7"/>
<line x1="32.40" y1="421.37" x2="33.70" y2="421.37" stroke="#231f20" stroke-width="0.7"/>
<line x1="32.40" y1="414.98" x2="33.70" y2="414.98" stroke="#231f20" stroke-width="0.7"/>
<line x1="39.50" y1="485.20" x2="39.50" y2="487.40" stroke="#231f20" stroke-width="0.8"/>
<line x1="52.50" y1="485.20" x2="52.50" y2="487.40" stroke="#231f20" stroke-width="0.8"/>
<line x1="64.50" y1="485.20" x2="64.50" y2="487.40" stroke="#231f20" stroke-width="0.8"/>
<line x1="85.30" y1="485.20" x2="85.30" y2="487.40" stroke="#231f20" stroke-width="0.8"/>
<line x1="104.10" y1="485.20" x2="104.10" y2="487.40" stroke="#231f20" stroke-width="0.8"/>
<line x1="70.76" y1="485.20" x2="70.76" y2="486.40" stroke="#231f20" stroke-width="0.6"/>
<line x1="74.42" y1="485.20" x2="74.42" y2="486.40" stroke="#231f20" stroke-width="0.6"/>
<line x1="77.02" y1="485.20" x2="77.02" y2="486.40" stroke="#231f20" stroke-width="0.6"/>
<line x1="79.04" y1="485.20" x2="79.04" y2="486.40" stroke="#231f20" stroke-width="0.6"/>
<line x1="80.69" y1="485.20" x2="80.69" y2="486.40" stroke="#231f20" stroke-width="0.6"/>
<line x1="82.08" y1="485.20" x2="82.08" y2="486.40" stroke="#231f20" stroke-width="0.6"/>
<line x1="83.28" y1="485.20" x2="83.28" y2="486.40" stroke="#231f20" stroke-width="0.6"/>
<line x1="84.35" y1="485.20" x2="84.35" y2="486.40" stroke="#231f20" stroke-width="0.6"/>
<line x1="90.96" y1="485.20" x2="90.96" y2="486.40" stroke="#231f20" stroke-width="0.6"/>
<line x1="94.27" y1="485.20" x2="94.27" y2="486.40" stroke="#231f20" stroke-width="0.6"/>
<line x1="96.62" y1="485.20" x2="96.62" y2="486.40" stroke="#231f20" stroke-width="0.6"/>
<line x1="98.44" y1="485.20" x2="98.44" y2="486.40" stroke="#231f20" stroke-width="0.6"/>
<line x1="99.93" y1="485.20" x2="99.93" y2="486.40" stroke="#231f20" stroke-width="0.6"/>
<line x1="101.19" y1="485.20" x2="101.19" y2="486.40" stroke="#231f20" stroke-width="0.6"/>
<line x1="102.28" y1="485.20" x2="102.28" y2="486.40" stroke="#231f20" stroke-width="0.6"/>
<line x1="103.24" y1="485.20" x2="103.24" y2="486.40" stroke="#231f20" stroke-width="0.6"/>
<line x1="56.46" y1="485.20" x2="56.46" y2="486.40" stroke="#231f20" stroke-width="0.6"/>
<line x1="60.42" y1="485.20" x2="60.42" y2="486.40" stroke="#231f20" stroke-width="0.6"/>
<line x1="43.79" y1="485.20" x2="43.79" y2="486.40" stroke="#231f20" stroke-width="0.6"/>
<line x1="48.08" y1="485.20" x2="48.08" y2="486.40" stroke="#231f20" stroke-width="0.6"/>
<rect x="49.60" y="484.80" width="3.20" height="2.70" fill="#111" />
<text x="38.30" y="495.50" font-size="6.0" text-anchor="middle" fill="#333">−10<tspan font-size="3.6" dy="-2.1">3</tspan></text>
<text x="52.50" y="495.50" font-size="6.0" text-anchor="middle" fill="#333" stroke="#333" stroke-width="0.12">0</text>
<text x="64.10" y="495.50" font-size="6.0" text-anchor="middle" fill="#333">10<tspan font-size="3.6" dy="-2.1">3</tspan></text>
<text x="84.90" y="495.50" font-size="6.0" text-anchor="middle" fill="#333">10<tspan font-size="3.6" dy="-2.1">4</tspan></text>
<text x="103.70" y="495.50" font-size="6.0" text-anchor="middle" fill="#333">10<tspan font-size="3.6" dy="-2.1">5</tspan></text>
<text x="73.65" y="507.60" font-size="7.8" text-anchor="middle" fill="#2a2a2a" textLength="16.7" lengthAdjust="spacingAndGlyphs" style="stroke:#2a2a2a;stroke-width:0.25px">FITC-A</text>
<line x1="63.90" y1="442.20" x2="104.10" y2="442.20" stroke="#444" stroke-width="0.8"/>
<line x1="63.90" y1="441.00" x2="63.90" y2="443.40" stroke="#444" stroke-width="0.8"/>
<line x1="104.10" y1="441.00" x2="104.10" y2="443.40" stroke="#444" stroke-width="0.8"/>
<text x="84.60" y="429.70" font-size="6.0" text-anchor="middle" fill="#333" stroke="#333" stroke-width="0.12">Caspase-3</text>
<text x="84.60" y="436.90" font-size="6.0" text-anchor="middle" fill="#333" stroke="#333" stroke-width="0.12">10.5</text>
<text x="174.05" y="403.40" font-size="8.3" text-anchor="middle" fill="#111" stroke="#111" stroke-width="0.12">BTZ</text>
<path d="M152.50,485.20 L153.30,480.00 L154.20,473.80 L155.00,468.00 L156.00,462.30 L157.50,458.00 L159.10,455.60 L160.60,458.30 L162.30,459.40 L164.00,461.20 L165.00,463.50 L165.80,466.90 L166.70,472.00 L167.50,476.20 L168.60,479.50 L169.80,481.30 L172.00,482.20 L175.00,482.50 L179.60,483.70 L185.40,483.40 L191.20,484.60 L194.60,485.20 Z" fill="#e98a80" stroke="#b04040" stroke-width="0.75" stroke-linejoin="round"/>
<rect x="134.20" y="408.60" width="77.30" height="76.60" fill="none" stroke="#231f20" stroke-width="1.15" />
<line x1="131.80" y1="485.20" x2="134.20" y2="485.20" stroke="#231f20" stroke-width="0.8"/>
<text x="129.20" y="487.30" font-size="6.1" text-anchor="end" fill="#333" stroke="#333" stroke-width="0.12">0</text>
<line x1="131.80" y1="459.67" x2="134.20" y2="459.67" stroke="#231f20" stroke-width="0.8"/>
<text x="129.20" y="461.77" font-size="6.1" text-anchor="end" fill="#333" stroke="#333" stroke-width="0.12">200</text>
<line x1="131.80" y1="434.13" x2="134.20" y2="434.13" stroke="#231f20" stroke-width="0.8"/>
<text x="129.20" y="436.23" font-size="6.1" text-anchor="end" fill="#333" stroke="#333" stroke-width="0.12">400</text>
<line x1="131.80" y1="408.60" x2="134.20" y2="408.60" stroke="#231f20" stroke-width="0.8"/>
<text x="129.20" y="410.70" font-size="6.1" text-anchor="end" fill="#333" stroke="#333" stroke-width="0.12">600</text>
<line x1="132.90" y1="478.82" x2="134.20" y2="478.82" stroke="#231f20" stroke-width="0.7"/>
<line x1="132.90" y1="472.43" x2="134.20" y2="472.43" stroke="#231f20" stroke-width="0.7"/>
<line x1="132.90" y1="466.05" x2="134.20" y2="466.05" stroke="#231f20" stroke-width="0.7"/>
<line x1="132.90" y1="459.67" x2="134.20" y2="459.67" stroke="#231f20" stroke-width="0.7"/>
<line x1="132.90" y1="453.28" x2="134.20" y2="453.28" stroke="#231f20" stroke-width="0.7"/>
<line x1="132.90" y1="446.90" x2="134.20" y2="446.90" stroke="#231f20" stroke-width="0.7"/>
<line x1="132.90" y1="440.52" x2="134.20" y2="440.52" stroke="#231f20" stroke-width="0.7"/>
<line x1="132.90" y1="434.13" x2="134.20" y2="434.13" stroke="#231f20" stroke-width="0.7"/>
<line x1="132.90" y1="427.75" x2="134.20" y2="427.75" stroke="#231f20" stroke-width="0.7"/>
<line x1="132.90" y1="421.37" x2="134.20" y2="421.37" stroke="#231f20" stroke-width="0.7"/>
<line x1="132.90" y1="414.98" x2="134.20" y2="414.98" stroke="#231f20" stroke-width="0.7"/>
<line x1="140.00" y1="485.20" x2="140.00" y2="487.40" stroke="#231f20" stroke-width="0.8"/>
<line x1="153.00" y1="485.20" x2="153.00" y2="487.40" stroke="#231f20" stroke-width="0.8"/>
<line x1="165.00" y1="485.20" x2="165.00" y2="487.40" stroke="#231f20" stroke-width="0.8"/>
<line x1="185.80" y1="485.20" x2="185.80" y2="487.40" stroke="#231f20" stroke-width="0.8"/>
<line x1="204.60" y1="485.20" x2="204.60" y2="487.40" stroke="#231f20" stroke-width="0.8"/>
<line x1="171.26" y1="485.20" x2="171.26" y2="486.40" stroke="#231f20" stroke-width="0.6"/>
<line x1="174.92" y1="485.20" x2="174.92" y2="486.40" stroke="#231f20" stroke-width="0.6"/>
<line x1="177.52" y1="485.20" x2="177.52" y2="486.40" stroke="#231f20" stroke-width="0.6"/>
<line x1="179.54" y1="485.20" x2="179.54" y2="486.40" stroke="#231f20" stroke-width="0.6"/>
<line x1="181.19" y1="485.20" x2="181.19" y2="486.40" stroke="#231f20" stroke-width="0.6"/>
<line x1="182.58" y1="485.20" x2="182.58" y2="486.40" stroke="#231f20" stroke-width="0.6"/>
<line x1="183.78" y1="485.20" x2="183.78" y2="486.40" stroke="#231f20" stroke-width="0.6"/>
<line x1="184.85" y1="485.20" x2="184.85" y2="486.40" stroke="#231f20" stroke-width="0.6"/>
<line x1="191.46" y1="485.20" x2="191.46" y2="486.40" stroke="#231f20" stroke-width="0.6"/>
<line x1="194.77" y1="485.20" x2="194.77" y2="486.40" stroke="#231f20" stroke-width="0.6"/>
<line x1="197.12" y1="485.20" x2="197.12" y2="486.40" stroke="#231f20" stroke-width="0.6"/>
<line x1="198.94" y1="485.20" x2="198.94" y2="486.40" stroke="#231f20" stroke-width="0.6"/>
<line x1="200.43" y1="485.20" x2="200.43" y2="486.40" stroke="#231f20" stroke-width="0.6"/>
<line x1="201.69" y1="485.20" x2="201.69" y2="486.40" stroke="#231f20" stroke-width="0.6"/>
<line x1="202.78" y1="485.20" x2="202.78" y2="486.40" stroke="#231f20" stroke-width="0.6"/>
<line x1="203.74" y1="485.20" x2="203.74" y2="486.40" stroke="#231f20" stroke-width="0.6"/>
<line x1="156.96" y1="485.20" x2="156.96" y2="486.40" stroke="#231f20" stroke-width="0.6"/>
<line x1="160.92" y1="485.20" x2="160.92" y2="486.40" stroke="#231f20" stroke-width="0.6"/>
<line x1="144.29" y1="485.20" x2="144.29" y2="486.40" stroke="#231f20" stroke-width="0.6"/>
<line x1="148.58" y1="485.20" x2="148.58" y2="486.40" stroke="#231f20" stroke-width="0.6"/>
<rect x="150.10" y="484.80" width="3.20" height="2.70" fill="#111" />
<text x="138.80" y="495.50" font-size="6.0" text-anchor="middle" fill="#333">−10<tspan font-size="3.6" dy="-2.1">3</tspan></text>
<text x="153.00" y="495.50" font-size="6.0" text-anchor="middle" fill="#333" stroke="#333" stroke-width="0.12">0</text>
<text x="164.60" y="495.50" font-size="6.0" text-anchor="middle" fill="#333">10<tspan font-size="3.6" dy="-2.1">3</tspan></text>
<text x="185.40" y="495.50" font-size="6.0" text-anchor="middle" fill="#333">10<tspan font-size="3.6" dy="-2.1">4</tspan></text>
<text x="204.20" y="495.50" font-size="6.0" text-anchor="middle" fill="#333">10<tspan font-size="3.6" dy="-2.1">5</tspan></text>
<text x="174.15" y="507.60" font-size="7.8" text-anchor="middle" fill="#2a2a2a" textLength="16.7" lengthAdjust="spacingAndGlyphs" style="stroke:#2a2a2a;stroke-width:0.25px">FITC-A</text>
<line x1="164.00" y1="442.20" x2="203.50" y2="442.20" stroke="#444" stroke-width="0.8"/>
<line x1="164.00" y1="441.00" x2="164.00" y2="443.40" stroke="#444" stroke-width="0.8"/>
<line x1="203.50" y1="441.00" x2="203.50" y2="443.40" stroke="#444" stroke-width="0.8"/>
<text x="184.35" y="429.70" font-size="6.0" text-anchor="middle" fill="#333" stroke="#333" stroke-width="0.12">Caspase-3</text>
<text x="184.35" y="436.90" font-size="6.0" text-anchor="middle" fill="#333" stroke="#333" stroke-width="0.12">33.3</text>
<text x="273.75" y="403.40" font-size="8.3" text-anchor="middle" fill="#111" stroke="#111" stroke-width="0.12">RSL3</text>
<path d="M251.30,485.20 L252.00,475.00 L252.50,464.60 L253.30,450.80 L254.20,443.00 L255.20,439.20 L256.20,442.00 L257.10,446.20 L258.00,452.00 L258.80,457.70 L260.00,464.00 L261.20,469.20 L262.50,474.50 L264.00,478.50 L266.30,480.80 L269.20,480.80 L273.80,483.10 L279.60,484.80 L284.20,485.20 Z" fill="#e98a80" stroke="#b04040" stroke-width="0.75" stroke-linejoin="round"/>
<rect x="233.90" y="408.60" width="77.30" height="76.60" fill="none" stroke="#231f20" stroke-width="1.15" />
<line x1="231.50" y1="485.20" x2="233.90" y2="485.20" stroke="#231f20" stroke-width="0.8"/>
<text x="228.90" y="487.30" font-size="6.1" text-anchor="end" fill="#333" stroke="#333" stroke-width="0.12">0</text>
<line x1="231.50" y1="459.67" x2="233.90" y2="459.67" stroke="#231f20" stroke-width="0.8"/>
<text x="228.90" y="461.77" font-size="6.1" text-anchor="end" fill="#333" stroke="#333" stroke-width="0.12">200</text>
<line x1="231.50" y1="434.13" x2="233.90" y2="434.13" stroke="#231f20" stroke-width="0.8"/>
<text x="228.90" y="436.23" font-size="6.1" text-anchor="end" fill="#333" stroke="#333" stroke-width="0.12">400</text>
<line x1="231.50" y1="408.60" x2="233.90" y2="408.60" stroke="#231f20" stroke-width="0.8"/>
<text x="228.90" y="410.70" font-size="6.1" text-anchor="end" fill="#333" stroke="#333" stroke-width="0.12">600</text>
<line x1="232.60" y1="478.82" x2="233.90" y2="478.82" stroke="#231f20" stroke-width="0.7"/>
<line x1="232.60" y1="472.43" x2="233.90" y2="472.43" stroke="#231f20" stroke-width="0.7"/>
<line x1="232.60" y1="466.05" x2="233.90" y2="466.05" stroke="#231f20" stroke-width="0.7"/>
<line x1="232.60" y1="459.67" x2="233.90" y2="459.67" stroke="#231f20" stroke-width="0.7"/>
<line x1="232.60" y1="453.28" x2="233.90" y2="453.28" stroke="#231f20" stroke-width="0.7"/>
<line x1="232.60" y1="446.90" x2="233.90" y2="446.90" stroke="#231f20" stroke-width="0.7"/>
<line x1="232.60" y1="440.52" x2="233.90" y2="440.52" stroke="#231f20" stroke-width="0.7"/>
<line x1="232.60" y1="434.13" x2="233.90" y2="434.13" stroke="#231f20" stroke-width="0.7"/>
<line x1="232.60" y1="427.75" x2="233.90" y2="427.75" stroke="#231f20" stroke-width="0.7"/>
<line x1="232.60" y1="421.37" x2="233.90" y2="421.37" stroke="#231f20" stroke-width="0.7"/>
<line x1="232.60" y1="414.98" x2="233.90" y2="414.98" stroke="#231f20" stroke-width="0.7"/>
<line x1="239.70" y1="485.20" x2="239.70" y2="487.40" stroke="#231f20" stroke-width="0.8"/>
<line x1="252.70" y1="485.20" x2="252.70" y2="487.40" stroke="#231f20" stroke-width="0.8"/>
<line x1="264.70" y1="485.20" x2="264.70" y2="487.40" stroke="#231f20" stroke-width="0.8"/>
<line x1="285.50" y1="485.20" x2="285.50" y2="487.40" stroke="#231f20" stroke-width="0.8"/>
<line x1="304.30" y1="485.20" x2="304.30" y2="487.40" stroke="#231f20" stroke-width="0.8"/>
<line x1="270.96" y1="485.20" x2="270.96" y2="486.40" stroke="#231f20" stroke-width="0.6"/>
<line x1="274.62" y1="485.20" x2="274.62" y2="486.40" stroke="#231f20" stroke-width="0.6"/>
<line x1="277.22" y1="485.20" x2="277.22" y2="486.40" stroke="#231f20" stroke-width="0.6"/>
<line x1="279.24" y1="485.20" x2="279.24" y2="486.40" stroke="#231f20" stroke-width="0.6"/>
<line x1="280.89" y1="485.20" x2="280.89" y2="486.40" stroke="#231f20" stroke-width="0.6"/>
<line x1="282.28" y1="485.20" x2="282.28" y2="486.40" stroke="#231f20" stroke-width="0.6"/>
<line x1="283.48" y1="485.20" x2="283.48" y2="486.40" stroke="#231f20" stroke-width="0.6"/>
<line x1="284.55" y1="485.20" x2="284.55" y2="486.40" stroke="#231f20" stroke-width="0.6"/>
<line x1="291.16" y1="485.20" x2="291.16" y2="486.40" stroke="#231f20" stroke-width="0.6"/>
<line x1="294.47" y1="485.20" x2="294.47" y2="486.40" stroke="#231f20" stroke-width="0.6"/>
<line x1="296.82" y1="485.20" x2="296.82" y2="486.40" stroke="#231f20" stroke-width="0.6"/>
<line x1="298.64" y1="485.20" x2="298.64" y2="486.40" stroke="#231f20" stroke-width="0.6"/>
<line x1="300.13" y1="485.20" x2="300.13" y2="486.40" stroke="#231f20" stroke-width="0.6"/>
<line x1="301.39" y1="485.20" x2="301.39" y2="486.40" stroke="#231f20" stroke-width="0.6"/>
<line x1="302.48" y1="485.20" x2="302.48" y2="486.40" stroke="#231f20" stroke-width="0.6"/>
<line x1="303.44" y1="485.20" x2="303.44" y2="486.40" stroke="#231f20" stroke-width="0.6"/>
<line x1="256.66" y1="485.20" x2="256.66" y2="486.40" stroke="#231f20" stroke-width="0.6"/>
<line x1="260.62" y1="485.20" x2="260.62" y2="486.40" stroke="#231f20" stroke-width="0.6"/>
<line x1="243.99" y1="485.20" x2="243.99" y2="486.40" stroke="#231f20" stroke-width="0.6"/>
<line x1="248.28" y1="485.20" x2="248.28" y2="486.40" stroke="#231f20" stroke-width="0.6"/>
<rect x="249.80" y="484.80" width="3.20" height="2.70" fill="#111" />
<text x="238.50" y="495.50" font-size="6.0" text-anchor="middle" fill="#333">−10<tspan font-size="3.6" dy="-2.1">3</tspan></text>
<text x="252.70" y="495.50" font-size="6.0" text-anchor="middle" fill="#333" stroke="#333" stroke-width="0.12">0</text>
<text x="264.30" y="495.50" font-size="6.0" text-anchor="middle" fill="#333">10<tspan font-size="3.6" dy="-2.1">3</tspan></text>
<text x="285.10" y="495.50" font-size="6.0" text-anchor="middle" fill="#333">10<tspan font-size="3.6" dy="-2.1">4</tspan></text>
<text x="303.90" y="495.50" font-size="6.0" text-anchor="middle" fill="#333">10<tspan font-size="3.6" dy="-2.1">5</tspan></text>
<text x="273.85" y="507.60" font-size="7.8" text-anchor="middle" fill="#2a2a2a" textLength="16.7" lengthAdjust="spacingAndGlyphs" style="stroke:#2a2a2a;stroke-width:0.25px">FITC-A</text>
<line x1="263.20" y1="442.20" x2="303.30" y2="442.20" stroke="#444" stroke-width="0.8"/>
<line x1="263.20" y1="441.00" x2="263.20" y2="443.40" stroke="#444" stroke-width="0.8"/>
<line x1="303.30" y1="441.00" x2="303.30" y2="443.40" stroke="#444" stroke-width="0.8"/>
<text x="283.85" y="429.70" font-size="6.0" text-anchor="middle" fill="#333" stroke="#333" stroke-width="0.12">Caspase-3</text>
<text x="283.85" y="436.90" font-size="6.0" text-anchor="middle" fill="#333" stroke="#333" stroke-width="0.12">14.5</text>
<text x="373.75" y="403.40" font-size="8.3" text-anchor="middle" fill="#111" stroke="#111" stroke-width="0.12">BTZ+RSL3</text>
<path d="M352.50,485.20 L355.40,480.80 L358.30,473.80 L361.20,466.90 L363.00,462.50 L364.40,460.90 L365.80,461.80 L366.90,463.50 L368.00,467.00 L369.20,471.50 L370.30,475.50 L371.50,478.50 L374.40,481.00 L377.90,481.90 L380.80,481.00 L383.70,479.40 L385.40,479.80 L387.70,479.20 L389.10,480.20 L390.90,483.70 L393.50,484.80 L395.80,485.20 Z" fill="#e98a80" stroke="#b04040" stroke-width="0.75" stroke-linejoin="round"/>
<rect x="333.90" y="408.60" width="77.30" height="76.60" fill="none" stroke="#231f20" stroke-width="1.15" />
<line x1="331.50" y1="485.20" x2="333.90" y2="485.20" stroke="#231f20" stroke-width="0.8"/>
<text x="328.90" y="487.30" font-size="6.1" text-anchor="end" fill="#333" stroke="#333" stroke-width="0.12">0</text>
<line x1="331.50" y1="459.67" x2="333.90" y2="459.67" stroke="#231f20" stroke-width="0.8"/>
<text x="328.90" y="461.77" font-size="6.1" text-anchor="end" fill="#333" stroke="#333" stroke-width="0.12">200</text>
<line x1="331.50" y1="434.13" x2="333.90" y2="434.13" stroke="#231f20" stroke-width="0.8"/>
<text x="328.90" y="436.23" font-size="6.1" text-anchor="end" fill="#333" stroke="#333" stroke-width="0.12">400</text>
<line x1="331.50" y1="408.60" x2="333.90" y2="408.60" stroke="#231f20" stroke-width="0.8"/>
<text x="328.90" y="410.70" font-size="6.1" text-anchor="end" fill="#333" stroke="#333" stroke-width="0.12">600</text>
<line x1="332.60" y1="478.82" x2="333.90" y2="478.82" stroke="#231f20" stroke-width="0.7"/>
<line x1="332.60" y1="472.43" x2="333.90" y2="472.43" stroke="#231f20" stroke-width="0.7"/>
<line x1="332.60" y1="466.05" x2="333.90" y2="466.05" stroke="#231f20" stroke-width="0.7"/>
<line x1="332.60" y1="459.67" x2="333.90" y2="459.67" stroke="#231f20" stroke-width="0.7"/>
<line x1="332.60" y1="453.28" x2="333.90" y2="453.28" stroke="#231f20" stroke-width="0.7"/>
<line x1="332.60" y1="446.90" x2="333.90" y2="446.90" stroke="#231f20" stroke-width="0.7"/>
<line x1="332.60" y1="440.52" x2="333.90" y2="440.52" stroke="#231f20" stroke-width="0.7"/>
<line x1="332.60" y1="434.13" x2="333.90" y2="434.13" stroke="#231f20" stroke-width="0.7"/>
<line x1="332.60" y1="427.75" x2="333.90" y2="427.75" stroke="#231f20" stroke-width="0.7"/>
<line x1="332.60" y1="421.37" x2="333.90" y2="421.37" stroke="#231f20" stroke-width="0.7"/>
<line x1="332.60" y1="414.98" x2="333.90" y2="414.98" stroke="#231f20" stroke-width="0.7"/>
<line x1="339.70" y1="485.20" x2="339.70" y2="487.40" stroke="#231f20" stroke-width="0.8"/>
<line x1="352.70" y1="485.20" x2="352.70" y2="487.40" stroke="#231f20" stroke-width="0.8"/>
<line x1="364.70" y1="485.20" x2="364.70" y2="487.40" stroke="#231f20" stroke-width="0.8"/>
<line x1="385.50" y1="485.20" x2="385.50" y2="487.40" stroke="#231f20" stroke-width="0.8"/>
<line x1="404.30" y1="485.20" x2="404.30" y2="487.40" stroke="#231f20" stroke-width="0.8"/>
<line x1="370.96" y1="485.20" x2="370.96" y2="486.40" stroke="#231f20" stroke-width="0.6"/>
<line x1="374.62" y1="485.20" x2="374.62" y2="486.40" stroke="#231f20" stroke-width="0.6"/>
<line x1="377.22" y1="485.20" x2="377.22" y2="486.40" stroke="#231f20" stroke-width="0.6"/>
<line x1="379.24" y1="485.20" x2="379.24" y2="486.40" stroke="#231f20" stroke-width="0.6"/>
<line x1="380.89" y1="485.20" x2="380.89" y2="486.40" stroke="#231f20" stroke-width="0.6"/>
<line x1="382.28" y1="485.20" x2="382.28" y2="486.40" stroke="#231f20" stroke-width="0.6"/>
<line x1="383.48" y1="485.20" x2="383.48" y2="486.40" stroke="#231f20" stroke-width="0.6"/>
<line x1="384.55" y1="485.20" x2="384.55" y2="486.40" stroke="#231f20" stroke-width="0.6"/>
<line x1="391.16" y1="485.20" x2="391.16" y2="486.40" stroke="#231f20" stroke-width="0.6"/>
<line x1="394.47" y1="485.20" x2="394.47" y2="486.40" stroke="#231f20" stroke-width="0.6"/>
<line x1="396.82" y1="485.20" x2="396.82" y2="486.40" stroke="#231f20" stroke-width="0.6"/>
<line x1="398.64" y1="485.20" x2="398.64" y2="486.40" stroke="#231f20" stroke-width="0.6"/>
<line x1="400.13" y1="485.20" x2="400.13" y2="486.40" stroke="#231f20" stroke-width="0.6"/>
<line x1="401.39" y1="485.20" x2="401.39" y2="486.40" stroke="#231f20" stroke-width="0.6"/>
<line x1="402.48" y1="485.20" x2="402.48" y2="486.40" stroke="#231f20" stroke-width="0.6"/>
<line x1="403.44" y1="485.20" x2="403.44" y2="486.40" stroke="#231f20" stroke-width="0.6"/>
<line x1="356.66" y1="485.20" x2="356.66" y2="486.40" stroke="#231f20" stroke-width="0.6"/>
<line x1="360.62" y1="485.20" x2="360.62" y2="486.40" stroke="#231f20" stroke-width="0.6"/>
<line x1="343.99" y1="485.20" x2="343.99" y2="486.40" stroke="#231f20" stroke-width="0.6"/>
<line x1="348.28" y1="485.20" x2="348.28" y2="486.40" stroke="#231f20" stroke-width="0.6"/>
<rect x="349.80" y="484.80" width="3.20" height="2.70" fill="#111" />
<text x="338.50" y="495.50" font-size="6.0" text-anchor="middle" fill="#333">−10<tspan font-size="3.6" dy="-2.1">3</tspan></text>
<text x="352.70" y="495.50" font-size="6.0" text-anchor="middle" fill="#333" stroke="#333" stroke-width="0.12">0</text>
<text x="364.30" y="495.50" font-size="6.0" text-anchor="middle" fill="#333">10<tspan font-size="3.6" dy="-2.1">3</tspan></text>
<text x="385.10" y="495.50" font-size="6.0" text-anchor="middle" fill="#333">10<tspan font-size="3.6" dy="-2.1">4</tspan></text>
<text x="403.90" y="495.50" font-size="6.0" text-anchor="middle" fill="#333">10<tspan font-size="3.6" dy="-2.1">5</tspan></text>
<text x="373.85" y="507.60" font-size="7.8" text-anchor="middle" fill="#2a2a2a" textLength="16.7" lengthAdjust="spacingAndGlyphs" style="stroke:#2a2a2a;stroke-width:0.25px">FITC-A</text>
<line x1="363.50" y1="442.20" x2="403.50" y2="442.20" stroke="#444" stroke-width="0.8"/>
<line x1="363.50" y1="441.00" x2="363.50" y2="443.40" stroke="#444" stroke-width="0.8"/>
<line x1="403.50" y1="441.00" x2="403.50" y2="443.40" stroke="#444" stroke-width="0.8"/>
<text x="384.10" y="429.70" font-size="6.0" text-anchor="middle" fill="#333" stroke="#333" stroke-width="0.12">Caspase-3</text>
<text x="384.10" y="436.90" font-size="6.0" text-anchor="middle" fill="#333" stroke="#333" stroke-width="0.12">66.7</text>
<text x="13.20" y="447.00" font-size="8.8" text-anchor="middle" fill="#2a2a2a" transform="rotate(-90 13.20 447.00)" textLength="13.8" lengthAdjust="spacingAndGlyphs" style="stroke:#2a2a2a;stroke-width:0.25px">Count</text>
<text x="72.70" y="535.60" font-size="8.3" text-anchor="middle" fill="#111" stroke="#111" stroke-width="0.12">DMSO</text>
<path d="M52.10,615.10 L53.00,591.00 L53.60,568.00 L54.00,558.00 L54.40,552.10 L55.00,558.00 L55.90,568.00 L56.50,580.00 L57.10,591.00 L57.80,600.00 L58.60,607.00 L59.50,610.00 L60.50,611.70 L62.00,613.50 L64.00,615.10 Z" fill="#e98a80" stroke="#b04040" stroke-width="0.75" stroke-linejoin="round"/>
<rect x="33.70" y="540.80" width="75.60" height="74.30" fill="none" stroke="#231f20" stroke-width="1.15" />
<line x1="31.30" y1="615.10" x2="33.70" y2="615.10" stroke="#231f20" stroke-width="0.8"/>
<text x="28.70" y="617.20" font-size="6.1" text-anchor="end" fill="#333" stroke="#333" stroke-width="0.12">0</text>
<line x1="31.30" y1="600.24" x2="33.70" y2="600.24" stroke="#231f20" stroke-width="0.8"/>
<text x="28.70" y="602.34" font-size="6.1" text-anchor="end" fill="#333" stroke="#333" stroke-width="0.12">200</text>
<line x1="31.30" y1="585.38" x2="33.70" y2="585.38" stroke="#231f20" stroke-width="0.8"/>
<text x="28.70" y="587.48" font-size="6.1" text-anchor="end" fill="#333" stroke="#333" stroke-width="0.12">400</text>
<line x1="31.30" y1="570.52" x2="33.70" y2="570.52" stroke="#231f20" stroke-width="0.8"/>
<text x="28.70" y="572.62" font-size="6.1" text-anchor="end" fill="#333" stroke="#333" stroke-width="0.12">600</text>
<line x1="31.30" y1="555.66" x2="33.70" y2="555.66" stroke="#231f20" stroke-width="0.8"/>
<text x="28.70" y="557.76" font-size="6.1" text-anchor="end" fill="#333" stroke="#333" stroke-width="0.12">800</text>
<line x1="31.30" y1="540.80" x2="33.70" y2="540.80" stroke="#231f20" stroke-width="0.8"/>
<text x="28.70" y="542.90" font-size="6.1" text-anchor="end" fill="#333" stroke="#333" stroke-width="0.12">1.0K</text>
<line x1="32.40" y1="611.38" x2="33.70" y2="611.38" stroke="#231f20" stroke-width="0.7"/>
<line x1="32.40" y1="607.67" x2="33.70" y2="607.67" stroke="#231f20" stroke-width="0.7"/>
<line x1="32.40" y1="603.95" x2="33.70" y2="603.95" stroke="#231f20" stroke-width="0.7"/>
<line x1="32.40" y1="600.24" x2="33.70" y2="600.24" stroke="#231f20" stroke-width="0.7"/>
<line x1="32.40" y1="596.52" x2="33.70" y2="596.52" stroke="#231f20" stroke-width="0.7"/>
<line x1="32.40" y1="592.81" x2="33.70" y2="592.81" stroke="#231f20" stroke-width="0.7"/>
<line x1="32.40" y1="589.09" x2="33.70" y2="589.09" stroke="#231f20" stroke-width="0.7"/>
<line x1="32.40" y1="585.38" x2="33.70" y2="585.38" stroke="#231f20" stroke-width="0.7"/>
<line x1="32.40" y1="581.66" x2="33.70" y2="581.66" stroke="#231f20" stroke-width="0.7"/>
<line x1="32.40" y1="577.95" x2="33.70" y2="577.95" stroke="#231f20" stroke-width="0.7"/>
<line x1="32.40" y1="574.23" x2="33.70" y2="574.23" stroke="#231f20" stroke-width="0.7"/>
<line x1="32.40" y1="570.52" x2="33.70" y2="570.52" stroke="#231f20" stroke-width="0.7"/>
<line x1="32.40" y1="566.80" x2="33.70" y2="566.80" stroke="#231f20" stroke-width="0.7"/>
<line x1="32.40" y1="563.09" x2="33.70" y2="563.09" stroke="#231f20" stroke-width="0.7"/>
<line x1="32.40" y1="559.37" x2="33.70" y2="559.37" stroke="#231f20" stroke-width="0.7"/>
<line x1="32.40" y1="555.66" x2="33.70" y2="555.66" stroke="#231f20" stroke-width="0.7"/>
<line x1="32.40" y1="551.94" x2="33.70" y2="551.94" stroke="#231f20" stroke-width="0.7"/>
<line x1="32.40" y1="548.23" x2="33.70" y2="548.23" stroke="#231f20" stroke-width="0.7"/>
<line x1="32.40" y1="544.51" x2="33.70" y2="544.51" stroke="#231f20" stroke-width="0.7"/>
<line x1="39.40" y1="615.10" x2="39.40" y2="617.30" stroke="#231f20" stroke-width="0.8"/>
<line x1="52.10" y1="615.10" x2="52.10" y2="617.30" stroke="#231f20" stroke-width="0.8"/>
<line x1="63.80" y1="615.10" x2="63.80" y2="617.30" stroke="#231f20" stroke-width="0.8"/>
<line x1="84.20" y1="615.10" x2="84.20" y2="617.30" stroke="#231f20" stroke-width="0.8"/>
<line x1="102.60" y1="615.10" x2="102.60" y2="617.30" stroke="#231f20" stroke-width="0.8"/>
<line x1="69.94" y1="615.10" x2="69.94" y2="616.30" stroke="#231f20" stroke-width="0.6"/>
<line x1="73.53" y1="615.10" x2="73.53" y2="616.30" stroke="#231f20" stroke-width="0.6"/>
<line x1="76.08" y1="615.10" x2="76.08" y2="616.30" stroke="#231f20" stroke-width="0.6"/>
<line x1="78.06" y1="615.10" x2="78.06" y2="616.30" stroke="#231f20" stroke-width="0.6"/>
<line x1="79.67" y1="615.10" x2="79.67" y2="616.30" stroke="#231f20" stroke-width="0.6"/>
<line x1="81.04" y1="615.10" x2="81.04" y2="616.30" stroke="#231f20" stroke-width="0.6"/>
<line x1="82.22" y1="615.10" x2="82.22" y2="616.30" stroke="#231f20" stroke-width="0.6"/>
<line x1="83.27" y1="615.10" x2="83.27" y2="616.30" stroke="#231f20" stroke-width="0.6"/>
<line x1="89.74" y1="615.10" x2="89.74" y2="616.30" stroke="#231f20" stroke-width="0.6"/>
<line x1="92.98" y1="615.10" x2="92.98" y2="616.30" stroke="#231f20" stroke-width="0.6"/>
<line x1="95.28" y1="615.10" x2="95.28" y2="616.30" stroke="#231f20" stroke-width="0.6"/>
<line x1="97.06" y1="615.10" x2="97.06" y2="616.30" stroke="#231f20" stroke-width="0.6"/>
<line x1="98.52" y1="615.10" x2="98.52" y2="616.30" stroke="#231f20" stroke-width="0.6"/>
<line x1="99.75" y1="615.10" x2="99.75" y2="616.30" stroke="#231f20" stroke-width="0.6"/>
<line x1="100.82" y1="615.10" x2="100.82" y2="616.30" stroke="#231f20" stroke-width="0.6"/>
<line x1="101.76" y1="615.10" x2="101.76" y2="616.30" stroke="#231f20" stroke-width="0.6"/>
<line x1="55.96" y1="615.10" x2="55.96" y2="616.30" stroke="#231f20" stroke-width="0.6"/>
<line x1="59.82" y1="615.10" x2="59.82" y2="616.30" stroke="#231f20" stroke-width="0.6"/>
<line x1="43.59" y1="615.10" x2="43.59" y2="616.30" stroke="#231f20" stroke-width="0.6"/>
<line x1="47.78" y1="615.10" x2="47.78" y2="616.30" stroke="#231f20" stroke-width="0.6"/>
<rect x="49.20" y="614.70" width="3.20" height="2.70" fill="#111" />
<text x="38.20" y="625.40" font-size="6.0" text-anchor="middle" fill="#333">−10<tspan font-size="3.6" dy="-2.1">3</tspan></text>
<text x="52.10" y="625.40" font-size="6.0" text-anchor="middle" fill="#333" stroke="#333" stroke-width="0.12">0</text>
<text x="63.40" y="625.40" font-size="6.0" text-anchor="middle" fill="#333">10<tspan font-size="3.6" dy="-2.1">3</tspan></text>
<text x="83.80" y="625.40" font-size="6.0" text-anchor="middle" fill="#333">10<tspan font-size="3.6" dy="-2.1">4</tspan></text>
<text x="102.20" y="625.40" font-size="6.0" text-anchor="middle" fill="#333">10<tspan font-size="3.6" dy="-2.1">5</tspan></text>
<text x="72.80" y="637.50" font-size="7.8" text-anchor="middle" fill="#2a2a2a" textLength="16.7" lengthAdjust="spacingAndGlyphs" style="stroke:#2a2a2a;stroke-width:0.25px">FITC-A</text>
<line x1="63.40" y1="576.70" x2="92.50" y2="576.70" stroke="#444" stroke-width="0.8"/>
<line x1="63.40" y1="575.50" x2="63.40" y2="577.90" stroke="#444" stroke-width="0.8"/>
<line x1="92.50" y1="575.50" x2="92.50" y2="577.90" stroke="#444" stroke-width="0.8"/>
<text x="78.55" y="564.20" font-size="6.0" text-anchor="middle" fill="#333" stroke="#333" stroke-width="0.12">Lipid ROS</text>
<text x="78.55" y="571.40" font-size="6.0" text-anchor="middle" fill="#333" stroke="#333" stroke-width="0.12">0.90</text>
<text x="173.40" y="535.60" font-size="8.3" text-anchor="middle" fill="#111" stroke="#111" stroke-width="0.12">BTZ</text>
<path d="M151.20,615.10 L151.90,600.00 L152.70,582.20 L153.60,568.00 L154.60,559.90 L155.60,568.00 L156.60,582.00 L157.20,592.00 L157.90,601.40 L158.60,606.00 L159.50,610.00 L160.80,612.30 L162.10,613.50 L165.90,615.10 Z" fill="#e98a80" stroke="#b04040" stroke-width="0.75" stroke-linejoin="round"/>
<rect x="134.40" y="540.80" width="75.60" height="74.30" fill="none" stroke="#231f20" stroke-width="1.15" />
<line x1="132.00" y1="615.10" x2="134.40" y2="615.10" stroke="#231f20" stroke-width="0.8"/>
<text x="129.40" y="617.20" font-size="6.1" text-anchor="end" fill="#333" stroke="#333" stroke-width="0.12">0</text>
<line x1="132.00" y1="600.24" x2="134.40" y2="600.24" stroke="#231f20" stroke-width="0.8"/>
<text x="129.40" y="602.34" font-size="6.1" text-anchor="end" fill="#333" stroke="#333" stroke-width="0.12">200</text>
<line x1="132.00" y1="585.38" x2="134.40" y2="585.38" stroke="#231f20" stroke-width="0.8"/>
<text x="129.40" y="587.48" font-size="6.1" text-anchor="end" fill="#333" stroke="#333" stroke-width="0.12">400</text>
<line x1="132.00" y1="570.52" x2="134.40" y2="570.52" stroke="#231f20" stroke-width="0.8"/>
<text x="129.40" y="572.62" font-size="6.1" text-anchor="end" fill="#333" stroke="#333" stroke-width="0.12">600</text>
<line x1="132.00" y1="555.66" x2="134.40" y2="555.66" stroke="#231f20" stroke-width="0.8"/>
<text x="129.40" y="557.76" font-size="6.1" text-anchor="end" fill="#333" stroke="#333" stroke-width="0.12">800</text>
<line x1="132.00" y1="540.80" x2="134.40" y2="540.80" stroke="#231f20" stroke-width="0.8"/>
<text x="129.40" y="542.90" font-size="6.1" text-anchor="end" fill="#333" stroke="#333" stroke-width="0.12">1.0K</text>
<line x1="133.10" y1="611.38" x2="134.40" y2="611.38" stroke="#231f20" stroke-width="0.7"/>
<line x1="133.10" y1="607.67" x2="134.40" y2="607.67" stroke="#231f20" stroke-width="0.7"/>
<line x1="133.10" y1="603.95" x2="134.40" y2="603.95" stroke="#231f20" stroke-width="0.7"/>
<line x1="133.10" y1="600.24" x2="134.40" y2="600.24" stroke="#231f20" stroke-width="0.7"/>
<line x1="133.10" y1="596.52" x2="134.40" y2="596.52" stroke="#231f20" stroke-width="0.7"/>
<line x1="133.10" y1="592.81" x2="134.40" y2="592.81" stroke="#231f20" stroke-width="0.7"/>
<line x1="133.10" y1="589.09" x2="134.40" y2="589.09" stroke="#231f20" stroke-width="0.7"/>
<line x1="133.10" y1="585.38" x2="134.40" y2="585.38" stroke="#231f20" stroke-width="0.7"/>
<line x1="133.10" y1="581.66" x2="134.40" y2="581.66" stroke="#231f20" stroke-width="0.7"/>
<line x1="133.10" y1="577.95" x2="134.40" y2="577.95" stroke="#231f20" stroke-width="0.7"/>
<line x1="133.10" y1="574.23" x2="134.40" y2="574.23" stroke="#231f20" stroke-width="0.7"/>
<line x1="133.10" y1="570.52" x2="134.40" y2="570.52" stroke="#231f20" stroke-width="0.7"/>
<line x1="133.10" y1="566.80" x2="134.40" y2="566.80" stroke="#231f20" stroke-width="0.7"/>
<line x1="133.10" y1="563.09" x2="134.40" y2="563.09" stroke="#231f20" stroke-width="0.7"/>
<line x1="133.10" y1="559.37" x2="134.40" y2="559.37" stroke="#231f20" stroke-width="0.7"/>
<line x1="133.10" y1="555.66" x2="134.40" y2="555.66" stroke="#231f20" stroke-width="0.7"/>
<line x1="133.10" y1="551.94" x2="134.40" y2="551.94" stroke="#231f20" stroke-width="0.7"/>
<line x1="133.10" y1="548.23" x2="134.40" y2="548.23" stroke="#231f20" stroke-width="0.7"/>
<line x1="133.10" y1="544.51" x2="134.40" y2="544.51" stroke="#231f20" stroke-width="0.7"/>
<line x1="140.10" y1="615.10" x2="140.10" y2="617.30" stroke="#231f20" stroke-width="0.8"/>
<line x1="152.80" y1="615.10" x2="152.80" y2="617.30" stroke="#231f20" stroke-width="0.8"/>
<line x1="164.50" y1="615.10" x2="164.50" y2="617.30" stroke="#231f20" stroke-width="0.8"/>
<line x1="184.90" y1="615.10" x2="184.90" y2="617.30" stroke="#231f20" stroke-width="0.8"/>
<line x1="203.30" y1="615.10" x2="203.30" y2="617.30" stroke="#231f20" stroke-width="0.8"/>
<line x1="170.64" y1="615.10" x2="170.64" y2="616.30" stroke="#231f20" stroke-width="0.6"/>
<line x1="174.23" y1="615.10" x2="174.23" y2="616.30" stroke="#231f20" stroke-width="0.6"/>
<line x1="176.78" y1="615.10" x2="176.78" y2="616.30" stroke="#231f20" stroke-width="0.6"/>
<line x1="178.76" y1="615.10" x2="178.76" y2="616.30" stroke="#231f20" stroke-width="0.6"/>
<line x1="180.37" y1="615.10" x2="180.37" y2="616.30" stroke="#231f20" stroke-width="0.6"/>
<line x1="181.74" y1="615.10" x2="181.74" y2="616.30" stroke="#231f20" stroke-width="0.6"/>
<line x1="182.92" y1="615.10" x2="182.92" y2="616.30" stroke="#231f20" stroke-width="0.6"/>
<line x1="183.97" y1="615.10" x2="183.97" y2="616.30" stroke="#231f20" stroke-width="0.6"/>
<line x1="190.44" y1="615.10" x2="190.44" y2="616.30" stroke="#231f20" stroke-width="0.6"/>
<line x1="193.68" y1="615.10" x2="193.68" y2="616.30" stroke="#231f20" stroke-width="0.6"/>
<line x1="195.98" y1="615.10" x2="195.98" y2="616.30" stroke="#231f20" stroke-width="0.6"/>
<line x1="197.76" y1="615.10" x2="197.76" y2="616.30" stroke="#231f20" stroke-width="0.6"/>
<line x1="199.22" y1="615.10" x2="199.22" y2="616.30" stroke="#231f20" stroke-width="0.6"/>
<line x1="200.45" y1="615.10" x2="200.45" y2="616.30" stroke="#231f20" stroke-width="0.6"/>
<line x1="201.52" y1="615.10" x2="201.52" y2="616.30" stroke="#231f20" stroke-width="0.6"/>
<line x1="202.46" y1="615.10" x2="202.46" y2="616.30" stroke="#231f20" stroke-width="0.6"/>
<line x1="156.66" y1="615.10" x2="156.66" y2="616.30" stroke="#231f20" stroke-width="0.6"/>
<line x1="160.52" y1="615.10" x2="160.52" y2="616.30" stroke="#231f20" stroke-width="0.6"/>
<line x1="144.29" y1="615.10" x2="144.29" y2="616.30" stroke="#231f20" stroke-width="0.6"/>
<line x1="148.48" y1="615.10" x2="148.48" y2="616.30" stroke="#231f20" stroke-width="0.6"/>
<rect x="149.90" y="614.70" width="3.20" height="2.70" fill="#111" />
<text x="138.90" y="625.40" font-size="6.0" text-anchor="middle" fill="#333">−10<tspan font-size="3.6" dy="-2.1">3</tspan></text>
<text x="152.80" y="625.40" font-size="6.0" text-anchor="middle" fill="#333" stroke="#333" stroke-width="0.12">0</text>
<text x="164.10" y="625.40" font-size="6.0" text-anchor="middle" fill="#333">10<tspan font-size="3.6" dy="-2.1">3</tspan></text>
<text x="184.50" y="625.40" font-size="6.0" text-anchor="middle" fill="#333">10<tspan font-size="3.6" dy="-2.1">4</tspan></text>
<text x="202.90" y="625.40" font-size="6.0" text-anchor="middle" fill="#333">10<tspan font-size="3.6" dy="-2.1">5</tspan></text>
<text x="173.50" y="637.50" font-size="7.8" text-anchor="middle" fill="#2a2a2a" textLength="16.7" lengthAdjust="spacingAndGlyphs" style="stroke:#2a2a2a;stroke-width:0.25px">FITC-A</text>
<line x1="163.20" y1="576.70" x2="192.40" y2="576.70" stroke="#444" stroke-width="0.8"/>
<line x1="163.20" y1="575.50" x2="163.20" y2="577.90" stroke="#444" stroke-width="0.8"/>
<line x1="192.40" y1="575.50" x2="192.40" y2="577.90" stroke="#444" stroke-width="0.8"/>
<text x="178.40" y="564.20" font-size="6.0" text-anchor="middle" fill="#333" stroke="#333" stroke-width="0.12">Lipid ROS</text>
<text x="178.40" y="571.40" font-size="6.0" text-anchor="middle" fill="#333" stroke="#333" stroke-width="0.12">1.18</text>
<text x="273.60" y="535.60" font-size="8.3" text-anchor="middle" fill="#111" stroke="#111" stroke-width="0.12">RSL3</text>
<path d="M251.20,615.10 L251.90,604.20 L253.50,603.50 L256.20,601.90 L257.70,603.50 L260.00,606.20 L262.30,605.80 L264.60,604.60 L266.20,605.00 L268.10,608.10 L270.40,611.20 L272.30,613.10 L275.00,614.20 L277.30,615.10 Z" fill="#e98a80" stroke="#b04040" stroke-width="0.75" stroke-linejoin="round"/>
<rect x="234.60" y="540.80" width="75.60" height="74.30" fill="none" stroke="#231f20" stroke-width="1.15" />
<line x1="232.20" y1="615.10" x2="234.60" y2="615.10" stroke="#231f20" stroke-width="0.8"/>
<text x="229.60" y="617.20" font-size="6.1" text-anchor="end" fill="#333" stroke="#333" stroke-width="0.12">0</text>
<line x1="232.20" y1="600.24" x2="234.60" y2="600.24" stroke="#231f20" stroke-width="0.8"/>
<text x="229.60" y="602.34" font-size="6.1" text-anchor="end" fill="#333" stroke="#333" stroke-width="0.12">200</text>
<line x1="232.20" y1="585.38" x2="234.60" y2="585.38" stroke="#231f20" stroke-width="0.8"/>
<text x="229.60" y="587.48" font-size="6.1" text-anchor="end" fill="#333" stroke="#333" stroke-width="0.12">400</text>
<line x1="232.20" y1="570.52" x2="234.60" y2="570.52" stroke="#231f20" stroke-width="0.8"/>
<text x="229.60" y="572.62" font-size="6.1" text-anchor="end" fill="#333" stroke="#333" stroke-width="0.12">600</text>
<line x1="232.20" y1="555.66" x2="234.60" y2="555.66" stroke="#231f20" stroke-width="0.8"/>
<text x="229.60" y="557.76" font-size="6.1" text-anchor="end" fill="#333" stroke="#333" stroke-width="0.12">800</text>
<line x1="232.20" y1="540.80" x2="234.60" y2="540.80" stroke="#231f20" stroke-width="0.8"/>
<text x="229.60" y="542.90" font-size="6.1" text-anchor="end" fill="#333" stroke="#333" stroke-width="0.12">1.0K</text>
<line x1="233.30" y1="611.38" x2="234.60" y2="611.38" stroke="#231f20" stroke-width="0.7"/>
<line x1="233.30" y1="607.67" x2="234.60" y2="607.67" stroke="#231f20" stroke-width="0.7"/>
<line x1="233.30" y1="603.95" x2="234.60" y2="603.95" stroke="#231f20" stroke-width="0.7"/>
<line x1="233.30" y1="600.24" x2="234.60" y2="600.24" stroke="#231f20" stroke-width="0.7"/>
<line x1="233.30" y1="596.52" x2="234.60" y2="596.52" stroke="#231f20" stroke-width="0.7"/>
<line x1="233.30" y1="592.81" x2="234.60" y2="592.81" stroke="#231f20" stroke-width="0.7"/>
<line x1="233.30" y1="589.09" x2="234.60" y2="589.09" stroke="#231f20" stroke-width="0.7"/>
<line x1="233.30" y1="585.38" x2="234.60" y2="585.38" stroke="#231f20" stroke-width="0.7"/>
<line x1="233.30" y1="581.66" x2="234.60" y2="581.66" stroke="#231f20" stroke-width="0.7"/>
<line x1="233.30" y1="577.95" x2="234.60" y2="577.95" stroke="#231f20" stroke-width="0.7"/>
<line x1="233.30" y1="574.23" x2="234.60" y2="574.23" stroke="#231f20" stroke-width="0.7"/>
<line x1="233.30" y1="570.52" x2="234.60" y2="570.52" stroke="#231f20" stroke-width="0.7"/>
<line x1="233.30" y1="566.80" x2="234.60" y2="566.80" stroke="#231f20" stroke-width="0.7"/>
<line x1="233.30" y1="563.09" x2="234.60" y2="563.09" stroke="#231f20" stroke-width="0.7"/>
<line x1="233.30" y1="559.37" x2="234.60" y2="559.37" stroke="#231f20" stroke-width="0.7"/>
<line x1="233.30" y1="555.66" x2="234.60" y2="555.66" stroke="#231f20" stroke-width="0.7"/>
<line x1="233.30" y1="551.94" x2="234.60" y2="551.94" stroke="#231f20" stroke-width="0.7"/>
<line x1="233.30" y1="548.23" x2="234.60" y2="548.23" stroke="#231f20" stroke-width="0.7"/>
<line x1="233.30" y1="544.51" x2="234.60" y2="544.51" stroke="#231f20" stroke-width="0.7"/>
<line x1="240.30" y1="615.10" x2="240.30" y2="617.30" stroke="#231f20" stroke-width="0.8"/>
<line x1="253.00" y1="615.10" x2="253.00" y2="617.30" stroke="#231f20" stroke-width="0.8"/>
<line x1="264.70" y1="615.10" x2="264.70" y2="617.30" stroke="#231f20" stroke-width="0.8"/>
<line x1="285.10" y1="615.10" x2="285.10" y2="617.30" stroke="#231f20" stroke-width="0.8"/>
<line x1="303.50" y1="615.10" x2="303.50" y2="617.30" stroke="#231f20" stroke-width="0.8"/>
<line x1="270.84" y1="615.10" x2="270.84" y2="616.30" stroke="#231f20" stroke-width="0.6"/>
<line x1="274.43" y1="615.10" x2="274.43" y2="616.30" stroke="#231f20" stroke-width="0.6"/>
<line x1="276.98" y1="615.10" x2="276.98" y2="616.30" stroke="#231f20" stroke-width="0.6"/>
<line x1="278.96" y1="615.10" x2="278.96" y2="616.30" stroke="#231f20" stroke-width="0.6"/>
<line x1="280.57" y1="615.10" x2="280.57" y2="616.30" stroke="#231f20" stroke-width="0.6"/>
<line x1="281.94" y1="615.10" x2="281.94" y2="616.30" stroke="#231f20" stroke-width="0.6"/>
<line x1="283.12" y1="615.10" x2="283.12" y2="616.30" stroke="#231f20" stroke-width="0.6"/>
<line x1="284.17" y1="615.10" x2="284.17" y2="616.30" stroke="#231f20" stroke-width="0.6"/>
<line x1="290.64" y1="615.10" x2="290.64" y2="616.30" stroke="#231f20" stroke-width="0.6"/>
<line x1="293.88" y1="615.10" x2="293.88" y2="616.30" stroke="#231f20" stroke-width="0.6"/>
<line x1="296.18" y1="615.10" x2="296.18" y2="616.30" stroke="#231f20" stroke-width="0.6"/>
<line x1="297.96" y1="615.10" x2="297.96" y2="616.30" stroke="#231f20" stroke-width="0.6"/>
<line x1="299.42" y1="615.10" x2="299.42" y2="616.30" stroke="#231f20" stroke-width="0.6"/>
<line x1="300.65" y1="615.10" x2="300.65" y2="616.30" stroke="#231f20" stroke-width="0.6"/>
<line x1="301.72" y1="615.10" x2="301.72" y2="616.30" stroke="#231f20" stroke-width="0.6"/>
<line x1="302.66" y1="615.10" x2="302.66" y2="616.30" stroke="#231f20" stroke-width="0.6"/>
<line x1="256.86" y1="615.10" x2="256.86" y2="616.30" stroke="#231f20" stroke-width="0.6"/>
<line x1="260.72" y1="615.10" x2="260.72" y2="616.30" stroke="#231f20" stroke-width="0.6"/>
<line x1="244.49" y1="615.10" x2="244.49" y2="616.30" stroke="#231f20" stroke-width="0.6"/>
<line x1="248.68" y1="615.10" x2="248.68" y2="616.30" stroke="#231f20" stroke-width="0.6"/>
<rect x="250.10" y="614.70" width="3.20" height="2.70" fill="#111" />
<text x="239.10" y="625.40" font-size="6.0" text-anchor="middle" fill="#333">−10<tspan font-size="3.6" dy="-2.1">3</tspan></text>
<text x="253.00" y="625.40" font-size="6.0" text-anchor="middle" fill="#333" stroke="#333" stroke-width="0.12">0</text>
<text x="264.30" y="625.40" font-size="6.0" text-anchor="middle" fill="#333">10<tspan font-size="3.6" dy="-2.1">3</tspan></text>
<text x="284.70" y="625.40" font-size="6.0" text-anchor="middle" fill="#333">10<tspan font-size="3.6" dy="-2.1">4</tspan></text>
<text x="303.10" y="625.40" font-size="6.0" text-anchor="middle" fill="#333">10<tspan font-size="3.6" dy="-2.1">5</tspan></text>
<text x="273.70" y="637.50" font-size="7.8" text-anchor="middle" fill="#2a2a2a" textLength="16.7" lengthAdjust="spacingAndGlyphs" style="stroke:#2a2a2a;stroke-width:0.25px">FITC-A</text>
<line x1="263.20" y1="576.70" x2="292.20" y2="576.70" stroke="#444" stroke-width="0.8"/>
<line x1="263.20" y1="575.50" x2="263.20" y2="577.90" stroke="#444" stroke-width="0.8"/>
<line x1="292.20" y1="575.50" x2="292.20" y2="577.90" stroke="#444" stroke-width="0.8"/>
<text x="278.30" y="564.20" font-size="6.0" text-anchor="middle" fill="#333" stroke="#333" stroke-width="0.12">Lipid ROS</text>
<text x="278.30" y="571.40" font-size="6.0" text-anchor="middle" fill="#333" stroke="#333" stroke-width="0.12">35.8</text>
<text x="373.20" y="535.60" font-size="8.3" text-anchor="middle" fill="#111" stroke="#111" stroke-width="0.12">BTZ+RSL3</text>
<path d="M351.20,615.10 L354.20,612.30 L358.10,608.80 L361.20,607.70 L363.50,606.50 L365.40,603.50 L366.50,600.80 L367.70,600.20 L369.20,600.80 L371.20,605.40 L373.50,610.00 L375.80,612.70 L378.80,614.20 L381.90,615.10 Z" fill="#e98a80" stroke="#b04040" stroke-width="0.75" stroke-linejoin="round"/>
<rect x="334.20" y="540.80" width="75.60" height="74.30" fill="none" stroke="#231f20" stroke-width="1.15" />
<line x1="331.80" y1="615.10" x2="334.20" y2="615.10" stroke="#231f20" stroke-width="0.8"/>
<text x="329.20" y="617.20" font-size="6.1" text-anchor="end" fill="#333" stroke="#333" stroke-width="0.12">0</text>
<line x1="331.80" y1="600.24" x2="334.20" y2="600.24" stroke="#231f20" stroke-width="0.8"/>
<text x="329.20" y="602.34" font-size="6.1" text-anchor="end" fill="#333" stroke="#333" stroke-width="0.12">200</text>
<line x1="331.80" y1="585.38" x2="334.20" y2="585.38" stroke="#231f20" stroke-width="0.8"/>
<text x="329.20" y="587.48" font-size="6.1" text-anchor="end" fill="#333" stroke="#333" stroke-width="0.12">400</text>
<line x1="331.80" y1="570.52" x2="334.20" y2="570.52" stroke="#231f20" stroke-width="0.8"/>
<text x="329.20" y="572.62" font-size="6.1" text-anchor="end" fill="#333" stroke="#333" stroke-width="0.12">600</text>
<line x1="331.80" y1="555.66" x2="334.20" y2="555.66" stroke="#231f20" stroke-width="0.8"/>
<text x="329.20" y="557.76" font-size="6.1" text-anchor="end" fill="#333" stroke="#333" stroke-width="0.12">800</text>
<line x1="331.80" y1="540.80" x2="334.20" y2="540.80" stroke="#231f20" stroke-width="0.8"/>
<text x="329.20" y="542.90" font-size="6.1" text-anchor="end" fill="#333" stroke="#333" stroke-width="0.12">1.0K</text>
<line x1="332.90" y1="611.38" x2="334.20" y2="611.38" stroke="#231f20" stroke-width="0.7"/>
<line x1="332.90" y1="607.67" x2="334.20" y2="607.67" stroke="#231f20" stroke-width="0.7"/>
<line x1="332.90" y1="603.95" x2="334.20" y2="603.95" stroke="#231f20" stroke-width="0.7"/>
<line x1="332.90" y1="600.24" x2="334.20" y2="600.24" stroke="#231f20" stroke-width="0.7"/>
<line x1="332.90" y1="596.52" x2="334.20" y2="596.52" stroke="#231f20" stroke-width="0.7"/>
<line x1="332.90" y1="592.81" x2="334.20" y2="592.81" stroke="#231f20" stroke-width="0.7"/>
<line x1="332.90" y1="589.09" x2="334.20" y2="589.09" stroke="#231f20" stroke-width="0.7"/>
<line x1="332.90" y1="585.38" x2="334.20" y2="585.38" stroke="#231f20" stroke-width="0.7"/>
<line x1="332.90" y1="581.66" x2="334.20" y2="581.66" stroke="#231f20" stroke-width="0.7"/>
<line x1="332.90" y1="577.95" x2="334.20" y2="577.95" stroke="#231f20" stroke-width="0.7"/>
<line x1="332.90" y1="574.23" x2="334.20" y2="574.23" stroke="#231f20" stroke-width="0.7"/>
<line x1="332.90" y1="570.52" x2="334.20" y2="570.52" stroke="#231f20" stroke-width="0.7"/>
<line x1="332.90" y1="566.80" x2="334.20" y2="566.80" stroke="#231f20" stroke-width="0.7"/>
<line x1="332.90" y1="563.09" x2="334.20" y2="563.09" stroke="#231f20" stroke-width="0.7"/>
<line x1="332.90" y1="559.37" x2="334.20" y2="559.37" stroke="#231f20" stroke-width="0.7"/>
<line x1="332.90" y1="555.66" x2="334.20" y2="555.66" stroke="#231f20" stroke-width="0.7"/>
<line x1="332.90" y1="551.94" x2="334.20" y2="551.94" stroke="#231f20" stroke-width="0.7"/>
<line x1="332.90" y1="548.23" x2="334.20" y2="548.23" stroke="#231f20" stroke-width="0.7"/>
<line x1="332.90" y1="544.51" x2="334.20" y2="544.51" stroke="#231f20" stroke-width="0.7"/>
<line x1="339.90" y1="615.10" x2="339.90" y2="617.30" stroke="#231f20" stroke-width="0.8"/>
<line x1="352.60" y1="615.10" x2="352.60" y2="617.30" stroke="#231f20" stroke-width="0.8"/>
<line x1="364.30" y1="615.10" x2="364.30" y2="617.30" stroke="#231f20" stroke-width="0.8"/>
<line x1="384.70" y1="615.10" x2="384.70" y2="617.30" stroke="#231f20" stroke-width="0.8"/>
<line x1="403.10" y1="615.10" x2="403.10" y2="617.30" stroke="#231f20" stroke-width="0.8"/>
<line x1="370.44" y1="615.10" x2="370.44" y2="616.30" stroke="#231f20" stroke-width="0.6"/>
<line x1="374.03" y1="615.10" x2="374.03" y2="616.30" stroke="#231f20" stroke-width="0.6"/>
<line x1="376.58" y1="615.10" x2="376.58" y2="616.30" stroke="#231f20" stroke-width="0.6"/>
<line x1="378.56" y1="615.10" x2="378.56" y2="616.30" stroke="#231f20" stroke-width="0.6"/>
<line x1="380.17" y1="615.10" x2="380.17" y2="616.30" stroke="#231f20" stroke-width="0.6"/>
<line x1="381.54" y1="615.10" x2="381.54" y2="616.30" stroke="#231f20" stroke-width="0.6"/>
<line x1="382.72" y1="615.10" x2="382.72" y2="616.30" stroke="#231f20" stroke-width="0.6"/>
<line x1="383.77" y1="615.10" x2="383.77" y2="616.30" stroke="#231f20" stroke-width="0.6"/>
<line x1="390.24" y1="615.10" x2="390.24" y2="616.30" stroke="#231f20" stroke-width="0.6"/>
<line x1="393.48" y1="615.10" x2="393.48" y2="616.30" stroke="#231f20" stroke-width="0.6"/>
<line x1="395.78" y1="615.10" x2="395.78" y2="616.30" stroke="#231f20" stroke-width="0.6"/>
<line x1="397.56" y1="615.10" x2="397.56" y2="616.30" stroke="#231f20" stroke-width="0.6"/>
<line x1="399.02" y1="615.10" x2="399.02" y2="616.30" stroke="#231f20" stroke-width="0.6"/>
<line x1="400.25" y1="615.10" x2="400.25" y2="616.30" stroke="#231f20" stroke-width="0.6"/>
<line x1="401.32" y1="615.10" x2="401.32" y2="616.30" stroke="#231f20" stroke-width="0.6"/>
<line x1="402.26" y1="615.10" x2="402.26" y2="616.30" stroke="#231f20" stroke-width="0.6"/>
<line x1="356.46" y1="615.10" x2="356.46" y2="616.30" stroke="#231f20" stroke-width="0.6"/>
<line x1="360.32" y1="615.10" x2="360.32" y2="616.30" stroke="#231f20" stroke-width="0.6"/>
<line x1="344.09" y1="615.10" x2="344.09" y2="616.30" stroke="#231f20" stroke-width="0.6"/>
<line x1="348.28" y1="615.10" x2="348.28" y2="616.30" stroke="#231f20" stroke-width="0.6"/>
<rect x="349.70" y="614.70" width="3.20" height="2.70" fill="#111" />
<text x="338.70" y="625.40" font-size="6.0" text-anchor="middle" fill="#333">−10<tspan font-size="3.6" dy="-2.1">3</tspan></text>
<text x="352.60" y="625.40" font-size="6.0" text-anchor="middle" fill="#333" stroke="#333" stroke-width="0.12">0</text>
<text x="363.90" y="625.40" font-size="6.0" text-anchor="middle" fill="#333">10<tspan font-size="3.6" dy="-2.1">3</tspan></text>
<text x="384.30" y="625.40" font-size="6.0" text-anchor="middle" fill="#333">10<tspan font-size="3.6" dy="-2.1">4</tspan></text>
<text x="402.70" y="625.40" font-size="6.0" text-anchor="middle" fill="#333">10<tspan font-size="3.6" dy="-2.1">5</tspan></text>
<text x="373.30" y="637.50" font-size="7.8" text-anchor="middle" fill="#2a2a2a" textLength="16.7" lengthAdjust="spacingAndGlyphs" style="stroke:#2a2a2a;stroke-width:0.25px">FITC-A</text>
<line x1="362.10" y1="576.70" x2="391.70" y2="576.70" stroke="#444" stroke-width="0.8"/>
<line x1="362.10" y1="575.50" x2="362.10" y2="577.90" stroke="#444" stroke-width="0.8"/>
<line x1="391.70" y1="575.50" x2="391.70" y2="577.90" stroke="#444" stroke-width="0.8"/>
<text x="377.50" y="564.20" font-size="6.0" text-anchor="middle" fill="#333" stroke="#333" stroke-width="0.12">Lipid ROS</text>
<text x="377.50" y="571.40" font-size="6.0" text-anchor="middle" fill="#333" stroke="#333" stroke-width="0.12">71.1</text>
<text x="13.40" y="578.00" font-size="8.8" text-anchor="middle" fill="#2a2a2a" transform="rotate(-90 13.40 578.00)" textLength="13.8" lengthAdjust="spacingAndGlyphs" style="stroke:#2a2a2a;stroke-width:0.25px">Count</text>
<text x="479.50" y="404.40" font-size="8.1" text-anchor="middle" fill="#111" stroke="#111" stroke-width="0.12">Caspase-3</text>
<rect x="451.30" y="478.55" width="9.40" height="6.85" fill="#cf1130" />
<line x1="452.60" y1="477.24" x2="459.40" y2="477.24" stroke="#111" stroke-width="0.8"/>
<circle cx="452.80" cy="478.41" r="1.35" fill="#fff" stroke="#111" stroke-width="0.85"/>
<circle cx="456.00" cy="478.14" r="1.35" fill="#fff" stroke="#111" stroke-width="0.85"/>
<circle cx="459.20" cy="478.41" r="1.35" fill="#fff" stroke="#111" stroke-width="0.85"/>
<rect x="466.80" y="464.85" width="9.40" height="20.55" fill="#3aaa3c" />
<line x1="468.10" y1="462.03" x2="474.90" y2="462.03" stroke="#111" stroke-width="0.8"/>
<circle cx="468.30" cy="464.64" r="1.35" fill="#fff" stroke="#111" stroke-width="0.85"/>
<circle cx="471.50" cy="462.93" r="1.35" fill="#fff" stroke="#111" stroke-width="0.85"/>
<circle cx="474.70" cy="464.44" r="1.35" fill="#fff" stroke="#111" stroke-width="0.85"/>
<rect x="482.50" y="475.12" width="9.40" height="10.27" fill="#5e2a84" />
<line x1="483.80" y1="473.40" x2="490.60" y2="473.40" stroke="#111" stroke-width="0.8"/>
<circle cx="484.00" cy="475.40" r="1.35" fill="#fff" stroke="#111" stroke-width="0.85"/>
<circle cx="487.20" cy="474.30" r="1.35" fill="#fff" stroke="#111" stroke-width="0.85"/>
<circle cx="490.40" cy="475.19" r="1.35" fill="#fff" stroke="#111" stroke-width="0.85"/>
<rect x="498.10" y="441.01" width="9.50" height="44.39" fill="#f5921e" />
<line x1="499.45" y1="438.74" x2="506.25" y2="438.74" stroke="#111" stroke-width="0.8"/>
<circle cx="499.65" cy="439.85" r="1.35" fill="#fff" stroke="#111" stroke-width="0.85"/>
<circle cx="502.85" cy="440.74" r="1.35" fill="#fff" stroke="#111" stroke-width="0.85"/>
<circle cx="506.05" cy="439.64" r="1.35" fill="#fff" stroke="#111" stroke-width="0.85"/>
<line x1="445.10" y1="414.40" x2="445.10" y2="485.90" stroke="#231f20" stroke-width="1.2"/>
<line x1="444.60" y1="485.40" x2="513.00" y2="485.40" stroke="#231f20" stroke-width="1.2"/>
<line x1="442.50" y1="485.40" x2="445.10" y2="485.40" stroke="#231f20" stroke-width="0.9"/>
<text x="439.90" y="487.40" font-size="5.8" text-anchor="end" fill="#333" stroke="#333" stroke-width="0.12">0</text>
<line x1="442.50" y1="471.70" x2="445.10" y2="471.70" stroke="#231f20" stroke-width="0.9"/>
<text x="439.90" y="473.70" font-size="5.8" text-anchor="end" fill="#333" stroke="#333" stroke-width="0.12">20</text>
<line x1="442.50" y1="458.00" x2="445.10" y2="458.00" stroke="#231f20" stroke-width="0.9"/>
<text x="439.90" y="460.00" font-size="5.8" text-anchor="end" fill="#333" stroke="#333" stroke-width="0.12">40</text>
<line x1="442.50" y1="444.30" x2="445.10" y2="444.30" stroke="#231f20" stroke-width="0.9"/>
<text x="439.90" y="446.30" font-size="5.8" text-anchor="end" fill="#333" stroke="#333" stroke-width="0.12">60</text>
<line x1="442.50" y1="430.60" x2="445.10" y2="430.60" stroke="#231f20" stroke-width="0.9"/>
<text x="439.90" y="432.60" font-size="5.8" text-anchor="end" fill="#333" stroke="#333" stroke-width="0.12">80</text>
<line x1="442.50" y1="416.90" x2="445.10" y2="416.90" stroke="#231f20" stroke-width="0.9"/>
<text x="439.90" y="418.90" font-size="5.8" text-anchor="end" fill="#333" stroke="#333" stroke-width="0.12">100</text>
<text x="423.90" y="449.90" font-size="6.8" text-anchor="middle" fill="#222" transform="rotate(-90 423.90 449.90)" textLength="24.5" lengthAdjust="spacingAndGlyphs" stroke="#222" stroke-width="0.12">% of cells</text>
<line x1="456.00" y1="485.40" x2="456.00" y2="487.80" stroke="#231f20" stroke-width="0.9"/>
<text x="458.90" y="493.00" font-size="6.3" text-anchor="end" fill="#333" transform="rotate(-45 458.90 493.00)">DMSO</text>
<line x1="471.50" y1="485.40" x2="471.50" y2="487.80" stroke="#231f20" stroke-width="0.9"/>
<text x="474.40" y="493.00" font-size="6.3" text-anchor="end" fill="#333" transform="rotate(-45 474.40 493.00)">BTZ</text>
<line x1="487.20" y1="485.40" x2="487.20" y2="487.80" stroke="#231f20" stroke-width="0.9"/>
<text x="490.10" y="493.00" font-size="6.3" text-anchor="end" fill="#333" transform="rotate(-45 490.10 493.00)">RSL3</text>
<line x1="502.85" y1="485.40" x2="502.85" y2="487.80" stroke="#231f20" stroke-width="0.9"/>
<text x="505.75" y="493.00" font-size="6.3" text-anchor="end" fill="#333" transform="rotate(-45 505.75 493.00)">BTZ+RSL3</text>
<line x1="471.00" y1="424.70" x2="503.50" y2="424.70" stroke="#222" stroke-width="1.0"/>
<text x="487.25" y="425.10" font-size="5.6" text-anchor="middle" fill="#222" stroke="#222" stroke-width="0.12">***</text>
<line x1="486.90" y1="434.20" x2="503.50" y2="434.20" stroke="#222" stroke-width="1.0"/>
<text x="495.20" y="434.60" font-size="5.6" text-anchor="middle" fill="#222" stroke="#222" stroke-width="0.12">***</text>
<text x="478.70" y="535.90" font-size="8.1" text-anchor="middle" fill="#111" stroke="#111" stroke-width="0.12">Lipid ROS</text>
<rect x="451.00" y="614.80" width="9.40" height="0.60" fill="#cf1130" />
<line x1="452.30" y1="613.90" x2="459.10" y2="613.90" stroke="#111" stroke-width="0.8"/>
<circle cx="452.50" cy="614.80" r="1.3" fill="#111"/>
<circle cx="455.70" cy="614.87" r="1.3" fill="#111"/>
<circle cx="458.90" cy="614.80" r="1.3" fill="#111"/>
<rect x="466.40" y="614.41" width="9.40" height="0.99" fill="#3aaa3c" />
<line x1="467.70" y1="613.44" x2="474.50" y2="613.44" stroke="#111" stroke-width="0.8"/>
<circle cx="467.90" cy="614.61" r="1.3" fill="#111"/>
<circle cx="471.10" cy="614.34" r="1.3" fill="#111"/>
<circle cx="474.30" cy="614.41" r="1.3" fill="#111"/>
<rect x="481.60" y="590.91" width="9.30" height="24.49" fill="#5e2a84" />
<line x1="486.25" y1="589.41" x2="486.25" y2="590.91" stroke="#111" stroke-width="0.8"/>
<line x1="484.05" y1="589.41" x2="488.45" y2="589.41" stroke="#111" stroke-width="0.8"/>
<line x1="482.85" y1="588.68" x2="489.65" y2="588.68" stroke="#111" stroke-width="0.8"/>
<circle cx="486.25" cy="589.58" r="1.3" fill="#111"/>
<rect x="496.80" y="569.39" width="9.40" height="46.01" fill="#f5921e" />
<line x1="501.50" y1="567.39" x2="501.50" y2="569.39" stroke="#111" stroke-width="0.8"/>
<line x1="499.30" y1="567.39" x2="503.70" y2="567.39" stroke="#111" stroke-width="0.8"/>
<line x1="498.10" y1="567.76" x2="504.90" y2="567.76" stroke="#111" stroke-width="0.8"/>
<circle cx="498.10" cy="569.19" r="1.3" fill="#111"/>
<circle cx="501.50" cy="568.86" r="1.3" fill="#111"/>
<circle cx="504.90" cy="568.66" r="1.3" fill="#111"/>
<line x1="445.10" y1="546.70" x2="445.10" y2="615.90" stroke="#231f20" stroke-width="1.2"/>
<line x1="444.60" y1="615.40" x2="512.50" y2="615.40" stroke="#231f20" stroke-width="1.2"/>
<line x1="442.50" y1="615.40" x2="445.10" y2="615.40" stroke="#231f20" stroke-width="0.9"/>
<text x="439.90" y="617.40" font-size="5.8" text-anchor="end" fill="#333" stroke="#333" stroke-width="0.12">0</text>
<line x1="442.50" y1="602.16" x2="445.10" y2="602.16" stroke="#231f20" stroke-width="0.9"/>
<text x="439.90" y="604.16" font-size="5.8" text-anchor="end" fill="#333" stroke="#333" stroke-width="0.12">20</text>
<line x1="442.50" y1="588.92" x2="445.10" y2="588.92" stroke="#231f20" stroke-width="0.9"/>
<text x="439.90" y="590.92" font-size="5.8" text-anchor="end" fill="#333" stroke="#333" stroke-width="0.12">40</text>
<line x1="442.50" y1="575.68" x2="445.10" y2="575.68" stroke="#231f20" stroke-width="0.9"/>
<text x="439.90" y="577.68" font-size="5.8" text-anchor="end" fill="#333" stroke="#333" stroke-width="0.12">60</text>
<line x1="442.50" y1="562.44" x2="445.10" y2="562.44" stroke="#231f20" stroke-width="0.9"/>
<text x="439.90" y="564.44" font-size="5.8" text-anchor="end" fill="#333" stroke="#333" stroke-width="0.12">80</text>
<line x1="442.50" y1="549.20" x2="445.10" y2="549.20" stroke="#231f20" stroke-width="0.9"/>
<text x="439.90" y="551.20" font-size="5.8" text-anchor="end" fill="#333" stroke="#333" stroke-width="0.12">100</text>
<text x="423.90" y="579.90" font-size="6.8" text-anchor="middle" fill="#222" transform="rotate(-90 423.90 579.90)" textLength="24.5" lengthAdjust="spacingAndGlyphs" stroke="#222" stroke-width="0.12">% of cells</text>
<line x1="455.70" y1="615.40" x2="455.70" y2="617.80" stroke="#231f20" stroke-width="0.9"/>
<text x="458.60" y="623.00" font-size="6.3" text-anchor="end" fill="#333" transform="rotate(-45 458.60 623.00)">DMSO</text>
<line x1="471.10" y1="615.40" x2="471.10" y2="617.80" stroke="#231f20" stroke-width="0.9"/>
<text x="474.00" y="623.00" font-size="6.3" text-anchor="end" fill="#333" transform="rotate(-45 474.00 623.00)">BTZ</text>
<line x1="486.25" y1="615.40" x2="486.25" y2="617.80" stroke="#231f20" stroke-width="0.9"/>
<text x="489.15" y="623.00" font-size="6.3" text-anchor="end" fill="#333" transform="rotate(-45 489.15 623.00)">RSL3</text>
<line x1="501.50" y1="615.40" x2="501.50" y2="617.80" stroke="#231f20" stroke-width="0.9"/>
<text x="504.40" y="623.00" font-size="6.3" text-anchor="end" fill="#333" transform="rotate(-45 504.40 623.00)">BTZ+RSL3</text>
<line x1="470.60" y1="552.70" x2="501.70" y2="552.70" stroke="#222" stroke-width="1.0"/>
<text x="486.15" y="553.10" font-size="5.6" text-anchor="middle" fill="#222" stroke="#222" stroke-width="0.12">***</text>
<line x1="485.90" y1="561.30" x2="501.70" y2="561.30" stroke="#222" stroke-width="1.0"/>
<text x="493.80" y="561.70" font-size="5.6" text-anchor="middle" fill="#222" stroke="#222" stroke-width="0.12">***</text>
<text x="6.30" y="15.60" font-size="11" fill="#000" font-weight="bold">A</text>
<text x="6.10" y="155.90" font-size="11" fill="#000" font-weight="bold">B</text>
<text x="411.00" y="15.60" font-size="11" fill="#000" font-weight="bold">C</text>
<text x="6.10" y="403.10" font-size="11" fill="#000" font-weight="bold">D</text>
<text x="6.10" y="534.70" font-size="11" fill="#000" font-weight="bold">E</text>
<rect x="0.50" y="0.50" width="519.00" height="652.00" fill="none" stroke="#6a6a6a" stroke-width="1.1" />
</svg>
</body></html>
